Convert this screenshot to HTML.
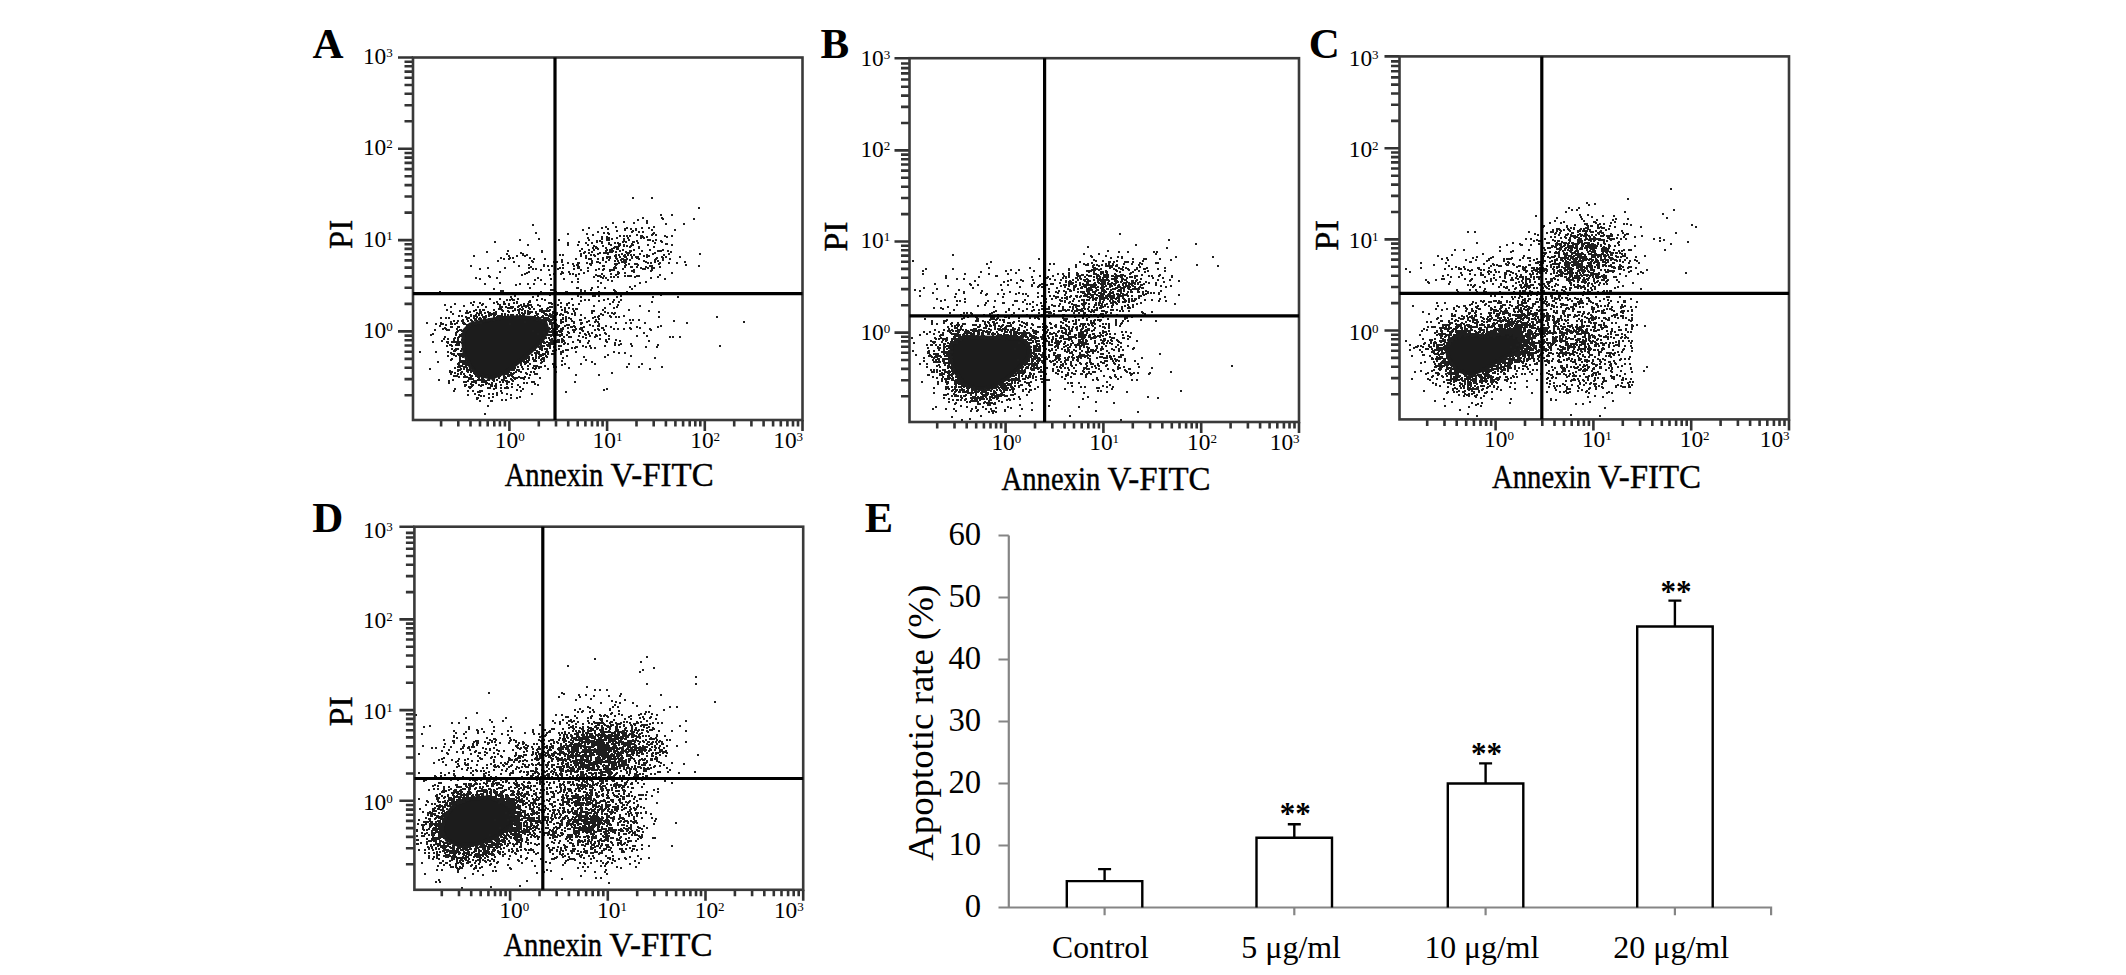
<!DOCTYPE html>
<html><head><meta charset="utf-8"><style>
html,body{margin:0;padding:0;background:#fff;}
svg{display:block;}
text{font-family:'Liberation Serif',serif;fill:#000;}
.h{stroke:#000;stroke-width:0.4px;}
</style></head><body>
<svg width="2126" height="975" viewBox="0 0 2126 975" style="font-family:'Liberation Serif',serif">
<rect width="2126" height="975" fill="#fff"/>
<polygon points="470.3,324.5 484.6,320.9 500.4,318.1 517.7,317.3 533.5,318.1 545.0,321.7 547.8,330.3 542.1,340.3 532.0,350.4 520.5,360.4 506.2,371.9 491.8,377.7 478.9,374.8 470.3,366.2 464.5,353.2 463.1,340.3 464.5,330.3" fill="#1c1c1c" stroke="#1c1c1c" stroke-width="4" stroke-linejoin="round"/><path d="M632 197.5h2M651 197.5h2M632 198.5h2M651 198.5h2M698 207.5h2M698 208.5h2M660 214.5h2M671 214.5h2M660 215.5h2M671 215.5h2M642 217.5h2M661 217.5h2M642 218.5h2M661 218.5h3M693 218.5h2M637 219.5h2M662 219.5h2M693 219.5h2M637 220.5h2M646 220.5h2M623 221.5h2M646 221.5h2M612 222.5h2M623 222.5h2M633 222.5h2M646 222.5h2M612 223.5h2M633 223.5h2M646 223.5h2M665 223.5h2M683 223.5h2M532 224.5h2M665 224.5h2M683 224.5h2M532 225.5h2M605 226.5h2M615 226.5h2M653 226.5h2M588 227.5h2M601 227.5h2M605 227.5h2M615 227.5h2M626 227.5h2M641 227.5h2M648 227.5h2M653 227.5h2M588 228.5h2M601 228.5h2M607 228.5h2M624 228.5h4M630 228.5h2M635 228.5h2M641 228.5h2M648 228.5h2M582 229.5h2M607 229.5h2M624 229.5h2M630 229.5h2M635 229.5h2M651 229.5h2M674 229.5h2M582 230.5h2M616 230.5h2M624 230.5h2M632 230.5h2M635 230.5h2M651 230.5h2M674 230.5h2M597 231.5h2M616 231.5h2M631 231.5h3M638 231.5h2M642 231.5h2M535 232.5h2M597 232.5h2M603 232.5h2M607 232.5h2M631 232.5h2M638 232.5h2M642 232.5h2M653 232.5h2M535 233.5h2M567 233.5h2M586 233.5h2M603 233.5h2M607 233.5h3M652 233.5h3M567 234.5h2M586 234.5h2M592 234.5h2M608 234.5h2M636 234.5h2M651 234.5h3M655 234.5h2M592 235.5h2M619 235.5h2M623 235.5h2M626 235.5h2M629 235.5h2M636 235.5h2M640 235.5h3M651 235.5h2M655 235.5h2M664 235.5h2M671 235.5h2M601 236.5h2M606 236.5h2M619 236.5h2M623 236.5h2M626 236.5h2M629 236.5h2M640 236.5h4M646 236.5h2M664 236.5h4M671 236.5h2M587 237.5h2M601 237.5h2M606 237.5h4M616 237.5h2M627 237.5h2M640 237.5h5M646 237.5h2M666 237.5h2M538 238.5h2M587 238.5h2M601 238.5h2M606 238.5h4M611 238.5h2M616 238.5h2M623 238.5h2M627 238.5h2M640 238.5h2M643 238.5h2M519 239.5h2M538 239.5h2M558 239.5h2M588 239.5h2M601 239.5h2M606 239.5h4M611 239.5h2M623 239.5h2M628 239.5h2M647 239.5h4M655 239.5h2M519 240.5h2M558 240.5h2M588 240.5h2M596 240.5h2M599 240.5h2M606 240.5h4M623 240.5h2M628 240.5h2M636 240.5h2M647 240.5h4M652 240.5h2M655 240.5h2M660 240.5h2M494 241.5h2M578 241.5h2M596 241.5h2M599 241.5h4M622 241.5h5M632 241.5h3M636 241.5h2M652 241.5h2M660 241.5h3M494 242.5h2M567 242.5h2M578 242.5h2M585 242.5h2M591 242.5h2M596 242.5h2M601 242.5h2M608 242.5h2M614 242.5h2M617 242.5h2M622 242.5h2M625 242.5h2M632 242.5h3M637 242.5h2M654 242.5h2M661 242.5h2M567 243.5h2M585 243.5h2M591 243.5h2M601 243.5h2M608 243.5h2M614 243.5h2M617 243.5h4M631 243.5h2M637 243.5h2M654 243.5h2M665 243.5h3M527 244.5h2M567 244.5h2M577 244.5h2M587 244.5h2M608 244.5h4M618 244.5h3M623 244.5h2M631 244.5h3M647 244.5h2M665 244.5h3M671 244.5h2M527 245.5h2M567 245.5h2M577 245.5h2M587 245.5h2M593 245.5h2M602 245.5h2M610 245.5h2M618 245.5h3M623 245.5h2M626 245.5h2M630 245.5h4M647 245.5h2M671 245.5h2M593 246.5h4M602 246.5h2M614 246.5h6M623 246.5h2M626 246.5h2M629 246.5h3M638 246.5h2M653 246.5h2M592 247.5h2M595 247.5h3M605 247.5h2M613 247.5h6M629 247.5h2M638 247.5h2M653 247.5h2M581 248.5h2M592 248.5h2M595 248.5h4M605 248.5h2M611 248.5h4M616 248.5h3M638 248.5h2M581 249.5h2M588 249.5h2M593 249.5h2M597 249.5h2M606 249.5h2M609 249.5h4M616 249.5h3M622 249.5h2M633 249.5h2M649 249.5h2M662 249.5h2M507 250.5h2M541 250.5h2M579 250.5h2M588 250.5h2M593 250.5h2M605 250.5h3M609 250.5h5M619 250.5h2M622 250.5h2M629 250.5h3M633 250.5h2M641 250.5h2M649 250.5h2M657 250.5h7M667 250.5h2M486 251.5h2M507 251.5h2M541 251.5h2M579 251.5h2M584 251.5h2M591 251.5h2M605 251.5h2M609 251.5h5M615 251.5h2M619 251.5h2M625 251.5h2M629 251.5h3M641 251.5h2M657 251.5h5M667 251.5h2M670 251.5h2M486 252.5h2M520 252.5h2M541 252.5h2M583 252.5h3M588 252.5h2M591 252.5h2M599 252.5h2M603 252.5h10M615 252.5h2M625 252.5h6M654 252.5h2M670 252.5h2M506 253.5h2M520 253.5h4M580 253.5h2M583 253.5h2M588 253.5h2M597 253.5h4M603 253.5h6M621 253.5h2M626 253.5h4M639 253.5h2M652 253.5h4M668 253.5h2M699 253.5h2M506 254.5h2M522 254.5h2M526 254.5h2M559 254.5h2M562 254.5h2M580 254.5h2M590 254.5h2M593 254.5h2M597 254.5h2M607 254.5h2M615 254.5h2M618 254.5h2M621 254.5h2M624 254.5h2M627 254.5h2M630 254.5h2M633 254.5h2M639 254.5h2M646 254.5h2M652 254.5h2M663 254.5h2M668 254.5h2M699 254.5h2M473 255.5h2M508 255.5h2M516 255.5h2M522 255.5h6M559 255.5h2M562 255.5h2M580 255.5h2M585 255.5h2M590 255.5h2M593 255.5h3M614 255.5h3M618 255.5h2M623 255.5h3M627 255.5h2M630 255.5h2M633 255.5h2M643 255.5h2M646 255.5h4M663 255.5h2M473 256.5h2M508 256.5h2M516 256.5h2M524 256.5h2M580 256.5h2M585 256.5h2M594 256.5h2M606 256.5h5M614 256.5h3M619 256.5h2M623 256.5h4M631 256.5h2M635 256.5h4M643 256.5h2M646 256.5h4M661 256.5h2M665 256.5h2M679 256.5h2M500 257.5h2M509 257.5h2M512 257.5h2M529 257.5h2M585 257.5h2M602 257.5h2M606 257.5h5M615 257.5h2M619 257.5h2M624 257.5h3M631 257.5h2M635 257.5h4M646 257.5h2M656 257.5h2M661 257.5h3M665 257.5h2M679 257.5h2M500 258.5h2M503 258.5h2M508 258.5h3M512 258.5h2M529 258.5h2M533 258.5h2M544 258.5h2M575 258.5h2M585 258.5h2M588 258.5h4M597 258.5h2M602 258.5h2M606 258.5h2M609 258.5h2M615 258.5h3M621 258.5h3M626 258.5h2M631 258.5h2M636 258.5h4M655 258.5h3M662 258.5h2M669 258.5h2M503 259.5h2M508 259.5h2M533 259.5h2M544 259.5h2M561 259.5h2M575 259.5h2M588 259.5h4M597 259.5h2M602 259.5h2M608 259.5h2M616 259.5h2M620 259.5h8M629 259.5h2M638 259.5h2M654 259.5h3M662 259.5h2M669 259.5h2M497 260.5h2M531 260.5h2M554 260.5h2M561 260.5h2M591 260.5h2M602 260.5h2M608 260.5h2M614 260.5h2M617 260.5h2M620 260.5h2M623 260.5h4M629 260.5h2M643 260.5h2M654 260.5h2M657 260.5h2M662 260.5h2M497 261.5h2M513 261.5h2M531 261.5h3M553 261.5h5M561 261.5h2M591 261.5h2M596 261.5h3M605 261.5h2M614 261.5h2M617 261.5h2M621 261.5h6M643 261.5h4M654 261.5h2M657 261.5h2M684 261.5h2M513 262.5h2M532 262.5h2M553 262.5h2M556 262.5h2M561 262.5h2M567 262.5h2M577 262.5h3M586 262.5h2M591 262.5h2M596 262.5h5M605 262.5h2M618 262.5h2M621 262.5h6M645 262.5h4M650 262.5h2M654 262.5h2M659 262.5h2M668 262.5h2M676 262.5h2M684 262.5h2M567 263.5h2M572 263.5h2M577 263.5h3M586 263.5h2M589 263.5h4M599 263.5h2M614 263.5h6M624 263.5h2M628 263.5h2M634 263.5h4M647 263.5h2M650 263.5h2M658 263.5h3M668 263.5h2M676 263.5h2M528 264.5h2M543 264.5h2M562 264.5h2M572 264.5h2M576 264.5h3M589 264.5h3M614 264.5h4M625 264.5h2M628 264.5h2M634 264.5h5M658 264.5h2M685 264.5h2M470 265.5h2M518 265.5h2M528 265.5h2M543 265.5h2M547 265.5h2M551 265.5h2M562 265.5h2M573 265.5h2M576 265.5h3M590 265.5h2M602 265.5h3M615 265.5h2M624 265.5h3M637 265.5h2M649 265.5h4M685 265.5h2M698 265.5h2M470 266.5h2M518 266.5h2M530 266.5h2M543 266.5h2M547 266.5h2M551 266.5h2M573 266.5h2M577 266.5h3M602 266.5h3M614 266.5h2M624 266.5h2M630 266.5h3M636 266.5h2M645 266.5h2M649 266.5h4M659 266.5h2M698 266.5h2M487 267.5h2M504 267.5h2M528 267.5h4M559 267.5h2M562 267.5h2M577 267.5h3M587 267.5h2M613 267.5h4M624 267.5h2M630 267.5h3M636 267.5h2M640 267.5h2M645 267.5h4M651 267.5h4M659 267.5h2M479 268.5h2M487 268.5h2M504 268.5h2M528 268.5h2M532 268.5h2M535 268.5h2M557 268.5h4M562 268.5h2M573 268.5h2M577 268.5h3M587 268.5h2M598 268.5h2M603 268.5h2M613 268.5h4M622 268.5h2M640 268.5h6M647 268.5h2M651 268.5h4M479 269.5h2M532 269.5h2M535 269.5h2M540 269.5h2M548 269.5h2M557 269.5h2M573 269.5h2M580 269.5h2M595 269.5h2M598 269.5h2M602 269.5h3M609 269.5h6M622 269.5h2M633 269.5h2M642 269.5h4M651 269.5h2M540 270.5h2M548 270.5h2M580 270.5h2M587 270.5h2M595 270.5h2M602 270.5h2M609 270.5h6M631 270.5h4M650 270.5h3M499 271.5h2M528 271.5h2M561 271.5h2M568 271.5h2M587 271.5h2M609 271.5h2M617 271.5h2M631 271.5h4M650 271.5h2M499 272.5h2M526 272.5h4M561 272.5h3M568 272.5h2M583 272.5h2M617 272.5h3M624 272.5h2M633 272.5h2M671 272.5h2M524 273.5h4M553 273.5h2M560 273.5h4M569 273.5h2M572 273.5h2M578 273.5h2M583 273.5h2M601 273.5h2M610 273.5h2M617 273.5h3M624 273.5h2M671 273.5h2M521 274.5h2M524 274.5h2M549 274.5h2M553 274.5h2M560 274.5h2M569 274.5h2M572 274.5h2M575 274.5h2M578 274.5h2M595 274.5h2M601 274.5h2M610 274.5h2M615 274.5h4M659 274.5h2M488 275.5h2M521 275.5h2M549 275.5h2M575 275.5h2M595 275.5h6M603 275.5h2M615 275.5h2M624 275.5h2M627 275.5h5M636 275.5h4M659 275.5h2M488 276.5h3M575 276.5h2M593 276.5h2M597 276.5h5M603 276.5h2M610 276.5h2M613 276.5h2M617 276.5h2M624 276.5h2M627 276.5h5M634 276.5h6M657 276.5h2M475 277.5h2M489 277.5h2M496 277.5h2M537 277.5h2M554 277.5h2M593 277.5h2M600 277.5h4M605 277.5h2M610 277.5h2M613 277.5h2M617 277.5h2M634 277.5h2M650 277.5h2M657 277.5h2M475 278.5h2M479 278.5h2M496 278.5h2M537 278.5h2M550 278.5h2M554 278.5h2M563 278.5h2M577 278.5h2M602 278.5h2M605 278.5h2M650 278.5h2M664 278.5h2M479 279.5h2M534 279.5h2M540 279.5h2M550 279.5h2M563 279.5h2M577 279.5h2M607 279.5h2M664 279.5h2M534 280.5h2M540 280.5h2M597 280.5h2M607 280.5h2M611 280.5h2M571 281.5h2M577 281.5h2M597 281.5h2M611 281.5h2M645 281.5h2M499 282.5h2M571 282.5h2M577 282.5h2M600 282.5h2M639 282.5h2M645 282.5h2M484 283.5h2M499 283.5h2M519 283.5h2M527 283.5h2M533 283.5h2M544 283.5h2M600 283.5h2M639 283.5h2M484 284.5h2M515 284.5h2M519 284.5h2M527 284.5h2M533 284.5h2M544 284.5h2M550 284.5h2M515 285.5h2M550 285.5h2M634 285.5h2M597 286.5h2M629 286.5h2M634 286.5h2M529 287.5h2M576 287.5h3M591 287.5h2M597 287.5h2M604 287.5h2M629 287.5h2M493 288.5h2M529 288.5h2M576 288.5h3M591 288.5h2M604 288.5h2M631 288.5h2M493 289.5h2M550 289.5h4M580 289.5h2M590 289.5h2M613 289.5h2M631 289.5h2M500 290.5h4M550 290.5h4M580 290.5h2M584 290.5h2M590 290.5h2M613 290.5h3M439 291.5h2M500 291.5h4M540 291.5h2M555 291.5h2M565 291.5h3M580 291.5h2M584 291.5h2M598 291.5h2M614 291.5h3M626 291.5h2M439 292.5h2M508 292.5h2M512 292.5h3M521 292.5h2M540 292.5h2M555 292.5h2M563 292.5h5M570 292.5h2M575 292.5h2M580 292.5h2M592 292.5h2M598 292.5h2M615 292.5h2M626 292.5h2M508 293.5h2M512 293.5h3M521 293.5h2M546 293.5h2M563 293.5h2M570 293.5h2M575 293.5h2M592 293.5h2M595 293.5h2M598 293.5h2M602 293.5h2M632 293.5h2M546 294.5h2M549 294.5h2M592 294.5h2M595 294.5h2M602 294.5h2M632 294.5h2M660 294.5h2M514 295.5h2M537 295.5h2M549 295.5h2M577 295.5h2M592 295.5h4M598 295.5h2M620 295.5h2M660 295.5h2M510 296.5h2M514 296.5h2M532 296.5h2M537 296.5h2M577 296.5h2M580 296.5h2M592 296.5h4M598 296.5h2M616 296.5h2M620 296.5h2M652 296.5h2M677 296.5h2M510 297.5h2M532 297.5h2M580 297.5h2M616 297.5h2M652 297.5h2M677 297.5h2M489 298.5h2M499 298.5h2M511 298.5h2M517 298.5h2M541 298.5h2M571 298.5h2M607 298.5h2M489 299.5h2M499 299.5h2M506 299.5h2M509 299.5h6M517 299.5h2M536 299.5h2M541 299.5h2M544 299.5h2M558 299.5h2M571 299.5h2M584 299.5h2M588 299.5h2M603 299.5h2M607 299.5h2M613 299.5h2M620 299.5h2M506 300.5h2M509 300.5h2M512 300.5h3M529 300.5h2M536 300.5h2M544 300.5h2M558 300.5h2M580 300.5h2M584 300.5h2M588 300.5h2M598 300.5h2M603 300.5h2M613 300.5h2M620 300.5h2M473 301.5h2M496 301.5h2M503 301.5h2M516 301.5h2M528 301.5h3M580 301.5h2M598 301.5h2M612 301.5h2M618 301.5h2M651 301.5h2M470 302.5h2M473 302.5h2M479 302.5h2M493 302.5h2M496 302.5h2M503 302.5h2M513 302.5h2M516 302.5h2M528 302.5h3M548 302.5h4M560 302.5h2M568 302.5h2M612 302.5h2M618 302.5h2M651 302.5h2M454 303.5h2M470 303.5h2M479 303.5h2M482 303.5h2M493 303.5h2M497 303.5h2M503 303.5h3M508 303.5h2M513 303.5h2M516 303.5h2M523 303.5h2M527 303.5h2M548 303.5h5M560 303.5h2M566 303.5h4M578 303.5h2M609 303.5h2M444 304.5h2M454 304.5h2M472 304.5h2M481 304.5h3M497 304.5h4M503 304.5h3M508 304.5h2M520 304.5h2M523 304.5h2M527 304.5h5M537 304.5h2M551 304.5h2M557 304.5h2M566 304.5h2M572 304.5h2M578 304.5h2M609 304.5h2M617 304.5h2M444 305.5h2M463 305.5h2M472 305.5h2M481 305.5h2M499 305.5h2M508 305.5h2M518 305.5h4M523 305.5h9M537 305.5h4M557 305.5h2M566 305.5h2M572 305.5h2M593 305.5h2M617 305.5h2M639 305.5h2M450 306.5h2M463 306.5h2M477 306.5h2M485 306.5h2M499 306.5h4M505 306.5h2M510 306.5h4M517 306.5h3M521 306.5h8M531 306.5h2M539 306.5h2M549 306.5h4M560 306.5h2M593 306.5h2M616 306.5h2M639 306.5h2M450 307.5h2M477 307.5h2M485 307.5h2M499 307.5h4M505 307.5h9M517 307.5h2M521 307.5h2M525 307.5h2M528 307.5h2M531 307.5h2M547 307.5h6M560 307.5h2M564 307.5h2M568 307.5h2M604 307.5h2M613 307.5h2M616 307.5h2M498 308.5h4M507 308.5h6M514 308.5h2M519 308.5h2M522 308.5h2M528 308.5h3M533 308.5h2M541 308.5h2M546 308.5h3M564 308.5h2M568 308.5h2M572 308.5h2M575 308.5h3M604 308.5h2M613 308.5h2M446 309.5h2M475 309.5h2M479 309.5h2M482 309.5h3M493 309.5h2M498 309.5h5M514 309.5h2M517 309.5h7M529 309.5h2M533 309.5h2M539 309.5h4M546 309.5h2M549 309.5h2M561 309.5h2M564 309.5h2M572 309.5h2M575 309.5h3M602 309.5h2M628 309.5h2M446 310.5h2M459 310.5h2M466 310.5h2M473 310.5h4M479 310.5h2M482 310.5h3M493 310.5h2M501 310.5h3M507 310.5h2M512 310.5h4M517 310.5h3M521 310.5h2M524 310.5h2M527 310.5h2M539 310.5h12M561 310.5h2M564 310.5h2M573 310.5h2M591 310.5h4M602 310.5h2M628 310.5h2M648 310.5h2M450 311.5h2M459 311.5h2M466 311.5h2M469 311.5h2M473 311.5h2M479 311.5h3M487 311.5h2M495 311.5h2M502 311.5h2M507 311.5h3M512 311.5h2M518 311.5h2M524 311.5h2M527 311.5h6M535 311.5h2M539 311.5h11M552 311.5h3M564 311.5h4M573 311.5h2M591 311.5h4M604 311.5h2M648 311.5h2M658 311.5h2M450 312.5h2M465 312.5h6M476 312.5h2M479 312.5h3M484 312.5h2M487 312.5h4M493 312.5h4M508 312.5h2M518 312.5h2M521 312.5h2M524 312.5h2M527 312.5h6M535 312.5h2M541 312.5h4M552 312.5h3M556 312.5h2M564 312.5h5M574 312.5h2M591 312.5h2M604 312.5h2M607 312.5h2M611 312.5h2M614 312.5h2M658 312.5h2M452 313.5h2M465 313.5h4M476 313.5h6M484 313.5h2M488 313.5h9M501 313.5h2M504 313.5h2M518 313.5h2M521 313.5h5M527 313.5h4M535 313.5h4M543 313.5h4M549 313.5h2M552 313.5h2M556 313.5h2M560 313.5h2M567 313.5h2M571 313.5h2M574 313.5h2M591 313.5h2M600 313.5h2M607 313.5h2M611 313.5h5M452 314.5h2M470 314.5h2M475 314.5h2M478 314.5h2M481 314.5h2M488 314.5h9M501 314.5h2M504 314.5h2M507 314.5h2M510 314.5h4M516 314.5h2M519 314.5h2M522 314.5h3M527 314.5h3M536 314.5h3M544 314.5h4M549 314.5h4M555 314.5h3M559 314.5h5M571 314.5h2M574 314.5h2M580 314.5h2M600 314.5h4M613 314.5h2M458 315.5h2M461 315.5h2M470 315.5h2M473 315.5h4M478 315.5h2M481 315.5h2M485 315.5h2M488 315.5h4M493 315.5h3M497 315.5h6M504 315.5h2M507 315.5h2M510 315.5h4M516 315.5h2M519 315.5h6M534 315.5h4M542 315.5h2M545 315.5h12M559 315.5h2M562 315.5h2M574 315.5h2M580 315.5h2M598 315.5h2M602 315.5h2M609 315.5h2M623 315.5h2M458 316.5h2M461 316.5h2M465 316.5h2M470 316.5h2M473 316.5h5M482 316.5h5M488 316.5h2M493 316.5h2M496 316.5h6M504 316.5h2M507 316.5h4M512 316.5h11M526 316.5h2M530 316.5h6M537 316.5h2M541 316.5h3M548 316.5h7M565 316.5h2M594 316.5h2M597 316.5h3M609 316.5h3M615 316.5h2M618 316.5h2M623 316.5h2M658 316.5h2M716 316.5h2M440 317.5h2M445 317.5h2M448 317.5h2M465 317.5h5M473 317.5h2M476 317.5h2M479 317.5h2M482 317.5h5M493 317.5h9M503 317.5h2M506 317.5h5M514 317.5h8M523 317.5h2M526 317.5h23M550 317.5h5M562 317.5h2M565 317.5h2M568 317.5h2M584 317.5h2M592 317.5h4M597 317.5h2M610 317.5h2M615 317.5h2M618 317.5h2M658 317.5h2M716 317.5h2M440 318.5h2M445 318.5h2M448 318.5h2M466 318.5h4M473 318.5h4M478 318.5h4M483 318.5h3M488 318.5h4M493 318.5h4M498 318.5h4M503 318.5h2M506 318.5h5M516 318.5h6M523 318.5h2M527 318.5h3M531 318.5h10M543 318.5h7M552 318.5h3M562 318.5h2M565 318.5h2M568 318.5h4M584 318.5h2M592 318.5h2M598 318.5h2M462 319.5h2M466 319.5h2M470 319.5h2M474 319.5h3M478 319.5h4M483 319.5h2M486 319.5h6M493 319.5h2M531 319.5h4M536 319.5h5M543 319.5h14M560 319.5h4M565 319.5h2M570 319.5h2M579 319.5h3M595 319.5h2M598 319.5h2M629 319.5h2M632 319.5h2M638 319.5h2M453 320.5h2M457 320.5h2M461 320.5h3M467 320.5h2M470 320.5h3M474 320.5h4M483 320.5h2M486 320.5h4M493 320.5h2M536 320.5h2M539 320.5h2M542 320.5h11M554 320.5h3M560 320.5h2M565 320.5h2M571 320.5h2M579 320.5h3M588 320.5h2M595 320.5h2M629 320.5h2M632 320.5h2M638 320.5h2M673 320.5h2M450 321.5h2M453 321.5h2M457 321.5h2M461 321.5h3M467 321.5h2M471 321.5h3M476 321.5h2M483 321.5h2M524 321.5h2M542 321.5h2M548 321.5h4M554 321.5h2M560 321.5h4M565 321.5h2M571 321.5h4M586 321.5h4M594 321.5h5M673 321.5h2M743 321.5h2M426 322.5h2M440 322.5h2M450 322.5h2M456 322.5h2M462 322.5h3M472 322.5h10M524 322.5h2M542 322.5h2M545 322.5h2M549 322.5h7M560 322.5h4M573 322.5h2M580 322.5h3M586 322.5h2M594 322.5h2M597 322.5h2M615 322.5h2M625 322.5h2M630 322.5h2M644 322.5h2M686 322.5h2M743 322.5h2M426 323.5h2M435 323.5h2M440 323.5h4M450 323.5h3M454 323.5h4M462 323.5h4M469 323.5h2M474 323.5h8M509 323.5h2M545 323.5h2M549 323.5h5M555 323.5h2M560 323.5h2M573 323.5h2M580 323.5h3M598 323.5h2M615 323.5h2M625 323.5h2M630 323.5h2M644 323.5h2M686 323.5h2M435 324.5h2M440 324.5h4M445 324.5h2M450 324.5h3M454 324.5h2M463 324.5h5M469 324.5h2M474 324.5h3M509 324.5h2M549 324.5h4M555 324.5h3M566 324.5h4M580 324.5h2M589 324.5h2M598 324.5h2M439 325.5h2M445 325.5h2M466 325.5h2M469 325.5h2M551 325.5h2M556 325.5h4M564 325.5h6M573 325.5h2M589 325.5h2M592 325.5h2M597 325.5h3M605 325.5h2M660 325.5h2M439 326.5h2M450 326.5h3M457 326.5h3M468 326.5h3M546 326.5h2M551 326.5h2M556 326.5h4M564 326.5h2M570 326.5h6M583 326.5h2M592 326.5h2M597 326.5h3M605 326.5h2M610 326.5h2M636 326.5h2M657 326.5h2M660 326.5h2M444 327.5h2M450 327.5h3M457 327.5h3M465 327.5h5M546 327.5h4M551 327.5h2M556 327.5h3M562 327.5h2M567 327.5h2M570 327.5h3M574 327.5h2M580 327.5h5M601 327.5h3M610 327.5h2M629 327.5h2M636 327.5h2M639 327.5h2M657 327.5h2M442 328.5h5M456 328.5h2M465 328.5h4M548 328.5h6M556 328.5h2M560 328.5h4M567 328.5h2M575 328.5h2M579 328.5h4M597 328.5h2M601 328.5h3M613 328.5h2M617 328.5h2M623 328.5h2M629 328.5h3M639 328.5h2M649 328.5h2M434 329.5h2M442 329.5h2M445 329.5h5M456 329.5h2M459 329.5h3M464 329.5h4M549 329.5h2M552 329.5h6M560 329.5h4M572 329.5h5M579 329.5h4M594 329.5h2M597 329.5h3M603 329.5h2M613 329.5h2M617 329.5h2M623 329.5h2M630 329.5h2M649 329.5h3M434 330.5h2M446 330.5h4M457 330.5h6M464 330.5h3M532 330.5h2M551 330.5h5M558 330.5h5M572 330.5h4M581 330.5h3M594 330.5h2M598 330.5h2M603 330.5h2M650 330.5h2M456 331.5h3M461 331.5h2M464 331.5h2M532 331.5h2M543 331.5h2M549 331.5h5M555 331.5h8M567 331.5h2M573 331.5h2M582 331.5h2M587 331.5h2M455 332.5h3M463 332.5h2M543 332.5h2M549 332.5h9M559 332.5h3M567 332.5h3M573 332.5h2M579 332.5h2M587 332.5h2M591 332.5h2M604 332.5h2M643 332.5h2M432 333.5h2M455 333.5h2M461 333.5h4M537 333.5h2M543 333.5h2M552 333.5h6M561 333.5h2M568 333.5h2M579 333.5h2M584 333.5h2M588 333.5h2M591 333.5h2M604 333.5h3M643 333.5h2M430 334.5h4M455 334.5h2M459 334.5h6M537 334.5h2M547 334.5h7M555 334.5h8M566 334.5h2M584 334.5h3M588 334.5h2M595 334.5h2M599 334.5h2M605 334.5h2M430 335.5h2M455 335.5h2M459 335.5h6M544 335.5h2M547 335.5h16M566 335.5h2M578 335.5h2M585 335.5h2M589 335.5h2M595 335.5h3M599 335.5h2M608 335.5h2M636 335.5h2M646 335.5h2M444 336.5h2M458 336.5h7M544 336.5h2M550 336.5h2M553 336.5h2M559 336.5h2M563 336.5h2M568 336.5h4M578 336.5h2M582 336.5h2M589 336.5h2M594 336.5h4M608 336.5h2M636 336.5h2M646 336.5h2M669 336.5h2M672 336.5h2M679 336.5h2M444 337.5h2M454 337.5h2M457 337.5h3M462 337.5h3M545 337.5h2M548 337.5h2M554 337.5h2M563 337.5h2M568 337.5h4M582 337.5h2M585 337.5h2M594 337.5h2M669 337.5h2M672 337.5h2M679 337.5h2M443 338.5h2M447 338.5h2M453 338.5h3M457 338.5h2M463 338.5h2M545 338.5h2M548 338.5h2M551 338.5h2M554 338.5h2M561 338.5h2M585 338.5h2M599 338.5h2M608 338.5h2M443 339.5h2M447 339.5h2M453 339.5h2M457 339.5h2M461 339.5h2M549 339.5h4M557 339.5h3M561 339.5h3M577 339.5h2M599 339.5h2M605 339.5h2M608 339.5h2M615 339.5h2M441 340.5h2M453 340.5h2M457 340.5h2M461 340.5h3M549 340.5h11M561 340.5h4M577 340.5h4M588 340.5h2M605 340.5h2M615 340.5h2M619 340.5h2M648 340.5h2M432 341.5h2M441 341.5h2M446 341.5h3M451 341.5h10M462 341.5h2M542 341.5h3M546 341.5h2M550 341.5h10M561 341.5h4M572 341.5h2M579 341.5h2M588 341.5h2M605 341.5h3M619 341.5h2M648 341.5h2M432 342.5h2M446 342.5h3M451 342.5h12M542 342.5h18M561 342.5h2M564 342.5h2M572 342.5h2M579 342.5h2M587 342.5h2M606 342.5h2M614 342.5h2M447 343.5h2M456 343.5h4M461 343.5h2M540 343.5h2M543 343.5h3M548 343.5h8M563 343.5h3M567 343.5h2M587 343.5h2M614 343.5h2M620 343.5h2M630 343.5h2M449 344.5h3M455 344.5h5M540 344.5h2M546 344.5h10M563 344.5h2M567 344.5h2M614 344.5h2M618 344.5h4M630 344.5h2M657 344.5h2M446 345.5h2M449 345.5h4M455 345.5h5M540 345.5h5M546 345.5h5M558 345.5h4M582 345.5h2M589 345.5h2M604 345.5h2M614 345.5h2M618 345.5h2M631 345.5h2M657 345.5h2M719 345.5h2M446 346.5h2M451 346.5h2M463 346.5h2M538 346.5h7M547 346.5h4M553 346.5h3M558 346.5h4M575 346.5h3M582 346.5h2M585 346.5h2M589 346.5h2M604 346.5h2M631 346.5h2M645 346.5h2M656 346.5h2M719 346.5h2M463 347.5h2M538 347.5h5M549 347.5h2M553 347.5h3M571 347.5h2M574 347.5h4M585 347.5h2M590 347.5h2M594 347.5h2M645 347.5h2M656 347.5h2M451 348.5h2M455 348.5h4M461 348.5h2M539 348.5h4M544 348.5h4M549 348.5h2M558 348.5h2M571 348.5h2M574 348.5h2M590 348.5h2M594 348.5h2M451 349.5h2M454 349.5h5M461 349.5h2M534 349.5h2M539 349.5h4M544 349.5h4M555 349.5h2M558 349.5h2M565 349.5h4M453 350.5h4M460 350.5h2M534 350.5h4M541 350.5h2M546 350.5h2M552 350.5h2M555 350.5h2M562 350.5h2M565 350.5h4M419 351.5h2M435 351.5h2M447 351.5h2M453 351.5h3M460 351.5h2M536 351.5h4M545 351.5h4M552 351.5h2M560 351.5h4M575 351.5h2M613 351.5h2M419 352.5h2M435 352.5h2M447 352.5h2M450 352.5h2M463 352.5h2M534 352.5h6M545 352.5h4M560 352.5h4M575 352.5h2M613 352.5h2M618 352.5h2M624 352.5h2M450 353.5h5M457 353.5h8M534 353.5h6M542 353.5h4M547 353.5h2M551 353.5h3M560 353.5h2M618 353.5h2M624 353.5h2M451 354.5h4M457 354.5h9M531 354.5h2M535 354.5h2M538 354.5h8M547 354.5h2M551 354.5h3M560 354.5h2M607 354.5h2M447 355.5h2M453 355.5h4M458 355.5h8M531 355.5h2M535 355.5h2M539 355.5h5M545 355.5h2M566 355.5h2M607 355.5h2M630 355.5h2M447 356.5h2M455 356.5h2M459 356.5h5M465 356.5h2M527 356.5h3M535 356.5h2M538 356.5h4M545 356.5h3M566 356.5h2M583 356.5h2M604 356.5h2M630 356.5h2M459 357.5h2M462 357.5h2M465 357.5h3M526 357.5h4M532 357.5h2M535 357.5h2M538 357.5h2M542 357.5h3M546 357.5h2M562 357.5h2M583 357.5h2M604 357.5h2M654 357.5h2M451 358.5h2M459 358.5h2M465 358.5h3M524 358.5h6M532 358.5h2M535 358.5h2M538 358.5h2M541 358.5h4M562 358.5h2M654 358.5h2M450 359.5h3M459 359.5h2M465 359.5h3M524 359.5h3M528 359.5h2M532 359.5h4M540 359.5h5M585 359.5h2M450 360.5h2M459 360.5h9M522 360.5h3M526 360.5h4M533 360.5h4M540 360.5h2M543 360.5h2M561 360.5h2M585 360.5h2M437 361.5h2M459 361.5h7M468 361.5h2M522 361.5h7M533 361.5h4M541 361.5h4M561 361.5h2M591 361.5h2M437 362.5h2M458 362.5h12M520 362.5h2M523 362.5h6M540 362.5h3M591 362.5h2M457 363.5h3M462 363.5h8M520 363.5h2M524 363.5h3M529 363.5h2M540 363.5h2M552 363.5h2M564 363.5h2M580 363.5h2M594 363.5h2M628 363.5h2M641 363.5h2M457 364.5h3M462 364.5h6M469 364.5h2M520 364.5h2M524 364.5h2M529 364.5h2M552 364.5h2M561 364.5h2M564 364.5h2M580 364.5h2M594 364.5h2M628 364.5h2M641 364.5h2M458 365.5h5M465 365.5h3M469 365.5h2M520 365.5h2M527 365.5h2M533 365.5h5M544 365.5h2M553 365.5h2M561 365.5h2M457 366.5h10M469 366.5h2M517 366.5h2M521 366.5h2M527 366.5h2M533 366.5h9M544 366.5h2M553 366.5h4M626 366.5h2M638 366.5h2M661 366.5h2M454 367.5h2M457 367.5h4M463 367.5h5M469 367.5h3M513 367.5h3M517 367.5h2M521 367.5h2M532 367.5h2M535 367.5h2M538 367.5h4M553 367.5h4M568 367.5h2M626 367.5h2M638 367.5h2M661 367.5h2M429 368.5h2M454 368.5h2M460 368.5h2M463 368.5h2M466 368.5h2M469 368.5h3M513 368.5h3M522 368.5h2M527 368.5h2M532 368.5h5M538 368.5h2M547 368.5h2M568 368.5h2M649 368.5h2M429 369.5h2M457 369.5h5M463 369.5h2M466 369.5h5M472 369.5h2M511 369.5h4M516 369.5h4M522 369.5h2M527 369.5h2M534 369.5h2M547 369.5h2M649 369.5h2M449 370.5h2M457 370.5h4M466 370.5h8M511 370.5h4M516 370.5h4M449 371.5h4M457 371.5h2M461 371.5h2M466 371.5h3M470 371.5h5M508 371.5h2M515 371.5h2M518 371.5h4M530 371.5h2M533 371.5h2M555 371.5h2M449 372.5h4M454 372.5h2M460 372.5h3M467 372.5h2M470 372.5h2M473 372.5h2M506 372.5h6M513 372.5h4M520 372.5h2M525 372.5h2M530 372.5h2M533 372.5h2M555 372.5h2M611 372.5h2M450 373.5h2M454 373.5h2M457 373.5h2M460 373.5h2M463 373.5h2M473 373.5h3M505 373.5h4M510 373.5h5M525 373.5h3M534 373.5h4M611 373.5h2M450 374.5h2M457 374.5h2M460 374.5h2M463 374.5h2M469 374.5h2M474 374.5h2M503 374.5h11M526 374.5h2M529 374.5h2M534 374.5h4M575 374.5h2M598 374.5h2M453 375.5h5M464 375.5h2M469 375.5h4M475 375.5h4M499 375.5h2M503 375.5h2M507 375.5h6M529 375.5h2M575 375.5h2M598 375.5h2M453 376.5h7M463 376.5h5M470 376.5h3M475 376.5h4M482 376.5h2M486 376.5h2M499 376.5h2M503 376.5h3M507 376.5h3M511 376.5h3M518 376.5h2M524 376.5h2M458 377.5h2M463 377.5h9M477 377.5h3M481 377.5h3M486 377.5h2M498 377.5h2M503 377.5h4M512 377.5h14M528 377.5h2M539 377.5h2M468 378.5h6M478 378.5h2M481 378.5h3M493 378.5h2M498 378.5h2M503 378.5h4M510 378.5h2M513 378.5h5M520 378.5h5M528 378.5h2M539 378.5h2M438 379.5h2M452 379.5h2M468 379.5h6M477 379.5h8M487 379.5h3M492 379.5h3M496 379.5h2M501 379.5h4M510 379.5h3M514 379.5h2M523 379.5h2M438 380.5h2M448 380.5h2M452 380.5h2M467 380.5h2M473 380.5h17M492 380.5h3M496 380.5h2M501 380.5h7M511 380.5h3M448 381.5h2M463 381.5h6M471 381.5h6M481 381.5h6M493 381.5h2M499 381.5h2M502 381.5h2M505 381.5h5M512 381.5h2M531 381.5h4M574 381.5h2M448 382.5h2M463 382.5h4M471 382.5h6M481 382.5h7M491 382.5h2M499 382.5h2M502 382.5h2M506 382.5h4M523 382.5h2M526 382.5h2M531 382.5h4M574 382.5h2M448 383.5h2M470 383.5h2M475 383.5h2M485 383.5h5M491 383.5h2M495 383.5h2M506 383.5h2M511 383.5h2M523 383.5h2M526 383.5h2M534 383.5h2M464 384.5h3M470 384.5h4M478 384.5h2M481 384.5h3M485 384.5h2M488 384.5h5M495 384.5h2M500 384.5h2M506 384.5h2M511 384.5h2M517 384.5h2M534 384.5h2M537 384.5h2M464 385.5h3M471 385.5h3M478 385.5h6M490 385.5h3M494 385.5h3M500 385.5h2M517 385.5h2M537 385.5h2M464 386.5h2M468 386.5h5M480 386.5h2M490 386.5h3M494 386.5h3M506 386.5h2M511 386.5h2M519 386.5h2M468 387.5h4M487 387.5h4M495 387.5h2M500 387.5h2M504 387.5h5M511 387.5h2M519 387.5h2M454 388.5h2M469 388.5h2M487 388.5h4M493 388.5h4M500 388.5h2M504 388.5h5M522 388.5h2M606 388.5h2M454 389.5h2M493 389.5h2M516 389.5h2M522 389.5h2M603 389.5h2M606 389.5h2M453 390.5h2M467 390.5h2M472 390.5h2M479 390.5h4M500 390.5h2M516 390.5h2M520 390.5h2M603 390.5h2M453 391.5h2M467 391.5h2M472 391.5h2M477 391.5h6M500 391.5h2M520 391.5h2M565 391.5h2M477 392.5h4M496 392.5h2M501 392.5h2M565 392.5h2M474 393.5h2M488 393.5h2M492 393.5h2M496 393.5h2M501 393.5h2M506 393.5h2M531 393.5h2M467 394.5h2M474 394.5h2M478 394.5h2M488 394.5h2M492 394.5h2M496 394.5h2M506 394.5h2M510 394.5h2M531 394.5h2M467 395.5h2M478 395.5h4M483 395.5h2M496 395.5h2M510 395.5h2M480 396.5h2M483 396.5h2M492 396.5h2M519 396.5h2M476 397.5h3M488 397.5h2M492 397.5h2M510 397.5h2M516 397.5h2M519 397.5h2M476 398.5h3M488 398.5h2M510 398.5h2M516 398.5h2M476 399.5h2M501 399.5h2M505 399.5h2M479 400.5h2M490 400.5h3M501 400.5h2M505 400.5h2M479 401.5h2M490 401.5h3M487 405.5h2M487 406.5h2M484 413.5h2M484 414.5h2" stroke="#1e1e1e" stroke-width="1" fill="none"/>
<path d="M404.5 395.2H413.0M404.5 379.1H413.0M404.5 367.7H413.0M404.5 358.9H413.0M404.5 351.7H413.0M404.5 345.5H413.0M404.5 340.2H413.0M404.5 335.6H413.0M398.0 331.4H413.0M404.5 303.9H413.0M404.5 287.8H413.0M404.5 276.4H413.0M404.5 267.6H413.0M404.5 260.4H413.0M404.5 254.2H413.0M404.5 248.9H413.0M404.5 244.3H413.0M398.0 240.1H413.0M404.5 212.6H413.0M404.5 196.5H413.0M404.5 185.1H413.0M404.5 176.3H413.0M404.5 169.1H413.0M404.5 162.9H413.0M404.5 157.6H413.0M404.5 153.0H413.0M398.0 148.8H413.0M404.5 121.3H413.0M404.5 105.2H413.0M404.5 93.8H413.0M404.5 85.0H413.0M404.5 77.8H413.0M404.5 71.6H413.0M404.5 66.3H413.0M404.5 61.7H413.0M398.0 57.5H413.0M441.1 420.0V426.5M458.3 420.0V426.5M470.5 420.0V426.5M480.0 420.0V426.5M487.7 420.0V426.5M494.3 420.0V426.5M499.9 420.0V426.5M504.9 420.0V426.5M509.4 420.0V431.0M538.8 420.0V426.5M556.0 420.0V426.5M568.2 420.0V426.5M577.7 420.0V426.5M585.4 420.0V426.5M592.0 420.0V426.5M597.6 420.0V426.5M602.6 420.0V426.5M607.1 420.0V431.0M636.5 420.0V426.5M653.7 420.0V426.5M665.9 420.0V426.5M675.4 420.0V426.5M683.1 420.0V426.5M689.7 420.0V426.5M695.3 420.0V426.5M700.3 420.0V426.5M704.8 420.0V431.0M734.2 420.0V426.5M751.4 420.0V426.5M763.6 420.0V426.5M773.1 420.0V426.5M780.8 420.0V426.5M787.4 420.0V426.5M793.0 420.0V426.5M798.0 420.0V426.5M802.5 420.0V431.0" stroke="#333" stroke-width="2.6" fill="none"/>
<rect x="413.0" y="57.5" width="389.5" height="362.5" fill="none" stroke="#3a3a3a" stroke-width="2.6"/>
<path d="M555.0 57.5V420.0M413.0 293.6H802.5" stroke="#000" stroke-width="3.2"/>
<text x="312.6" y="57.9" font-size="43" font-weight="bold">A</text>
<text x="362.9" y="337.9" font-size="23.4">10<tspan font-size="13" dy="-7">0</tspan></text>
<text x="362.9" y="246.6" font-size="23.4">10<tspan font-size="13" dy="-7">1</tspan></text>
<text x="362.9" y="155.3" font-size="23.4">10<tspan font-size="13" dy="-7">2</tspan></text>
<text x="362.9" y="64.0" font-size="23.4">10<tspan font-size="13" dy="-7">3</tspan></text>
<text x="494.8" y="447.8" font-size="23.4">10<tspan font-size="13" dy="-7">0</tspan></text>
<text x="592.5" y="447.8" font-size="23.4">10<tspan font-size="13" dy="-7">1</tspan></text>
<text x="690.2" y="447.8" font-size="23.4">10<tspan font-size="13" dy="-7">2</tspan></text>
<text x="773.2" y="447.8" font-size="23.4">10<tspan font-size="13" dy="-7">3</tspan></text>
<text x="504.7" y="485.8" font-size="33.6" textLength="98.6" lengthAdjust="spacingAndGlyphs" class="h">Annexin</text>
<text x="610.5" y="485.8" font-size="33.6" textLength="103.2" lengthAdjust="spacingAndGlyphs" class="h">V-FITC</text>
<text transform="translate(351.9,248.9) rotate(-90)" class="h" font-size="34" textLength="29.0" lengthAdjust="spacingAndGlyphs">PI</text>
<polygon points="952.0,344.1 964.1,336.7 984.4,337.4 1004.8,338.1 1021.0,338.7 1029.1,346.9 1027.8,357.7 1018.3,368.5 1007.5,378.0 991.2,387.5 977.7,388.8 964.1,383.4 954.7,371.2 950.6,357.7" fill="#1c1c1c" stroke="#1c1c1c" stroke-width="4" stroke-linejoin="round"/><path d="M1119 233.5h2M1119 234.5h2M1168 239.5h2M1168 240.5h2M1195 243.5h2M1135 244.5h2M1195 244.5h2M1135 245.5h2M1087 246.5h2M1087 247.5h2M1166 247.5h2M1166 248.5h2M1107 250.5h2M1107 251.5h2M1118 251.5h2M1127 251.5h2M1153 251.5h2M1156 251.5h2M1118 252.5h2M1127 252.5h2M1153 252.5h2M1156 252.5h2M1083 253.5h2M1098 253.5h2M1155 253.5h2M952 254.5h2M1083 254.5h2M1098 254.5h2M1155 254.5h2M952 255.5h2M1090 255.5h2M1105 255.5h2M1090 256.5h3M1105 256.5h2M1117 256.5h2M1121 256.5h2M1175 256.5h2M1212 256.5h2M1091 257.5h2M1110 257.5h2M1117 257.5h2M1121 257.5h2M1175 257.5h2M1212 257.5h2M1038 258.5h2M1110 258.5h2M1121 258.5h2M1132 258.5h2M1143 258.5h4M1159 258.5h2M1038 259.5h2M1093 259.5h2M1132 259.5h2M1143 259.5h4M1159 259.5h2M1170 259.5h2M912 260.5h2M1093 260.5h4M1102 260.5h2M1116 260.5h2M1142 260.5h2M1170 260.5h2M912 261.5h2M990 261.5h2M1079 261.5h2M1095 261.5h2M1102 261.5h2M1108 261.5h3M1113 261.5h2M1116 261.5h2M1124 261.5h5M1132 261.5h2M1142 261.5h2M990 262.5h2M1079 262.5h2M1091 262.5h2M1108 262.5h3M1113 262.5h2M1124 262.5h5M1132 262.5h2M1139 262.5h2M1155 262.5h4M986 263.5h2M1049 263.5h2M1053 263.5h2M1083 263.5h2M1087 263.5h2M1091 263.5h2M1105 263.5h2M1108 263.5h2M1112 263.5h2M1123 263.5h2M1131 263.5h2M1139 263.5h4M1155 263.5h4M986 264.5h2M1049 264.5h2M1053 264.5h2M1075 264.5h2M1083 264.5h6M1093 264.5h2M1096 264.5h2M1101 264.5h2M1105 264.5h2M1108 264.5h2M1112 264.5h2M1116 264.5h2M1123 264.5h2M1131 264.5h2M1138 264.5h2M1141 264.5h2M1196 264.5h2M1075 265.5h2M1085 265.5h4M1092 265.5h3M1096 265.5h4M1101 265.5h2M1105 265.5h9M1115 265.5h3M1138 265.5h2M1196 265.5h2M1217 265.5h2M1075 266.5h2M1092 266.5h2M1098 266.5h2M1105 266.5h8M1115 266.5h3M1122 266.5h2M1139 266.5h2M1217 266.5h2M988 267.5h2M1029 267.5h2M1075 267.5h2M1092 267.5h4M1109 267.5h4M1118 267.5h2M1122 267.5h2M1125 267.5h2M1136 267.5h2M1139 267.5h2M1146 267.5h2M1164 267.5h2M925 268.5h2M952 268.5h2M988 268.5h2M1029 268.5h2M1068 268.5h2M1093 268.5h5M1100 268.5h2M1109 268.5h2M1113 268.5h2M1118 268.5h5M1125 268.5h4M1136 268.5h2M1143 268.5h5M1157 268.5h2M1164 268.5h2M925 269.5h2M952 269.5h2M1010 269.5h2M1018 269.5h2M1048 269.5h2M1068 269.5h2M1091 269.5h11M1113 269.5h4M1120 269.5h4M1127 269.5h3M1134 269.5h4M1143 269.5h3M1157 269.5h2M922 270.5h2M1005 270.5h2M1010 270.5h2M1018 270.5h2M1033 270.5h2M1048 270.5h2M1068 270.5h2M1086 270.5h10M1098 270.5h2M1105 270.5h2M1115 270.5h3M1122 270.5h2M1128 270.5h2M1134 270.5h2M1138 270.5h2M1147 270.5h2M1164 270.5h2M922 271.5h2M980 271.5h2M1005 271.5h2M1033 271.5h2M1086 271.5h6M1093 271.5h2M1100 271.5h4M1105 271.5h3M1116 271.5h2M1119 271.5h2M1132 271.5h2M1138 271.5h2M1144 271.5h2M1147 271.5h2M1164 271.5h2M980 272.5h2M1015 272.5h2M1068 272.5h2M1076 272.5h2M1088 272.5h2M1093 272.5h2M1100 272.5h4M1105 272.5h3M1119 272.5h2M1130 272.5h4M1144 272.5h2M922 273.5h2M964 273.5h2M988 273.5h2M1007 273.5h2M1015 273.5h2M1057 273.5h2M1062 273.5h2M1068 273.5h2M1076 273.5h3M1093 273.5h4M1100 273.5h4M1106 273.5h2M1114 273.5h2M1129 273.5h3M922 274.5h2M964 274.5h2M988 274.5h2M1007 274.5h2M1057 274.5h2M1062 274.5h2M1068 274.5h2M1076 274.5h3M1081 274.5h3M1086 274.5h2M1093 274.5h6M1100 274.5h2M1103 274.5h6M1114 274.5h3M1120 274.5h4M1129 274.5h2M1141 274.5h2M1159 274.5h2M945 275.5h2M995 275.5h3M1039 275.5h2M1052 275.5h2M1063 275.5h2M1068 275.5h2M1076 275.5h8M1086 275.5h6M1096 275.5h4M1103 275.5h6M1111 275.5h3M1115 275.5h11M1134 275.5h4M1141 275.5h2M1148 275.5h2M1151 275.5h2M1158 275.5h3M1171 275.5h2M945 276.5h2M978 276.5h2M995 276.5h3M1031 276.5h2M1039 276.5h2M1047 276.5h2M1052 276.5h2M1063 276.5h4M1068 276.5h2M1077 276.5h4M1084 276.5h2M1088 276.5h4M1093 276.5h2M1096 276.5h5M1103 276.5h6M1111 276.5h12M1124 276.5h2M1129 276.5h4M1134 276.5h4M1148 276.5h2M1151 276.5h2M1158 276.5h2M1171 276.5h2M945 277.5h2M978 277.5h2M1031 277.5h2M1046 277.5h3M1062 277.5h2M1065 277.5h2M1068 277.5h2M1075 277.5h3M1079 277.5h2M1084 277.5h2M1093 277.5h2M1096 277.5h2M1099 277.5h2M1102 277.5h7M1114 277.5h4M1120 277.5h3M1126 277.5h2M1129 277.5h4M1134 277.5h2M1152 277.5h2M1162 277.5h2M1171 277.5h2M945 278.5h2M956 278.5h2M963 278.5h2M1046 278.5h2M1049 278.5h2M1062 278.5h2M1065 278.5h2M1075 278.5h3M1079 278.5h3M1086 278.5h2M1096 278.5h5M1102 278.5h2M1106 278.5h2M1111 278.5h7M1121 278.5h3M1126 278.5h2M1134 278.5h2M1140 278.5h2M1152 278.5h2M1162 278.5h2M956 279.5h2M963 279.5h2M1010 279.5h2M1020 279.5h2M1032 279.5h2M1049 279.5h2M1054 279.5h2M1060 279.5h2M1072 279.5h2M1077 279.5h2M1080 279.5h2M1083 279.5h6M1093 279.5h2M1097 279.5h12M1111 279.5h6M1121 279.5h6M1136 279.5h2M1140 279.5h2M1157 279.5h2M1169 279.5h2M974 280.5h2M1007 280.5h2M1010 280.5h2M1020 280.5h4M1032 280.5h2M1054 280.5h2M1060 280.5h2M1065 280.5h2M1069 280.5h2M1072 280.5h2M1077 280.5h2M1083 280.5h3M1087 280.5h4M1093 280.5h2M1097 280.5h13M1114 280.5h4M1121 280.5h2M1124 280.5h3M1131 280.5h3M1135 280.5h3M1157 280.5h2M1169 280.5h2M1178 280.5h2M974 281.5h2M1003 281.5h2M1007 281.5h2M1022 281.5h2M1065 281.5h2M1068 281.5h4M1075 281.5h2M1084 281.5h7M1097 281.5h2M1100 281.5h6M1108 281.5h2M1114 281.5h5M1120 281.5h3M1126 281.5h2M1131 281.5h3M1135 281.5h2M1139 281.5h2M1145 281.5h2M1163 281.5h2M1178 281.5h2M1003 282.5h2M1016 282.5h2M1033 282.5h2M1059 282.5h2M1065 282.5h2M1068 282.5h6M1075 282.5h2M1079 282.5h2M1086 282.5h3M1094 282.5h2M1097 282.5h3M1101 282.5h5M1107 282.5h2M1111 282.5h2M1115 282.5h4M1120 282.5h2M1123 282.5h7M1131 282.5h5M1137 282.5h4M1145 282.5h2M1148 282.5h2M1155 282.5h2M1163 282.5h2M934 283.5h2M969 283.5h2M1016 283.5h2M1033 283.5h2M1041 283.5h2M1044 283.5h2M1050 283.5h4M1059 283.5h2M1068 283.5h6M1079 283.5h2M1082 283.5h2M1086 283.5h3M1093 283.5h3M1098 283.5h8M1107 283.5h10M1122 283.5h5M1128 283.5h8M1137 283.5h2M1143 283.5h2M1148 283.5h2M1155 283.5h2M934 284.5h2M969 284.5h3M977 284.5h2M1000 284.5h2M1007 284.5h2M1031 284.5h2M1039 284.5h4M1044 284.5h4M1050 284.5h4M1063 284.5h4M1068 284.5h5M1075 284.5h2M1079 284.5h2M1082 284.5h15M1100 284.5h6M1107 284.5h5M1113 284.5h3M1118 284.5h2M1122 284.5h2M1125 284.5h2M1128 284.5h5M1134 284.5h2M1137 284.5h2M1140 284.5h5M1155 284.5h2M947 285.5h2M970 285.5h2M977 285.5h2M1000 285.5h2M1007 285.5h2M1031 285.5h2M1038 285.5h3M1046 285.5h2M1060 285.5h2M1063 285.5h4M1068 285.5h2M1073 285.5h4M1079 285.5h2M1083 285.5h14M1101 285.5h3M1105 285.5h2M1109 285.5h4M1114 285.5h2M1117 285.5h3M1122 285.5h2M1125 285.5h5M1131 285.5h3M1140 285.5h3M1155 285.5h2M1160 285.5h2M1170 285.5h2M947 286.5h2M1019 286.5h2M1031 286.5h2M1037 286.5h3M1041 286.5h2M1060 286.5h2M1064 286.5h2M1068 286.5h2M1073 286.5h4M1081 286.5h6M1090 286.5h6M1097 286.5h2M1101 286.5h6M1109 286.5h4M1117 286.5h4M1123 286.5h8M1132 286.5h4M1139 286.5h2M1160 286.5h2M1165 286.5h2M1170 286.5h2M923 287.5h2M972 287.5h2M1019 287.5h2M1037 287.5h2M1041 287.5h2M1056 287.5h2M1064 287.5h2M1073 287.5h3M1080 287.5h3M1084 287.5h3M1088 287.5h11M1100 287.5h5M1109 287.5h2M1115 287.5h11M1127 287.5h4M1134 287.5h2M1138 287.5h6M1165 287.5h2M923 288.5h2M936 288.5h2M972 288.5h2M1048 288.5h2M1056 288.5h2M1067 288.5h2M1073 288.5h2M1077 288.5h2M1080 288.5h3M1086 288.5h6M1095 288.5h2M1100 288.5h4M1106 288.5h3M1112 288.5h6M1120 288.5h5M1127 288.5h3M1132 288.5h8M1141 288.5h3M914 289.5h2M936 289.5h2M958 289.5h2M1001 289.5h2M1048 289.5h2M1067 289.5h4M1073 289.5h2M1077 289.5h2M1086 289.5h7M1096 289.5h3M1101 289.5h4M1106 289.5h3M1110 289.5h6M1118 289.5h4M1123 289.5h2M1128 289.5h12M914 290.5h2M919 290.5h2M958 290.5h2M981 290.5h2M1001 290.5h2M1058 290.5h2M1063 290.5h2M1069 290.5h3M1073 290.5h2M1086 290.5h7M1095 290.5h4M1101 290.5h5M1110 290.5h2M1117 290.5h5M1123 290.5h2M1130 290.5h2M1137 290.5h2M1145 290.5h2M1160 290.5h2M919 291.5h2M963 291.5h2M981 291.5h2M1009 291.5h2M1048 291.5h2M1055 291.5h2M1058 291.5h2M1063 291.5h4M1069 291.5h3M1077 291.5h2M1080 291.5h5M1086 291.5h4M1092 291.5h5M1101 291.5h6M1109 291.5h2M1112 291.5h2M1117 291.5h5M1123 291.5h2M1127 291.5h2M1130 291.5h3M1137 291.5h3M1142 291.5h2M1145 291.5h4M1160 291.5h2M932 292.5h2M963 292.5h2M980 292.5h2M1009 292.5h2M1018 292.5h2M1037 292.5h2M1048 292.5h2M1055 292.5h4M1065 292.5h2M1077 292.5h2M1080 292.5h5M1087 292.5h3M1092 292.5h4M1098 292.5h4M1103 292.5h4M1109 292.5h5M1120 292.5h2M1127 292.5h2M1130 292.5h3M1137 292.5h3M1142 292.5h2M1147 292.5h2M1150 292.5h2M1153 292.5h2M1158 292.5h2M932 293.5h2M955 293.5h2M963 293.5h2M980 293.5h2M986 293.5h2M997 293.5h2M1003 293.5h2M1015 293.5h2M1018 293.5h2M1022 293.5h2M1025 293.5h2M1037 293.5h2M1043 293.5h2M1057 293.5h2M1065 293.5h2M1082 293.5h4M1087 293.5h4M1094 293.5h2M1098 293.5h7M1108 293.5h6M1116 293.5h3M1120 293.5h4M1126 293.5h2M1142 293.5h2M1145 293.5h4M1150 293.5h2M1153 293.5h2M1158 293.5h2M955 294.5h2M985 294.5h3M997 294.5h2M1003 294.5h2M1015 294.5h2M1022 294.5h2M1025 294.5h2M1043 294.5h2M1064 294.5h2M1084 294.5h14M1100 294.5h5M1107 294.5h4M1113 294.5h2M1116 294.5h5M1122 294.5h6M1142 294.5h5M1158 294.5h2M1178 294.5h2M919 295.5h2M985 295.5h2M1027 295.5h2M1041 295.5h2M1049 295.5h2M1053 295.5h2M1064 295.5h2M1070 295.5h2M1075 295.5h3M1080 295.5h2M1083 295.5h5M1090 295.5h4M1096 295.5h8M1105 295.5h10M1117 295.5h12M1131 295.5h2M1138 295.5h4M1143 295.5h2M1178 295.5h2M919 296.5h2M954 296.5h2M1002 296.5h2M1027 296.5h2M1037 296.5h2M1041 296.5h2M1049 296.5h2M1053 296.5h6M1066 296.5h2M1069 296.5h3M1075 296.5h3M1079 296.5h3M1083 296.5h7M1091 296.5h3M1098 296.5h6M1105 296.5h10M1117 296.5h7M1127 296.5h2M1131 296.5h2M1138 296.5h4M1164 296.5h2M954 297.5h2M1002 297.5h2M1037 297.5h2M1055 297.5h4M1061 297.5h2M1064 297.5h4M1069 297.5h2M1076 297.5h2M1079 297.5h2M1087 297.5h7M1095 297.5h3M1099 297.5h9M1109 297.5h6M1116 297.5h4M1122 297.5h2M1138 297.5h2M1164 297.5h2M936 298.5h2M964 298.5h2M1045 298.5h2M1051 298.5h2M1055 298.5h2M1061 298.5h2M1064 298.5h4M1073 298.5h2M1089 298.5h2M1092 298.5h6M1099 298.5h10M1110 298.5h10M1122 298.5h3M1128 298.5h2M1131 298.5h2M1134 298.5h3M1138 298.5h2M1159 298.5h2M936 299.5h2M944 299.5h2M964 299.5h2M1024 299.5h2M1045 299.5h2M1051 299.5h2M1059 299.5h2M1066 299.5h2M1073 299.5h2M1081 299.5h4M1086 299.5h4M1092 299.5h5M1099 299.5h6M1107 299.5h2M1110 299.5h3M1115 299.5h2M1118 299.5h2M1123 299.5h3M1128 299.5h2M1131 299.5h2M1134 299.5h3M1144 299.5h2M1151 299.5h2M1159 299.5h2M940 300.5h2M944 300.5h2M956 300.5h2M959 300.5h2M987 300.5h2M994 300.5h2M1014 300.5h4M1024 300.5h2M1059 300.5h4M1064 300.5h2M1072 300.5h2M1078 300.5h2M1081 300.5h4M1086 300.5h4M1092 300.5h2M1095 300.5h2M1099 300.5h2M1103 300.5h2M1109 300.5h2M1112 300.5h2M1117 300.5h3M1124 300.5h3M1128 300.5h2M1131 300.5h5M1144 300.5h2M1151 300.5h2M1158 300.5h2M1165 300.5h2M940 301.5h2M956 301.5h2M959 301.5h2M964 301.5h2M987 301.5h2M994 301.5h2M1014 301.5h4M1022 301.5h2M1032 301.5h2M1045 301.5h2M1060 301.5h3M1064 301.5h2M1069 301.5h2M1072 301.5h2M1078 301.5h2M1083 301.5h2M1099 301.5h2M1102 301.5h2M1109 301.5h2M1112 301.5h4M1117 301.5h3M1122 301.5h5M1128 301.5h2M1131 301.5h4M1158 301.5h2M1165 301.5h2M964 302.5h2M985 302.5h2M1002 302.5h3M1022 302.5h2M1032 302.5h2M1040 302.5h2M1045 302.5h2M1064 302.5h2M1068 302.5h3M1083 302.5h4M1095 302.5h2M1098 302.5h3M1102 302.5h2M1110 302.5h7M1118 302.5h2M1122 302.5h4M1128 302.5h2M1140 302.5h2M985 303.5h2M1002 303.5h3M1026 303.5h2M1029 303.5h2M1040 303.5h2M1044 303.5h2M1059 303.5h2M1068 303.5h2M1071 303.5h2M1081 303.5h6M1088 303.5h2M1095 303.5h2M1098 303.5h5M1106 303.5h2M1110 303.5h4M1115 303.5h3M1136 303.5h2M1140 303.5h2M1174 303.5h2M956 304.5h2M984 304.5h2M1012 304.5h2M1026 304.5h2M1029 304.5h2M1036 304.5h2M1044 304.5h2M1051 304.5h2M1059 304.5h2M1071 304.5h6M1081 304.5h5M1088 304.5h2M1094 304.5h3M1098 304.5h2M1101 304.5h2M1104 304.5h4M1112 304.5h2M1116 304.5h2M1127 304.5h2M1132 304.5h2M1136 304.5h2M1174 304.5h2M956 305.5h2M977 305.5h2M984 305.5h2M1012 305.5h2M1036 305.5h2M1041 305.5h2M1051 305.5h5M1058 305.5h2M1073 305.5h7M1082 305.5h3M1094 305.5h3M1098 305.5h5M1104 305.5h2M1111 305.5h3M1124 305.5h2M1127 305.5h2M1132 305.5h2M947 306.5h2M977 306.5h2M993 306.5h2M1032 306.5h2M1041 306.5h2M1048 306.5h2M1053 306.5h3M1058 306.5h2M1062 306.5h2M1069 306.5h2M1072 306.5h2M1075 306.5h5M1083 306.5h2M1088 306.5h2M1093 306.5h2M1100 306.5h6M1107 306.5h2M1111 306.5h2M1121 306.5h2M1124 306.5h2M1128 306.5h2M1132 306.5h2M933 307.5h2M940 307.5h2M947 307.5h2M993 307.5h2M1032 307.5h2M1048 307.5h2M1062 307.5h2M1069 307.5h2M1072 307.5h2M1075 307.5h2M1083 307.5h2M1088 307.5h2M1093 307.5h2M1096 307.5h2M1099 307.5h5M1107 307.5h2M1111 307.5h2M1121 307.5h2M1127 307.5h4M1132 307.5h2M933 308.5h2M940 308.5h4M1008 308.5h2M1018 308.5h2M1026 308.5h2M1041 308.5h2M1046 308.5h4M1062 308.5h2M1072 308.5h2M1076 308.5h2M1081 308.5h5M1087 308.5h2M1096 308.5h2M1099 308.5h3M1121 308.5h2M1127 308.5h4M942 309.5h2M953 309.5h2M1008 309.5h2M1018 309.5h2M1026 309.5h2M1033 309.5h2M1038 309.5h2M1041 309.5h2M1046 309.5h4M1062 309.5h4M1067 309.5h3M1072 309.5h2M1076 309.5h7M1084 309.5h2M1087 309.5h2M1091 309.5h2M1094 309.5h4M1110 309.5h4M1116 309.5h2M1121 309.5h2M953 310.5h2M995 310.5h2M1008 310.5h2M1022 310.5h2M1031 310.5h4M1038 310.5h2M1044 310.5h2M1053 310.5h2M1058 310.5h12M1071 310.5h2M1074 310.5h10M1088 310.5h2M1091 310.5h7M1101 310.5h4M1110 310.5h4M1116 310.5h2M1119 310.5h2M1122 310.5h2M1128 310.5h2M993 311.5h4M1005 311.5h2M1022 311.5h2M1031 311.5h2M1044 311.5h7M1053 311.5h2M1058 311.5h4M1065 311.5h2M1071 311.5h2M1074 311.5h4M1080 311.5h4M1088 311.5h7M1101 311.5h7M1119 311.5h2M1122 311.5h2M1128 311.5h2M1141 311.5h2M1151 311.5h2M949 312.5h2M963 312.5h2M966 312.5h2M970 312.5h2M991 312.5h4M1005 312.5h2M1013 312.5h2M1038 312.5h2M1045 312.5h7M1073 312.5h2M1078 312.5h2M1083 312.5h3M1090 312.5h2M1093 312.5h2M1105 312.5h3M1110 312.5h2M1141 312.5h3M1151 312.5h2M949 313.5h2M963 313.5h2M966 313.5h2M970 313.5h3M989 313.5h4M1013 313.5h2M1038 313.5h2M1048 313.5h4M1053 313.5h2M1073 313.5h2M1078 313.5h2M1083 313.5h3M1100 313.5h4M1105 313.5h2M1110 313.5h2M1142 313.5h4M960 314.5h2M971 314.5h2M983 314.5h2M989 314.5h2M997 314.5h2M1011 314.5h2M1026 314.5h2M1041 314.5h2M1053 314.5h2M1062 314.5h3M1083 314.5h2M1086 314.5h2M1090 314.5h2M1093 314.5h4M1099 314.5h5M1116 314.5h2M1144 314.5h2M942 315.5h2M960 315.5h2M983 315.5h2M997 315.5h2M1000 315.5h3M1005 315.5h2M1011 315.5h2M1020 315.5h2M1026 315.5h2M1036 315.5h2M1041 315.5h2M1053 315.5h2M1056 315.5h2M1062 315.5h3M1066 315.5h2M1070 315.5h2M1086 315.5h2M1090 315.5h2M1093 315.5h4M1099 315.5h3M1107 315.5h2M1116 315.5h2M1127 315.5h2M1131 315.5h4M942 316.5h2M967 316.5h2M975 316.5h2M991 316.5h2M997 316.5h2M1000 316.5h3M1004 316.5h3M1020 316.5h2M1035 316.5h3M1048 316.5h2M1056 316.5h2M1066 316.5h2M1070 316.5h2M1074 316.5h2M1088 316.5h2M1093 316.5h2M1097 316.5h2M1100 316.5h4M1107 316.5h2M1124 316.5h2M1127 316.5h2M1131 316.5h4M963 317.5h2M967 317.5h2M975 317.5h3M990 317.5h5M997 317.5h2M1004 317.5h3M1008 317.5h2M1018 317.5h2M1029 317.5h2M1034 317.5h5M1048 317.5h2M1062 317.5h2M1074 317.5h2M1082 317.5h2M1088 317.5h2M1097 317.5h2M1102 317.5h2M1124 317.5h4M1131 317.5h2M924 318.5h2M961 318.5h4M976 318.5h3M990 318.5h5M996 318.5h3M1008 318.5h2M1018 318.5h2M1029 318.5h2M1034 318.5h2M1037 318.5h3M1062 318.5h6M1082 318.5h2M1086 318.5h2M1107 318.5h2M1124 318.5h4M924 319.5h2M946 319.5h2M961 319.5h2M976 319.5h3M989 319.5h9M999 319.5h2M1002 319.5h3M1038 319.5h2M1063 319.5h5M1075 319.5h2M1078 319.5h2M1086 319.5h2M1094 319.5h2M1097 319.5h5M1107 319.5h2M1115 319.5h2M1124 319.5h2M1140 319.5h2M931 320.5h2M943 320.5h5M975 320.5h4M982 320.5h2M989 320.5h2M995 320.5h2M999 320.5h2M1002 320.5h3M1018 320.5h2M1063 320.5h4M1072 320.5h2M1075 320.5h2M1078 320.5h2M1086 320.5h2M1090 320.5h2M1093 320.5h3M1097 320.5h5M1115 320.5h2M1122 320.5h2M1127 320.5h2M1140 320.5h2M1155 320.5h2M931 321.5h2M943 321.5h4M975 321.5h4M982 321.5h4M987 321.5h2M992 321.5h3M1003 321.5h2M1013 321.5h2M1018 321.5h2M1021 321.5h2M1060 321.5h2M1065 321.5h2M1068 321.5h2M1072 321.5h2M1075 321.5h2M1090 321.5h2M1093 321.5h2M1099 321.5h2M1115 321.5h2M1122 321.5h2M1127 321.5h2M1155 321.5h2M931 322.5h2M943 322.5h2M951 322.5h2M957 322.5h2M984 322.5h2M987 322.5h3M992 322.5h3M996 322.5h2M1003 322.5h2M1007 322.5h4M1012 322.5h3M1021 322.5h4M1026 322.5h2M1049 322.5h2M1060 322.5h4M1068 322.5h2M1075 322.5h2M1090 322.5h5M1115 322.5h2M1121 322.5h2M931 323.5h2M936 323.5h2M943 323.5h2M950 323.5h3M957 323.5h2M962 323.5h4M984 323.5h2M988 323.5h2M993 323.5h5M1007 323.5h4M1012 323.5h2M1023 323.5h5M1031 323.5h2M1042 323.5h2M1049 323.5h3M1062 323.5h2M1073 323.5h4M1080 323.5h6M1087 323.5h2M1090 323.5h6M1102 323.5h2M1105 323.5h2M1108 323.5h2M1115 323.5h2M1120 323.5h3M931 324.5h2M936 324.5h2M950 324.5h2M956 324.5h4M962 324.5h4M972 324.5h5M979 324.5h2M984 324.5h3M989 324.5h2M993 324.5h3M1002 324.5h2M1010 324.5h2M1019 324.5h2M1025 324.5h3M1031 324.5h3M1042 324.5h2M1050 324.5h2M1055 324.5h2M1065 324.5h2M1073 324.5h4M1080 324.5h6M1087 324.5h3M1091 324.5h2M1094 324.5h2M1102 324.5h2M1105 324.5h2M1108 324.5h2M1115 324.5h2M1120 324.5h2M951 325.5h2M954 325.5h6M961 325.5h2M972 325.5h5M979 325.5h2M985 325.5h3M989 325.5h3M993 325.5h3M998 325.5h2M1001 325.5h3M1006 325.5h6M1019 325.5h4M1026 325.5h2M1032 325.5h2M1045 325.5h2M1054 325.5h3M1060 325.5h2M1065 325.5h3M1079 325.5h2M1082 325.5h3M1088 325.5h2M1091 325.5h3M1099 325.5h2M1108 325.5h2M1115 325.5h2M1119 325.5h2M947 326.5h2M951 326.5h2M954 326.5h2M957 326.5h2M960 326.5h3M977 326.5h4M985 326.5h3M989 326.5h3M994 326.5h2M998 326.5h5M1005 326.5h7M1021 326.5h2M1024 326.5h2M1037 326.5h4M1042 326.5h6M1054 326.5h3M1060 326.5h2M1066 326.5h4M1072 326.5h2M1076 326.5h2M1079 326.5h2M1082 326.5h2M1085 326.5h2M1092 326.5h2M1099 326.5h2M1102 326.5h3M1108 326.5h2M1119 326.5h2M947 327.5h2M954 327.5h4M960 327.5h2M977 327.5h3M983 327.5h4M994 327.5h2M1000 327.5h2M1004 327.5h3M1012 327.5h2M1018 327.5h2M1024 327.5h2M1030 327.5h2M1037 327.5h4M1042 327.5h6M1050 327.5h3M1055 327.5h2M1060 327.5h5M1068 327.5h2M1072 327.5h2M1075 327.5h3M1082 327.5h2M1085 327.5h2M1094 327.5h2M1102 327.5h4M1108 327.5h2M948 328.5h2M954 328.5h4M960 328.5h2M973 328.5h4M983 328.5h4M988 328.5h2M994 328.5h2M997 328.5h4M1002 328.5h5M1012 328.5h4M1018 328.5h2M1030 328.5h2M1044 328.5h3M1050 328.5h3M1060 328.5h6M1068 328.5h2M1071 328.5h2M1075 328.5h3M1081 328.5h3M1087 328.5h3M1094 328.5h2M1104 328.5h2M1108 328.5h2M934 329.5h2M943 329.5h2M948 329.5h2M951 329.5h2M957 329.5h7M965 329.5h2M970 329.5h7M978 329.5h4M988 329.5h4M994 329.5h2M997 329.5h12M1010 329.5h6M1017 329.5h3M1026 329.5h2M1032 329.5h2M1042 329.5h3M1047 329.5h2M1064 329.5h3M1068 329.5h2M1071 329.5h2M1076 329.5h2M1080 329.5h3M1085 329.5h5M1093 329.5h2M934 330.5h2M943 330.5h2M947 330.5h7M955 330.5h6M962 330.5h2M965 330.5h4M970 330.5h15M986 330.5h2M990 330.5h2M998 330.5h5M1004 330.5h2M1007 330.5h2M1010 330.5h5M1017 330.5h3M1023 330.5h2M1026 330.5h2M1032 330.5h5M1042 330.5h3M1047 330.5h2M1058 330.5h2M1061 330.5h2M1065 330.5h2M1069 330.5h4M1076 330.5h2M1080 330.5h2M1084 330.5h6M1091 330.5h4M1102 330.5h2M1108 330.5h2M923 331.5h2M929 331.5h2M938 331.5h2M947 331.5h4M952 331.5h2M955 331.5h5M964 331.5h6M972 331.5h8M982 331.5h9M996 331.5h2M1001 331.5h2M1004 331.5h4M1009 331.5h3M1013 331.5h5M1023 331.5h3M1032 331.5h7M1045 331.5h3M1057 331.5h3M1061 331.5h2M1065 331.5h2M1069 331.5h4M1080 331.5h8M1091 331.5h2M1102 331.5h5M1108 331.5h2M1121 331.5h2M1125 331.5h2M923 332.5h2M929 332.5h2M938 332.5h2M942 332.5h2M949 332.5h3M957 332.5h3M964 332.5h8M973 332.5h2M977 332.5h3M981 332.5h3M985 332.5h6M992 332.5h2M996 332.5h2M1004 332.5h4M1009 332.5h3M1013 332.5h17M1033 332.5h6M1045 332.5h3M1049 332.5h2M1053 332.5h2M1057 332.5h2M1061 332.5h6M1068 332.5h3M1078 332.5h6M1086 332.5h2M1099 332.5h2M1102 332.5h5M1121 332.5h2M1125 332.5h2M1130 332.5h2M926 333.5h2M933 333.5h2M942 333.5h2M950 333.5h9M963 333.5h12M977 333.5h3M981 333.5h3M987 333.5h3M991 333.5h5M997 333.5h2M1003 333.5h2M1010 333.5h2M1013 333.5h18M1033 333.5h4M1045 333.5h2M1049 333.5h8M1062 333.5h5M1068 333.5h3M1078 333.5h6M1086 333.5h2M1092 333.5h3M1099 333.5h2M1102 333.5h2M1106 333.5h2M1109 333.5h2M1114 333.5h2M1130 333.5h2M919 334.5h2M926 334.5h2M933 334.5h2M940 334.5h4M951 334.5h10M962 334.5h3M966 334.5h2M970 334.5h5M977 334.5h3M981 334.5h3M987 334.5h3M991 334.5h5M997 334.5h5M1003 334.5h6M1010 334.5h2M1013 334.5h4M1018 334.5h2M1021 334.5h6M1029 334.5h3M1035 334.5h2M1042 334.5h2M1049 334.5h4M1055 334.5h2M1065 334.5h6M1074 334.5h3M1078 334.5h9M1089 334.5h2M1092 334.5h3M1100 334.5h2M1105 334.5h3M1109 334.5h2M1114 334.5h2M1122 334.5h2M919 335.5h2M939 335.5h5M954 335.5h7M962 335.5h2M966 335.5h2M970 335.5h5M976 335.5h3M981 335.5h4M992 335.5h2M996 335.5h22M1020 335.5h7M1029 335.5h6M1042 335.5h2M1047 335.5h2M1055 335.5h3M1060 335.5h4M1067 335.5h2M1074 335.5h3M1078 335.5h9M1088 335.5h3M1094 335.5h2M1097 335.5h7M1105 335.5h2M1122 335.5h2M1127 335.5h2M939 336.5h2M953 336.5h11M965 336.5h15M981 336.5h4M987 336.5h2M992 336.5h36M1029 336.5h8M1040 336.5h4M1047 336.5h2M1052 336.5h2M1055 336.5h3M1060 336.5h4M1068 336.5h8M1078 336.5h8M1088 336.5h3M1093 336.5h8M1102 336.5h2M1109 336.5h2M1127 336.5h4M911 337.5h2M934 337.5h2M940 337.5h2M946 337.5h2M953 337.5h3M958 337.5h6M965 337.5h15M981 337.5h2M984 337.5h2M987 337.5h2M990 337.5h15M1006 337.5h4M1011 337.5h13M1025 337.5h4M1031 337.5h8M1040 337.5h4M1048 337.5h2M1052 337.5h2M1059 337.5h5M1068 337.5h9M1078 337.5h8M1088 337.5h9M1099 337.5h2M1109 337.5h6M1122 337.5h3M1129 337.5h2M911 338.5h2M934 338.5h3M938 338.5h10M951 338.5h13M968 338.5h2M971 338.5h8M981 338.5h2M984 338.5h2M987 338.5h2M990 338.5h2M994 338.5h4M999 338.5h6M1008 338.5h2M1011 338.5h2M1014 338.5h8M1027 338.5h2M1030 338.5h9M1041 338.5h2M1044 338.5h3M1048 338.5h2M1052 338.5h2M1055 338.5h2M1059 338.5h3M1063 338.5h9M1075 338.5h2M1081 338.5h4M1090 338.5h6M1103 338.5h3M1111 338.5h4M1122 338.5h3M1127 338.5h2M935 339.5h2M938 339.5h2M942 339.5h6M951 339.5h7M959 339.5h3M994 339.5h4M1001 339.5h4M1011 339.5h2M1019 339.5h2M1024 339.5h8M1034 339.5h2M1041 339.5h2M1044 339.5h3M1051 339.5h3M1055 339.5h2M1063 339.5h9M1078 339.5h6M1085 339.5h2M1090 339.5h2M1100 339.5h2M1103 339.5h3M1110 339.5h2M1116 339.5h2M1127 339.5h2M930 340.5h2M942 340.5h2M945 340.5h3M951 340.5h2M954 340.5h2M960 340.5h2M1024 340.5h3M1028 340.5h6M1035 340.5h5M1046 340.5h2M1051 340.5h2M1055 340.5h4M1060 340.5h2M1068 340.5h2M1071 340.5h2M1078 340.5h3M1082 340.5h2M1085 340.5h3M1094 340.5h2M1100 340.5h6M1107 340.5h2M1110 340.5h3M1116 340.5h3M1136 340.5h2M930 341.5h6M941 341.5h2M945 341.5h2M950 341.5h3M954 341.5h4M1024 341.5h4M1032 341.5h2M1035 341.5h5M1044 341.5h6M1051 341.5h2M1055 341.5h7M1064 341.5h2M1071 341.5h2M1078 341.5h6M1085 341.5h3M1094 341.5h2M1102 341.5h3M1107 341.5h2M1111 341.5h2M1117 341.5h3M1136 341.5h2M913 342.5h2M932 342.5h4M941 342.5h2M947 342.5h2M950 342.5h8M1018 342.5h2M1025 342.5h9M1035 342.5h2M1042 342.5h4M1048 342.5h2M1051 342.5h2M1054 342.5h7M1064 342.5h2M1072 342.5h2M1078 342.5h9M1094 342.5h2M1101 342.5h3M1106 342.5h2M1109 342.5h2M1118 342.5h4M913 343.5h2M933 343.5h2M943 343.5h3M947 343.5h11M1018 343.5h2M1025 343.5h7M1036 343.5h4M1042 343.5h2M1048 343.5h2M1054 343.5h6M1063 343.5h3M1070 343.5h4M1077 343.5h12M1094 343.5h2M1098 343.5h2M1101 343.5h4M1106 343.5h2M1109 343.5h4M1120 343.5h2M926 344.5h2M930 344.5h3M935 344.5h2M939 344.5h2M943 344.5h3M949 344.5h4M1026 344.5h4M1036 344.5h4M1048 344.5h5M1056 344.5h4M1063 344.5h2M1067 344.5h2M1070 344.5h2M1074 344.5h6M1081 344.5h8M1098 344.5h2M1103 344.5h2M1111 344.5h2M1117 344.5h2M926 345.5h2M930 345.5h3M935 345.5h2M939 345.5h2M943 345.5h2M946 345.5h6M1026 345.5h4M1033 345.5h5M1039 345.5h2M1042 345.5h2M1048 345.5h5M1055 345.5h4M1065 345.5h4M1070 345.5h2M1074 345.5h11M1095 345.5h3M1105 345.5h2M1117 345.5h2M1127 345.5h2M937 346.5h2M943 346.5h9M1030 346.5h2M1033 346.5h8M1042 346.5h2M1054 346.5h5M1063 346.5h4M1069 346.5h2M1075 346.5h2M1079 346.5h3M1083 346.5h2M1086 346.5h2M1095 346.5h3M1101 346.5h2M1105 346.5h2M1115 346.5h2M1120 346.5h2M1127 346.5h2M927 347.5h2M937 347.5h4M943 347.5h3M948 347.5h5M1030 347.5h2M1033 347.5h4M1038 347.5h3M1054 347.5h2M1057 347.5h2M1063 347.5h2M1067 347.5h4M1075 347.5h2M1079 347.5h2M1083 347.5h2M1086 347.5h4M1096 347.5h2M1101 347.5h2M1115 347.5h2M1120 347.5h2M1133 347.5h2M927 348.5h2M937 348.5h4M943 348.5h2M946 348.5h7M1014 348.5h2M1033 348.5h8M1045 348.5h2M1051 348.5h2M1057 348.5h2M1061 348.5h2M1067 348.5h2M1079 348.5h2M1087 348.5h3M1096 348.5h2M1100 348.5h4M1111 348.5h2M1118 348.5h2M1132 348.5h3M938 349.5h2M943 349.5h2M946 349.5h2M1014 349.5h2M1030 349.5h2M1033 349.5h8M1045 349.5h2M1048 349.5h2M1051 349.5h2M1055 349.5h2M1061 349.5h2M1064 349.5h2M1067 349.5h3M1073 349.5h2M1079 349.5h2M1087 349.5h2M1090 349.5h4M1095 349.5h2M1100 349.5h4M1111 349.5h4M1118 349.5h2M1122 349.5h2M1132 349.5h2M912 350.5h2M928 350.5h2M933 350.5h2M938 350.5h2M943 350.5h2M948 350.5h3M1030 350.5h2M1033 350.5h8M1044 350.5h2M1048 350.5h5M1055 350.5h2M1064 350.5h2M1067 350.5h3M1073 350.5h4M1081 350.5h2M1087 350.5h2M1090 350.5h7M1100 350.5h2M1106 350.5h2M1113 350.5h2M1118 350.5h2M1122 350.5h2M912 351.5h2M927 351.5h3M933 351.5h2M941 351.5h12M1030 351.5h2M1033 351.5h8M1044 351.5h2M1049 351.5h2M1064 351.5h6M1071 351.5h2M1075 351.5h2M1081 351.5h2M1085 351.5h11M1097 351.5h2M1106 351.5h2M1118 351.5h2M927 352.5h3M941 352.5h12M1030 352.5h5M1042 352.5h2M1053 352.5h3M1066 352.5h2M1069 352.5h4M1079 352.5h2M1085 352.5h5M1092 352.5h2M1097 352.5h2M1108 352.5h2M927 353.5h3M933 353.5h6M943 353.5h7M1030 353.5h7M1038 353.5h2M1042 353.5h3M1053 353.5h3M1069 353.5h4M1079 353.5h2M1086 353.5h2M1092 353.5h2M1100 353.5h4M1108 353.5h2M1159 353.5h2M915 354.5h2M929 354.5h2M933 354.5h6M943 354.5h2M946 354.5h5M1029 354.5h3M1033 354.5h4M1038 354.5h7M1048 354.5h2M1053 354.5h2M1057 354.5h4M1072 354.5h2M1079 354.5h6M1087 354.5h2M1100 354.5h4M1120 354.5h4M1159 354.5h2M915 355.5h2M928 355.5h4M935 355.5h6M944 355.5h7M1029 355.5h4M1034 355.5h4M1040 355.5h4M1048 355.5h2M1053 355.5h8M1072 355.5h2M1078 355.5h13M1106 355.5h2M1109 355.5h2M1113 355.5h2M1120 355.5h4M928 356.5h5M934 356.5h8M944 356.5h9M1029 356.5h9M1041 356.5h6M1048 356.5h2M1055 356.5h6M1068 356.5h2M1071 356.5h2M1076 356.5h12M1089 356.5h2M1099 356.5h4M1106 356.5h2M1109 356.5h3M1113 356.5h2M1118 356.5h4M923 357.5h2M931 357.5h7M940 357.5h2M948 357.5h5M1028 357.5h4M1033 357.5h7M1041 357.5h6M1048 357.5h2M1055 357.5h5M1064 357.5h2M1067 357.5h3M1071 357.5h4M1076 357.5h6M1084 357.5h2M1087 357.5h2M1096 357.5h2M1099 357.5h9M1109 357.5h3M1118 357.5h4M1141 357.5h2M923 358.5h2M933 358.5h2M937 358.5h3M942 358.5h10M1028 358.5h2M1031 358.5h10M1043 358.5h5M1055 358.5h6M1064 358.5h2M1067 358.5h2M1072 358.5h3M1077 358.5h2M1080 358.5h2M1087 358.5h4M1096 358.5h2M1103 358.5h5M1110 358.5h3M1114 358.5h2M1124 358.5h2M1141 358.5h2M932 359.5h2M935 359.5h5M942 359.5h7M950 359.5h3M1017 359.5h2M1028 359.5h2M1031 359.5h5M1037 359.5h4M1046 359.5h2M1054 359.5h3M1058 359.5h3M1065 359.5h4M1072 359.5h2M1076 359.5h3M1089 359.5h2M1110 359.5h3M1114 359.5h4M1124 359.5h2M923 360.5h2M932 360.5h2M935 360.5h2M938 360.5h2M942 360.5h3M948 360.5h5M1017 360.5h2M1026 360.5h4M1031 360.5h3M1036 360.5h7M1049 360.5h2M1052 360.5h4M1058 360.5h2M1064 360.5h5M1072 360.5h2M1076 360.5h3M1089 360.5h2M1104 360.5h4M1112 360.5h2M1115 360.5h5M1124 360.5h2M1134 360.5h2M923 361.5h2M933 361.5h8M942 361.5h3M948 361.5h5M1026 361.5h4M1031 361.5h3M1036 361.5h4M1041 361.5h2M1044 361.5h2M1049 361.5h5M1056 361.5h2M1060 361.5h2M1064 361.5h2M1070 361.5h2M1077 361.5h2M1089 361.5h2M1100 361.5h2M1104 361.5h4M1112 361.5h2M1115 361.5h2M1118 361.5h2M1124 361.5h2M1134 361.5h2M933 362.5h8M943 362.5h10M1024 362.5h4M1031 362.5h2M1034 362.5h2M1037 362.5h2M1041 362.5h5M1050 362.5h2M1056 362.5h2M1060 362.5h2M1064 362.5h2M1070 362.5h2M1079 362.5h2M1086 362.5h2M1089 362.5h3M1100 362.5h5M1113 362.5h2M919 363.5h2M926 363.5h2M943 363.5h10M1024 363.5h15M1042 363.5h4M1053 363.5h3M1062 363.5h2M1065 363.5h2M1070 363.5h2M1079 363.5h3M1085 363.5h3M1090 363.5h4M1097 363.5h2M1102 363.5h3M1113 363.5h3M1137 363.5h2M919 364.5h2M926 364.5h2M938 364.5h2M944 364.5h2M948 364.5h2M951 364.5h2M1024 364.5h14M1043 364.5h3M1053 364.5h3M1060 364.5h4M1065 364.5h2M1070 364.5h2M1075 364.5h2M1080 364.5h2M1085 364.5h2M1090 364.5h4M1097 364.5h2M1106 364.5h2M1114 364.5h2M1118 364.5h2M1137 364.5h2M936 365.5h4M944 365.5h2M947 365.5h3M951 365.5h2M1024 365.5h2M1028 365.5h2M1031 365.5h7M1043 365.5h2M1053 365.5h2M1060 365.5h4M1070 365.5h3M1075 365.5h2M1086 365.5h2M1094 365.5h2M1097 365.5h3M1105 365.5h3M1118 365.5h2M1231 365.5h2M926 366.5h2M936 366.5h2M939 366.5h2M947 366.5h6M1021 366.5h3M1026 366.5h3M1031 366.5h4M1036 366.5h2M1040 366.5h2M1043 366.5h2M1056 366.5h2M1059 366.5h2M1062 366.5h2M1071 366.5h2M1086 366.5h2M1091 366.5h2M1094 366.5h2M1098 366.5h2M1105 366.5h2M1117 366.5h2M1123 366.5h2M1138 366.5h2M1231 366.5h2M926 367.5h2M939 367.5h2M947 367.5h6M1020 367.5h4M1025 367.5h4M1030 367.5h2M1033 367.5h9M1046 367.5h2M1056 367.5h2M1059 367.5h3M1064 367.5h2M1067 367.5h2M1073 367.5h2M1083 367.5h4M1091 367.5h2M1095 367.5h2M1117 367.5h4M1123 367.5h2M1138 367.5h2M1151 367.5h2M947 368.5h2M950 368.5h2M953 368.5h2M1020 368.5h3M1025 368.5h4M1030 368.5h10M1046 368.5h2M1052 368.5h2M1060 368.5h2M1064 368.5h2M1067 368.5h2M1073 368.5h2M1083 368.5h7M1095 368.5h2M1098 368.5h2M1107 368.5h2M1117 368.5h4M1128 368.5h3M1151 368.5h2M930 369.5h2M933 369.5h2M936 369.5h2M942 369.5h4M951 369.5h4M1021 369.5h2M1024 369.5h2M1030 369.5h5M1037 369.5h2M1040 369.5h2M1052 369.5h2M1057 369.5h2M1068 369.5h2M1083 369.5h2M1086 369.5h4M1098 369.5h2M1107 369.5h2M1112 369.5h2M1117 369.5h2M1124 369.5h2M1128 369.5h3M930 370.5h2M933 370.5h2M936 370.5h2M939 370.5h2M942 370.5h4M948 370.5h2M951 370.5h2M1017 370.5h9M1031 370.5h4M1040 370.5h2M1052 370.5h2M1057 370.5h3M1068 370.5h2M1075 370.5h2M1082 370.5h2M1100 370.5h2M1112 370.5h3M1124 370.5h3M931 371.5h4M936 371.5h2M939 371.5h2M944 371.5h11M1017 371.5h9M1038 371.5h6M1052 371.5h2M1057 371.5h3M1061 371.5h2M1075 371.5h2M1082 371.5h3M1088 371.5h2M1092 371.5h4M1100 371.5h2M1113 371.5h2M1125 371.5h3M1170 371.5h2M931 372.5h4M936 372.5h2M941 372.5h2M944 372.5h7M952 372.5h3M1017 372.5h9M1029 372.5h2M1038 372.5h6M1055 372.5h2M1061 372.5h2M1067 372.5h2M1071 372.5h2M1083 372.5h2M1088 372.5h2M1092 372.5h4M1126 372.5h2M1129 372.5h2M1133 372.5h2M1137 372.5h2M1149 372.5h2M1170 372.5h2M939 373.5h6M947 373.5h3M951 373.5h3M1015 373.5h10M1029 373.5h3M1033 373.5h2M1044 373.5h3M1055 373.5h4M1067 373.5h2M1071 373.5h5M1080 373.5h3M1086 373.5h6M1129 373.5h6M1137 373.5h2M1148 373.5h3M927 374.5h3M939 374.5h6M948 374.5h6M956 374.5h3M1012 374.5h2M1015 374.5h2M1018 374.5h2M1022 374.5h2M1029 374.5h3M1033 374.5h2M1044 374.5h3M1057 374.5h2M1065 374.5h4M1073 374.5h3M1080 374.5h3M1085 374.5h3M1090 374.5h2M1114 374.5h2M1130 374.5h3M1148 374.5h2M927 375.5h3M939 375.5h4M947 375.5h6M956 375.5h3M1012 375.5h5M1018 375.5h2M1021 375.5h2M1025 375.5h2M1028 375.5h3M1032 375.5h2M1040 375.5h2M1044 375.5h2M1065 375.5h4M1085 375.5h2M1103 375.5h2M1114 375.5h2M1130 375.5h2M932 376.5h2M942 376.5h2M947 376.5h3M951 376.5h2M955 376.5h5M1012 376.5h3M1018 376.5h2M1021 376.5h2M1025 376.5h2M1028 376.5h3M1032 376.5h2M1035 376.5h2M1040 376.5h2M1061 376.5h2M1065 376.5h2M1070 376.5h2M1085 376.5h2M1103 376.5h2M1109 376.5h2M1114 376.5h3M1120 376.5h2M932 377.5h2M936 377.5h2M942 377.5h2M947 377.5h4M952 377.5h2M955 377.5h5M1015 377.5h2M1018 377.5h2M1025 377.5h6M1032 377.5h2M1035 377.5h2M1061 377.5h2M1070 377.5h2M1085 377.5h2M1096 377.5h2M1109 377.5h3M1115 377.5h2M1120 377.5h2M936 378.5h2M941 378.5h2M944 378.5h10M957 378.5h2M1007 378.5h2M1011 378.5h9M1022 378.5h4M1027 378.5h2M1032 378.5h2M1040 378.5h4M1064 378.5h2M1096 378.5h2M1110 378.5h2M1117 378.5h2M941 379.5h2M944 379.5h6M951 379.5h3M955 379.5h5M1007 379.5h13M1022 379.5h4M1035 379.5h2M1040 379.5h4M1046 379.5h4M1064 379.5h2M1092 379.5h2M1096 379.5h3M1117 379.5h2M1131 379.5h2M1136 379.5h2M941 380.5h2M945 380.5h2M951 380.5h12M1003 380.5h2M1007 380.5h14M1035 380.5h2M1046 380.5h4M1092 380.5h2M1097 380.5h2M1131 380.5h2M1136 380.5h2M921 381.5h2M937 381.5h2M941 381.5h2M945 381.5h4M954 381.5h9M1003 381.5h2M1008 381.5h2M1011 381.5h2M1014 381.5h2M1018 381.5h3M1024 381.5h2M1030 381.5h2M1041 381.5h2M1106 381.5h2M921 382.5h2M937 382.5h2M945 382.5h4M954 382.5h9M1002 382.5h2M1006 382.5h2M1011 382.5h2M1014 382.5h2M1017 382.5h2M1024 382.5h8M1041 382.5h2M1067 382.5h2M1070 382.5h3M1078 382.5h2M1106 382.5h2M937 383.5h2M946 383.5h3M954 383.5h11M1001 383.5h12M1014 383.5h2M1017 383.5h2M1026 383.5h4M1067 383.5h2M1070 383.5h3M1078 383.5h2M937 384.5h2M946 384.5h2M954 384.5h3M958 384.5h9M999 384.5h7M1007 384.5h5M1020 384.5h3M1028 384.5h2M1109 384.5h2M955 385.5h2M961 385.5h7M996 385.5h2M999 385.5h13M1014 385.5h2M1018 385.5h5M1028 385.5h3M1071 385.5h2M1102 385.5h2M1109 385.5h2M945 386.5h4M951 386.5h2M954 386.5h3M958 386.5h10M969 386.5h3M996 386.5h3M1000 386.5h7M1010 386.5h3M1014 386.5h2M1018 386.5h2M1029 386.5h2M1037 386.5h2M1071 386.5h2M1080 386.5h2M1084 386.5h2M1102 386.5h2M1106 386.5h2M1112 386.5h2M933 387.5h2M945 387.5h4M951 387.5h2M954 387.5h3M958 387.5h4M963 387.5h2M966 387.5h6M973 387.5h2M993 387.5h16M1010 387.5h4M1018 387.5h2M1037 387.5h2M1080 387.5h2M1084 387.5h2M1096 387.5h4M1106 387.5h2M1112 387.5h2M933 388.5h2M945 388.5h5M954 388.5h2M961 388.5h2M966 388.5h4M971 388.5h4M984 388.5h2M991 388.5h6M998 388.5h2M1001 388.5h8M1011 388.5h4M1025 388.5h2M1034 388.5h2M1064 388.5h2M1096 388.5h4M1111 388.5h2M945 389.5h2M948 389.5h2M952 389.5h6M959 389.5h6M967 389.5h2M971 389.5h4M980 389.5h3M984 389.5h2M987 389.5h3M991 389.5h2M996 389.5h2M999 389.5h2M1002 389.5h6M1009 389.5h6M1022 389.5h2M1025 389.5h2M1029 389.5h3M1034 389.5h2M1049 389.5h2M1064 389.5h2M1111 389.5h2M951 390.5h3M955 390.5h3M959 390.5h6M966 390.5h3M971 390.5h6M978 390.5h14M993 390.5h2M996 390.5h2M999 390.5h3M1003 390.5h5M1009 390.5h2M1012 390.5h2M1022 390.5h2M1029 390.5h3M1049 390.5h2M1097 390.5h2M1100 390.5h2M1180 390.5h2M951 391.5h2M954 391.5h3M958 391.5h3M962 391.5h7M971 391.5h2M974 391.5h6M981 391.5h6M990 391.5h2M993 391.5h3M1000 391.5h2M1003 391.5h2M1012 391.5h2M1022 391.5h2M1028 391.5h2M1072 391.5h2M1097 391.5h2M1100 391.5h2M1106 391.5h2M1126 391.5h2M1180 391.5h2M933 392.5h2M954 392.5h2M958 392.5h3M962 392.5h17M980 392.5h9M993 392.5h4M1001 392.5h4M1012 392.5h2M1028 392.5h2M1072 392.5h2M1083 392.5h2M1106 392.5h2M1126 392.5h2M933 393.5h2M947 393.5h2M953 393.5h2M967 393.5h7M975 393.5h2M980 393.5h3M985 393.5h4M990 393.5h7M1000 393.5h3M1014 393.5h2M1083 393.5h2M943 394.5h6M953 394.5h4M965 394.5h2M970 394.5h2M975 394.5h2M981 394.5h8M990 394.5h5M996 394.5h9M1010 394.5h6M1026 394.5h2M943 395.5h4M951 395.5h2M954 395.5h5M960 395.5h2M963 395.5h4M970 395.5h2M975 395.5h2M982 395.5h6M991 395.5h17M1010 395.5h4M1026 395.5h2M951 396.5h2M954 396.5h5M960 396.5h2M963 396.5h3M972 396.5h4M977 396.5h2M980 396.5h7M989 396.5h4M994 396.5h8M1004 396.5h4M1018 396.5h2M1087 396.5h2M1147 396.5h2M943 397.5h2M960 397.5h3M970 397.5h14M985 397.5h2M989 397.5h10M1018 397.5h2M1087 397.5h2M1147 397.5h2M1157 397.5h2M943 398.5h2M948 398.5h2M961 398.5h2M965 398.5h2M970 398.5h15M986 398.5h2M989 398.5h2M992 398.5h3M996 398.5h3M1008 398.5h2M1013 398.5h2M1019 398.5h2M1082 398.5h2M1157 398.5h2M948 399.5h2M952 399.5h2M956 399.5h3M960 399.5h2M964 399.5h3M971 399.5h2M974 399.5h4M979 399.5h6M986 399.5h2M989 399.5h3M996 399.5h2M1006 399.5h5M1013 399.5h2M1019 399.5h2M1049 399.5h2M1082 399.5h2M952 400.5h2M956 400.5h3M960 400.5h2M964 400.5h2M970 400.5h8M979 400.5h2M988 400.5h4M998 400.5h2M1006 400.5h2M1009 400.5h2M1049 400.5h2M948 401.5h2M966 401.5h2M969 401.5h10M984 401.5h2M988 401.5h2M998 401.5h2M1001 401.5h2M1043 401.5h2M1095 401.5h2M948 402.5h2M955 402.5h2M966 402.5h2M969 402.5h2M977 402.5h2M983 402.5h10M994 402.5h2M1001 402.5h2M1031 402.5h2M1043 402.5h2M1095 402.5h2M1113 402.5h2M954 403.5h3M977 403.5h4M983 403.5h2M986 403.5h10M1031 403.5h2M1113 403.5h2M954 404.5h2M977 404.5h4M987 404.5h4M993 404.5h3M1019 404.5h2M960 405.5h2M987 405.5h4M1019 405.5h2M1048 405.5h2M935 406.5h2M960 406.5h2M966 406.5h2M975 406.5h2M982 406.5h2M1007 406.5h2M1048 406.5h2M1078 406.5h2M935 407.5h2M966 407.5h2M975 407.5h2M982 407.5h2M995 407.5h2M1007 407.5h2M1010 407.5h2M1078 407.5h2M932 408.5h2M945 408.5h2M953 408.5h2M971 408.5h2M975 408.5h2M985 408.5h2M990 408.5h2M995 408.5h2M1010 408.5h2M1021 408.5h2M932 409.5h2M945 409.5h2M953 409.5h2M971 409.5h2M977 409.5h2M985 409.5h2M990 409.5h2M1004 409.5h2M1021 409.5h2M1031 409.5h2M955 410.5h2M970 410.5h2M976 410.5h3M991 410.5h4M1004 410.5h2M1031 410.5h2M1095 410.5h2M955 411.5h2M970 411.5h2M976 411.5h2M988 411.5h2M991 411.5h6M1004 411.5h2M1095 411.5h2M1137 411.5h2M988 412.5h2M992 412.5h2M995 412.5h2M1137 412.5h2M992 413.5h2M980 415.5h2M1019 415.5h2M1069 415.5h2M951 416.5h2M980 416.5h2M1019 416.5h2M1069 416.5h2M951 417.5h2M969 418.5h2M961 419.5h2M969 419.5h2M1120 419.5h2M961 420.5h2M1120 420.5h2" stroke="#1e1e1e" stroke-width="1" fill="none"/>
<path d="M901.0 396.3H909.5M901.0 380.2H909.5M901.0 368.9H909.5M901.0 360.0H909.5M901.0 352.8H909.5M901.0 346.7H909.5M901.0 341.4H909.5M901.0 336.8H909.5M894.5 332.6H909.5M901.0 305.2H909.5M901.0 289.1H909.5M901.0 277.8H909.5M901.0 268.9H909.5M901.0 261.7H909.5M901.0 255.6H909.5M901.0 250.3H909.5M901.0 245.7H909.5M894.5 241.5H909.5M901.0 214.1H909.5M901.0 198.0H909.5M901.0 186.7H909.5M901.0 177.8H909.5M901.0 170.6H909.5M901.0 164.5H909.5M901.0 159.2H909.5M901.0 154.6H909.5M894.5 150.4H909.5M901.0 123.0H909.5M901.0 106.9H909.5M901.0 95.6H909.5M901.0 86.7H909.5M901.0 79.5H909.5M901.0 73.4H909.5M901.0 68.1H909.5M901.0 63.5H909.5M894.5 58.2H909.5M937.2 422.0V428.5M954.5 422.0V428.5M966.7 422.0V428.5M976.2 422.0V428.5M983.9 422.0V428.5M990.5 422.0V428.5M996.1 422.0V428.5M1001.1 422.0V428.5M1005.6 422.0V433.0M1035.0 422.0V428.5M1052.3 422.0V428.5M1064.5 422.0V428.5M1074.0 422.0V428.5M1081.7 422.0V428.5M1088.3 422.0V428.5M1093.9 422.0V428.5M1098.9 422.0V428.5M1103.4 422.0V433.0M1132.8 422.0V428.5M1150.1 422.0V428.5M1162.3 422.0V428.5M1171.8 422.0V428.5M1179.5 422.0V428.5M1186.1 422.0V428.5M1191.7 422.0V428.5M1196.7 422.0V428.5M1201.2 422.0V433.0M1230.6 422.0V428.5M1247.9 422.0V428.5M1260.1 422.0V428.5M1269.6 422.0V428.5M1277.3 422.0V428.5M1283.9 422.0V428.5M1289.5 422.0V428.5M1294.5 422.0V428.5M1299.0 422.0V433.0" stroke="#333" stroke-width="2.6" fill="none"/>
<rect x="909.5" y="58.2" width="389.5" height="363.8" fill="none" stroke="#3a3a3a" stroke-width="2.6"/>
<path d="M1044.6 58.2V422.0M909.5 315.9H1299.0" stroke="#000" stroke-width="3.2"/>
<text x="820.5" y="57.9" font-size="43" font-weight="bold">B</text>
<text x="860.4" y="339.5" font-size="23.4">10<tspan font-size="13" dy="-7">0</tspan></text>
<text x="860.4" y="248.4" font-size="23.4">10<tspan font-size="13" dy="-7">1</tspan></text>
<text x="860.4" y="157.3" font-size="23.4">10<tspan font-size="13" dy="-7">2</tspan></text>
<text x="860.4" y="66.2" font-size="23.4">10<tspan font-size="13" dy="-7">3</tspan></text>
<text x="991.4" y="449.6" font-size="23.4">10<tspan font-size="13" dy="-7">0</tspan></text>
<text x="1089.2" y="449.6" font-size="23.4">10<tspan font-size="13" dy="-7">1</tspan></text>
<text x="1187.0" y="449.6" font-size="23.4">10<tspan font-size="13" dy="-7">2</tspan></text>
<text x="1269.7" y="449.6" font-size="23.4">10<tspan font-size="13" dy="-7">3</tspan></text>
<text x="1001.6" y="489.6" font-size="33.6" textLength="98.6" lengthAdjust="spacingAndGlyphs" class="h">Annexin</text>
<text x="1107.4" y="489.6" font-size="33.6" textLength="103.2" lengthAdjust="spacingAndGlyphs" class="h">V-FITC</text>
<text transform="translate(846.6,251.5) rotate(-90)" class="h" font-size="34" textLength="30.1" lengthAdjust="spacingAndGlyphs">PI</text>
<polygon points="1450.8,339.2 1464.6,334.6 1486.2,336.2 1507.7,333.1 1521.5,337.7 1518.5,350.0 1500.0,359.2 1486.2,368.5 1470.8,374.6 1456.9,370.0 1449.2,359.2 1446.2,348.5" fill="#1c1c1c" stroke="#1c1c1c" stroke-width="4" stroke-linejoin="round"/><path d="M1670 188.5h2M1670 189.5h2M1627 198.5h2M1627 199.5h2M1586 202.5h2M1586 203.5h2M1594 203.5h2M1588 204.5h2M1594 204.5h2M1588 205.5h2M1568 207.5h2M1578 207.5h2M1568 208.5h2M1578 208.5h2M1571 209.5h2M1576 209.5h2M1673 209.5h2M1571 210.5h2M1576 210.5h2M1673 210.5h2M1565 211.5h2M1624 211.5h2M1565 212.5h2M1624 212.5h2M1662 213.5h2M1579 214.5h2M1587 214.5h2M1662 214.5h2M1535 215.5h2M1579 215.5h2M1587 215.5h2M1602 215.5h2M1613 215.5h2M1535 216.5h2M1580 216.5h2M1591 216.5h2M1602 216.5h2M1613 216.5h2M1556 217.5h2M1580 217.5h2M1591 217.5h2M1666 217.5h2M1556 218.5h2M1581 218.5h2M1615 218.5h2M1627 218.5h2M1666 218.5h2M1581 219.5h2M1596 219.5h2M1612 219.5h2M1615 219.5h2M1627 219.5h2M1554 220.5h2M1583 220.5h2M1596 220.5h2M1612 220.5h2M1554 221.5h2M1563 221.5h2M1583 221.5h2M1593 221.5h3M1614 221.5h2M1549 222.5h2M1560 222.5h2M1563 222.5h2M1593 222.5h4M1610 222.5h2M1614 222.5h2M1549 223.5h2M1560 223.5h2M1584 223.5h4M1595 223.5h2M1599 223.5h2M1603 223.5h2M1610 223.5h2M1623 223.5h2M1626 223.5h2M1574 224.5h2M1584 224.5h4M1597 224.5h4M1603 224.5h2M1623 224.5h2M1626 224.5h2M1630 224.5h2M1691 224.5h2M1543 225.5h2M1566 225.5h2M1574 225.5h2M1586 225.5h3M1590 225.5h3M1597 225.5h2M1609 225.5h2M1630 225.5h2M1691 225.5h2M1542 226.5h3M1566 226.5h2M1587 226.5h2M1590 226.5h3M1597 226.5h2M1600 226.5h2M1609 226.5h2M1614 226.5h2M1640 226.5h2M1695 226.5h2M1542 227.5h2M1566 227.5h2M1570 227.5h2M1573 227.5h2M1585 227.5h4M1597 227.5h8M1614 227.5h2M1640 227.5h2M1695 227.5h2M1556 228.5h4M1567 228.5h2M1570 228.5h2M1573 228.5h2M1580 228.5h2M1583 228.5h6M1597 228.5h3M1601 228.5h4M1608 228.5h2M1552 229.5h2M1556 229.5h5M1563 229.5h2M1567 229.5h3M1573 229.5h2M1579 229.5h3M1583 229.5h2M1587 229.5h4M1605 229.5h2M1608 229.5h2M1552 230.5h2M1556 230.5h2M1559 230.5h3M1563 230.5h2M1568 230.5h3M1577 230.5h4M1582 230.5h6M1589 230.5h2M1595 230.5h2M1600 230.5h2M1605 230.5h2M1621 230.5h2M1467 231.5h2M1474 231.5h2M1528 231.5h2M1550 231.5h4M1556 231.5h2M1560 231.5h2M1569 231.5h2M1577 231.5h4M1582 231.5h6M1589 231.5h5M1595 231.5h2M1599 231.5h3M1621 231.5h2M1467 232.5h2M1474 232.5h2M1528 232.5h2M1546 232.5h2M1550 232.5h4M1555 232.5h2M1559 232.5h2M1571 232.5h3M1577 232.5h2M1585 232.5h2M1590 232.5h4M1597 232.5h7M1622 232.5h2M1675 232.5h2M1534 233.5h2M1546 233.5h2M1554 233.5h3M1559 233.5h2M1567 233.5h2M1571 233.5h3M1579 233.5h2M1584 233.5h3M1597 233.5h3M1601 233.5h3M1610 233.5h2M1622 233.5h2M1626 233.5h3M1675 233.5h2M1534 234.5h2M1537 234.5h2M1554 234.5h2M1558 234.5h2M1565 234.5h4M1570 234.5h2M1577 234.5h6M1584 234.5h4M1591 234.5h2M1595 234.5h2M1598 234.5h2M1603 234.5h2M1610 234.5h3M1617 234.5h2M1624 234.5h5M1537 235.5h2M1558 235.5h2M1565 235.5h3M1570 235.5h6M1577 235.5h2M1580 235.5h10M1591 235.5h2M1595 235.5h2M1600 235.5h5M1606 235.5h7M1617 235.5h2M1624 235.5h2M1641 235.5h2M1550 236.5h2M1554 236.5h2M1564 236.5h2M1570 236.5h8M1580 236.5h2M1583 236.5h4M1588 236.5h3M1593 236.5h2M1600 236.5h4M1606 236.5h7M1623 236.5h2M1634 236.5h2M1641 236.5h2M1550 237.5h2M1554 237.5h2M1560 237.5h2M1564 237.5h3M1569 237.5h2M1573 237.5h7M1585 237.5h2M1589 237.5h2M1593 237.5h3M1607 237.5h3M1616 237.5h2M1623 237.5h2M1634 237.5h2M1659 237.5h2M1525 238.5h2M1530 238.5h2M1544 238.5h2M1560 238.5h2M1565 238.5h2M1569 238.5h2M1574 238.5h2M1578 238.5h4M1585 238.5h3M1589 238.5h12M1607 238.5h8M1616 238.5h2M1620 238.5h2M1625 238.5h2M1653 238.5h2M1659 238.5h2M1525 239.5h2M1530 239.5h2M1536 239.5h2M1544 239.5h2M1552 239.5h2M1568 239.5h3M1577 239.5h5M1584 239.5h21M1609 239.5h6M1620 239.5h2M1625 239.5h2M1653 239.5h2M1663 239.5h2M1533 240.5h2M1536 240.5h5M1552 240.5h4M1557 240.5h3M1568 240.5h3M1577 240.5h6M1584 240.5h2M1588 240.5h4M1593 240.5h3M1598 240.5h7M1606 240.5h2M1610 240.5h2M1659 240.5h2M1663 240.5h2M1533 241.5h2M1538 241.5h3M1554 241.5h2M1557 241.5h3M1561 241.5h2M1569 241.5h2M1577 241.5h6M1590 241.5h2M1593 241.5h2M1603 241.5h2M1606 241.5h2M1618 241.5h2M1659 241.5h2M1687 241.5h2M1476 242.5h2M1512 242.5h2M1546 242.5h4M1556 242.5h2M1561 242.5h6M1568 242.5h2M1571 242.5h3M1577 242.5h6M1584 242.5h6M1597 242.5h2M1603 242.5h2M1617 242.5h3M1687 242.5h2M1476 243.5h2M1512 243.5h2M1519 243.5h2M1538 243.5h2M1546 243.5h4M1555 243.5h7M1563 243.5h7M1571 243.5h9M1581 243.5h9M1591 243.5h3M1597 243.5h2M1603 243.5h3M1617 243.5h2M1670 243.5h2M1506 244.5h2M1519 244.5h4M1530 244.5h2M1538 244.5h2M1555 244.5h7M1564 244.5h2M1567 244.5h2M1572 244.5h7M1581 244.5h4M1587 244.5h9M1597 244.5h2M1600 244.5h2M1604 244.5h2M1608 244.5h2M1618 244.5h2M1670 244.5h2M1506 245.5h2M1520 245.5h3M1530 245.5h2M1551 245.5h3M1555 245.5h3M1559 245.5h3M1563 245.5h3M1567 245.5h7M1575 245.5h3M1581 245.5h3M1585 245.5h13M1600 245.5h2M1608 245.5h3M1614 245.5h2M1618 245.5h2M1634 245.5h2M1499 246.5h2M1551 246.5h6M1560 246.5h5M1567 246.5h7M1575 246.5h3M1581 246.5h3M1585 246.5h13M1600 246.5h2M1603 246.5h2M1608 246.5h3M1614 246.5h2M1634 246.5h2M1499 247.5h2M1543 247.5h2M1547 247.5h6M1554 247.5h3M1559 247.5h4M1565 247.5h13M1580 247.5h3M1584 247.5h13M1602 247.5h5M1608 247.5h2M1543 248.5h2M1547 248.5h4M1556 248.5h6M1564 248.5h3M1568 248.5h5M1574 248.5h4M1579 248.5h4M1584 248.5h4M1589 248.5h8M1601 248.5h9M1454 249.5h2M1463 249.5h2M1528 249.5h2M1544 249.5h2M1556 249.5h6M1564 249.5h2M1567 249.5h2M1570 249.5h3M1576 249.5h2M1579 249.5h4M1586 249.5h2M1590 249.5h5M1601 249.5h8M1613 249.5h2M1623 249.5h2M1628 249.5h4M1664 249.5h2M1454 250.5h2M1463 250.5h2M1499 250.5h2M1512 250.5h2M1528 250.5h2M1544 250.5h2M1559 250.5h2M1562 250.5h4M1567 250.5h6M1575 250.5h4M1586 250.5h2M1589 250.5h2M1592 250.5h4M1601 250.5h8M1613 250.5h2M1618 250.5h2M1621 250.5h4M1628 250.5h4M1664 250.5h2M1499 251.5h2M1510 251.5h4M1549 251.5h2M1555 251.5h2M1558 251.5h2M1562 251.5h2M1569 251.5h3M1574 251.5h5M1587 251.5h9M1601 251.5h10M1618 251.5h2M1621 251.5h2M1510 252.5h2M1542 252.5h5M1549 252.5h2M1554 252.5h6M1563 252.5h2M1566 252.5h2M1570 252.5h6M1577 252.5h2M1581 252.5h2M1587 252.5h2M1591 252.5h5M1602 252.5h2M1605 252.5h3M1609 252.5h5M1615 252.5h3M1619 252.5h2M1482 253.5h2M1542 253.5h5M1554 253.5h6M1563 253.5h5M1571 253.5h13M1588 253.5h4M1594 253.5h3M1601 253.5h3M1606 253.5h2M1610 253.5h4M1615 253.5h3M1619 253.5h4M1624 253.5h2M1451 254.5h2M1482 254.5h2M1544 254.5h2M1558 254.5h2M1563 254.5h5M1571 254.5h2M1575 254.5h11M1588 254.5h18M1607 254.5h2M1610 254.5h3M1621 254.5h2M1624 254.5h2M1437 255.5h2M1451 255.5h2M1523 255.5h2M1541 255.5h4M1554 255.5h2M1558 255.5h2M1564 255.5h8M1573 255.5h9M1584 255.5h2M1591 255.5h11M1603 255.5h6M1610 255.5h3M1615 255.5h2M1622 255.5h4M1644 255.5h2M1437 256.5h2M1476 256.5h2M1492 256.5h2M1523 256.5h2M1541 256.5h4M1547 256.5h2M1551 256.5h5M1558 256.5h2M1564 256.5h3M1568 256.5h7M1577 256.5h10M1591 256.5h5M1597 256.5h5M1603 256.5h4M1608 256.5h2M1615 256.5h4M1620 256.5h6M1635 256.5h2M1644 256.5h2M1446 257.5h2M1472 257.5h2M1476 257.5h2M1490 257.5h4M1511 257.5h2M1522 257.5h2M1527 257.5h4M1542 257.5h2M1547 257.5h8M1558 257.5h11M1570 257.5h4M1575 257.5h12M1591 257.5h5M1597 257.5h2M1600 257.5h2M1604 257.5h2M1608 257.5h5M1616 257.5h3M1620 257.5h2M1626 257.5h2M1635 257.5h2M1441 258.5h2M1446 258.5h2M1472 258.5h2M1488 258.5h4M1503 258.5h2M1506 258.5h7M1522 258.5h2M1527 258.5h4M1536 258.5h2M1542 258.5h2M1549 258.5h2M1556 258.5h2M1560 258.5h9M1570 258.5h8M1579 258.5h9M1589 258.5h3M1595 258.5h2M1600 258.5h2M1604 258.5h2M1609 258.5h5M1626 258.5h2M1441 259.5h2M1447 259.5h2M1465 259.5h2M1475 259.5h2M1488 259.5h2M1503 259.5h2M1506 259.5h6M1519 259.5h2M1533 259.5h2M1536 259.5h2M1542 259.5h2M1554 259.5h4M1560 259.5h3M1564 259.5h2M1567 259.5h4M1572 259.5h6M1579 259.5h2M1582 259.5h12M1595 259.5h3M1600 259.5h9M1610 259.5h7M1619 259.5h2M1624 259.5h2M1634 259.5h2M1447 260.5h2M1465 260.5h2M1475 260.5h2M1486 260.5h4M1503 260.5h2M1519 260.5h2M1529 260.5h2M1533 260.5h2M1541 260.5h5M1551 260.5h2M1554 260.5h4M1560 260.5h4M1565 260.5h2M1569 260.5h2M1573 260.5h4M1578 260.5h9M1588 260.5h2M1591 260.5h3M1595 260.5h4M1600 260.5h4M1605 260.5h4M1610 260.5h2M1614 260.5h4M1619 260.5h2M1624 260.5h2M1629 260.5h2M1634 260.5h4M1469 261.5h3M1486 261.5h2M1503 261.5h2M1507 261.5h2M1529 261.5h2M1537 261.5h9M1549 261.5h4M1554 261.5h2M1562 261.5h2M1565 261.5h4M1571 261.5h13M1590 261.5h3M1594 261.5h5M1602 261.5h4M1607 261.5h2M1616 261.5h2M1619 261.5h2M1622 261.5h2M1629 261.5h2M1636 261.5h2M1420 262.5h2M1445 262.5h2M1469 262.5h3M1507 262.5h3M1535 262.5h6M1542 262.5h2M1549 262.5h2M1554 262.5h2M1559 262.5h2M1564 262.5h15M1581 262.5h2M1587 262.5h5M1593 262.5h7M1602 262.5h7M1612 262.5h3M1622 262.5h2M1628 262.5h2M1638 262.5h2M1420 263.5h2M1445 263.5h2M1483 263.5h2M1492 263.5h2M1505 263.5h2M1508 263.5h2M1512 263.5h2M1535 263.5h4M1540 263.5h4M1552 263.5h9M1564 263.5h7M1573 263.5h10M1587 263.5h5M1593 263.5h2M1597 263.5h3M1605 263.5h2M1612 263.5h3M1628 263.5h2M1638 263.5h2M1433 264.5h2M1483 264.5h2M1492 264.5h3M1496 264.5h2M1505 264.5h4M1512 264.5h3M1528 264.5h3M1539 264.5h3M1550 264.5h10M1564 264.5h6M1571 264.5h12M1588 264.5h4M1596 264.5h4M1602 264.5h4M1610 264.5h2M1619 264.5h2M1433 265.5h2M1448 265.5h2M1490 265.5h2M1493 265.5h2M1496 265.5h6M1506 265.5h3M1513 265.5h2M1518 265.5h3M1528 265.5h3M1539 265.5h2M1546 265.5h2M1550 265.5h2M1558 265.5h2M1564 265.5h6M1571 265.5h12M1586 265.5h7M1596 265.5h4M1602 265.5h5M1608 265.5h4M1619 265.5h3M1448 266.5h2M1455 266.5h2M1463 266.5h2M1490 266.5h2M1498 266.5h4M1516 266.5h5M1522 266.5h2M1525 266.5h2M1546 266.5h2M1550 266.5h2M1553 266.5h2M1556 266.5h4M1561 266.5h2M1565 266.5h5M1572 266.5h2M1576 266.5h9M1586 266.5h7M1594 266.5h2M1597 266.5h3M1602 266.5h2M1605 266.5h2M1608 266.5h7M1618 266.5h6M1628 266.5h4M1420 267.5h2M1455 267.5h2M1458 267.5h2M1463 267.5h2M1477 267.5h3M1488 267.5h2M1516 267.5h2M1522 267.5h5M1531 267.5h4M1536 267.5h2M1539 267.5h5M1550 267.5h2M1553 267.5h2M1556 267.5h4M1561 267.5h11M1576 267.5h12M1589 267.5h4M1594 267.5h2M1597 267.5h3M1611 267.5h5M1618 267.5h3M1622 267.5h2M1627 267.5h5M1635 267.5h2M1405 268.5h2M1420 268.5h2M1444 268.5h2M1451 268.5h2M1458 268.5h4M1464 268.5h2M1477 268.5h3M1488 268.5h2M1522 268.5h4M1531 268.5h4M1536 268.5h11M1552 268.5h2M1556 268.5h2M1563 268.5h3M1567 268.5h7M1576 268.5h3M1580 268.5h3M1584 268.5h4M1590 268.5h3M1597 268.5h3M1613 268.5h3M1618 268.5h4M1627 268.5h2M1635 268.5h2M1405 269.5h2M1444 269.5h2M1451 269.5h2M1458 269.5h4M1464 269.5h2M1467 269.5h2M1471 269.5h2M1478 269.5h4M1483 269.5h2M1494 269.5h2M1522 269.5h4M1533 269.5h8M1543 269.5h5M1552 269.5h3M1559 269.5h3M1564 269.5h10M1578 269.5h7M1586 269.5h2M1590 269.5h5M1600 269.5h2M1604 269.5h2M1607 269.5h2M1618 269.5h4M1623 269.5h2M1646 269.5h2M1467 270.5h6M1480 270.5h2M1483 270.5h2M1488 270.5h2M1494 270.5h2M1506 270.5h4M1518 270.5h2M1523 270.5h5M1531 270.5h7M1539 270.5h2M1543 270.5h5M1553 270.5h2M1557 270.5h5M1564 270.5h4M1569 270.5h4M1577 270.5h9M1587 270.5h2M1590 270.5h5M1600 270.5h2M1604 270.5h2M1607 270.5h8M1623 270.5h2M1630 270.5h2M1646 270.5h2M1409 271.5h2M1469 271.5h2M1487 271.5h5M1495 271.5h2M1498 271.5h2M1506 271.5h6M1518 271.5h2M1525 271.5h3M1531 271.5h2M1535 271.5h6M1543 271.5h2M1546 271.5h2M1553 271.5h2M1557 271.5h6M1564 271.5h2M1567 271.5h6M1577 271.5h3M1581 271.5h5M1587 271.5h3M1593 271.5h2M1605 271.5h10M1628 271.5h4M1640 271.5h2M1409 272.5h2M1460 272.5h2M1480 272.5h2M1487 272.5h2M1490 272.5h2M1495 272.5h2M1498 272.5h2M1504 272.5h3M1510 272.5h4M1525 272.5h2M1532 272.5h2M1537 272.5h4M1545 272.5h2M1553 272.5h2M1556 272.5h2M1559 272.5h5M1567 272.5h7M1575 272.5h3M1579 272.5h2M1582 272.5h3M1588 272.5h6M1598 272.5h2M1605 272.5h4M1612 272.5h2M1628 272.5h2M1640 272.5h4M1685 272.5h2M1460 273.5h2M1469 273.5h2M1480 273.5h2M1488 273.5h2M1504 273.5h3M1512 273.5h2M1515 273.5h2M1529 273.5h2M1532 273.5h2M1536 273.5h2M1539 273.5h2M1545 273.5h2M1550 273.5h2M1553 273.5h2M1556 273.5h2M1560 273.5h14M1575 273.5h3M1579 273.5h2M1582 273.5h2M1590 273.5h10M1619 273.5h2M1637 273.5h2M1642 273.5h2M1685 273.5h2M1447 274.5h2M1461 274.5h2M1469 274.5h2M1474 274.5h2M1480 274.5h4M1488 274.5h2M1493 274.5h2M1504 274.5h3M1509 274.5h2M1515 274.5h2M1520 274.5h2M1529 274.5h5M1536 274.5h2M1550 274.5h2M1558 274.5h5M1564 274.5h4M1569 274.5h4M1576 274.5h2M1580 274.5h2M1583 274.5h6M1590 274.5h10M1603 274.5h2M1619 274.5h2M1637 274.5h2M1442 275.5h2M1447 275.5h2M1461 275.5h2M1474 275.5h2M1480 275.5h4M1493 275.5h2M1504 275.5h2M1509 275.5h2M1516 275.5h2M1520 275.5h2M1530 275.5h2M1555 275.5h8M1569 275.5h4M1574 275.5h20M1595 275.5h4M1601 275.5h6M1625 275.5h2M1442 276.5h2M1450 276.5h2M1458 276.5h2M1484 276.5h2M1499 276.5h2M1504 276.5h2M1516 276.5h2M1519 276.5h5M1525 276.5h2M1530 276.5h2M1533 276.5h2M1536 276.5h5M1555 276.5h4M1560 276.5h3M1564 276.5h3M1569 276.5h4M1574 276.5h6M1581 276.5h2M1586 276.5h2M1589 276.5h2M1592 276.5h2M1595 276.5h12M1613 276.5h4M1625 276.5h2M1450 277.5h2M1458 277.5h2M1484 277.5h2M1493 277.5h2M1499 277.5h2M1504 277.5h2M1511 277.5h2M1515 277.5h2M1519 277.5h5M1525 277.5h2M1530 277.5h2M1533 277.5h2M1536 277.5h5M1553 277.5h2M1564 277.5h3M1568 277.5h3M1572 277.5h9M1583 277.5h2M1588 277.5h2M1592 277.5h2M1595 277.5h6M1602 277.5h5M1613 277.5h4M1441 278.5h4M1464 278.5h2M1471 278.5h2M1490 278.5h2M1493 278.5h2M1504 278.5h2M1511 278.5h2M1515 278.5h4M1522 278.5h2M1525 278.5h5M1533 278.5h2M1538 278.5h2M1545 278.5h2M1550 278.5h6M1566 278.5h4M1572 278.5h9M1583 278.5h2M1586 278.5h4M1593 278.5h2M1596 278.5h3M1603 278.5h4M1425 279.5h2M1435 279.5h2M1441 279.5h4M1464 279.5h2M1470 279.5h3M1490 279.5h2M1495 279.5h2M1510 279.5h4M1517 279.5h2M1522 279.5h2M1525 279.5h6M1533 279.5h2M1538 279.5h2M1545 279.5h2M1550 279.5h3M1554 279.5h2M1557 279.5h2M1566 279.5h8M1577 279.5h3M1582 279.5h7M1593 279.5h2M1601 279.5h4M1607 279.5h2M1616 279.5h2M1425 280.5h2M1435 280.5h2M1469 280.5h3M1486 280.5h2M1490 280.5h2M1495 280.5h2M1502 280.5h3M1510 280.5h4M1521 280.5h2M1525 280.5h2M1529 280.5h2M1550 280.5h3M1557 280.5h2M1566 280.5h9M1577 280.5h3M1582 280.5h4M1587 280.5h2M1593 280.5h2M1597 280.5h2M1601 280.5h4M1606 280.5h3M1616 280.5h2M1427 281.5h2M1449 281.5h2M1469 281.5h2M1482 281.5h2M1486 281.5h2M1490 281.5h2M1502 281.5h5M1518 281.5h2M1521 281.5h2M1525 281.5h2M1529 281.5h2M1534 281.5h2M1546 281.5h7M1568 281.5h3M1573 281.5h2M1577 281.5h2M1581 281.5h6M1593 281.5h2M1596 281.5h3M1605 281.5h3M1618 281.5h2M1427 282.5h3M1449 282.5h2M1482 282.5h3M1505 282.5h2M1515 282.5h2M1518 282.5h2M1522 282.5h2M1525 282.5h2M1529 282.5h2M1534 282.5h2M1546 282.5h5M1569 282.5h3M1577 282.5h2M1581 282.5h6M1588 282.5h2M1594 282.5h4M1599 282.5h2M1605 282.5h2M1618 282.5h2M1632 282.5h2M1428 283.5h2M1448 283.5h2M1483 283.5h2M1492 283.5h2M1500 283.5h2M1515 283.5h2M1522 283.5h2M1525 283.5h3M1538 283.5h2M1543 283.5h2M1547 283.5h3M1555 283.5h2M1569 283.5h3M1584 283.5h2M1587 283.5h3M1591 283.5h2M1594 283.5h2M1599 283.5h2M1603 283.5h2M1606 283.5h2M1632 283.5h2M1448 284.5h2M1467 284.5h2M1470 284.5h2M1474 284.5h2M1492 284.5h2M1500 284.5h2M1519 284.5h3M1524 284.5h4M1530 284.5h4M1538 284.5h3M1543 284.5h2M1547 284.5h2M1555 284.5h4M1570 284.5h2M1573 284.5h2M1577 284.5h2M1587 284.5h2M1591 284.5h2M1598 284.5h2M1603 284.5h2M1606 284.5h2M1467 285.5h2M1470 285.5h2M1473 285.5h3M1500 285.5h2M1512 285.5h2M1519 285.5h3M1524 285.5h10M1539 285.5h2M1544 285.5h2M1548 285.5h2M1554 285.5h2M1557 285.5h2M1570 285.5h2M1573 285.5h2M1577 285.5h4M1583 285.5h2M1587 285.5h2M1592 285.5h2M1598 285.5h2M1622 285.5h2M1472 286.5h3M1479 286.5h2M1498 286.5h2M1503 286.5h2M1506 286.5h2M1512 286.5h2M1520 286.5h2M1523 286.5h8M1544 286.5h3M1548 286.5h2M1551 286.5h2M1554 286.5h2M1562 286.5h4M1574 286.5h11M1587 286.5h2M1592 286.5h4M1617 286.5h2M1622 286.5h2M1472 287.5h2M1479 287.5h2M1498 287.5h2M1503 287.5h5M1515 287.5h2M1520 287.5h5M1526 287.5h5M1533 287.5h2M1536 287.5h2M1542 287.5h2M1545 287.5h3M1551 287.5h2M1562 287.5h4M1569 287.5h3M1574 287.5h5M1580 287.5h6M1590 287.5h2M1594 287.5h2M1614 287.5h2M1617 287.5h2M1484 288.5h2M1505 288.5h3M1514 288.5h3M1521 288.5h2M1525 288.5h2M1528 288.5h2M1533 288.5h2M1536 288.5h2M1542 288.5h2M1546 288.5h4M1565 288.5h2M1569 288.5h3M1577 288.5h2M1580 288.5h2M1584 288.5h2M1590 288.5h2M1594 288.5h2M1614 288.5h2M1640 288.5h2M1456 289.5h2M1469 289.5h2M1475 289.5h2M1484 289.5h2M1508 289.5h2M1514 289.5h2M1525 289.5h2M1540 289.5h2M1548 289.5h2M1552 289.5h3M1561 289.5h2M1565 289.5h2M1569 289.5h2M1584 289.5h2M1587 289.5h2M1591 289.5h2M1594 289.5h2M1640 289.5h2M1456 290.5h2M1469 290.5h2M1475 290.5h2M1483 290.5h2M1508 290.5h2M1519 290.5h2M1522 290.5h4M1529 290.5h2M1540 290.5h2M1543 290.5h2M1552 290.5h3M1556 290.5h2M1561 290.5h4M1569 290.5h2M1587 290.5h2M1591 290.5h2M1603 290.5h2M1606 290.5h2M1609 290.5h3M1457 291.5h2M1476 291.5h2M1483 291.5h4M1499 291.5h2M1513 291.5h2M1519 291.5h2M1522 291.5h4M1529 291.5h4M1537 291.5h2M1543 291.5h2M1556 291.5h2M1563 291.5h3M1583 291.5h2M1587 291.5h4M1597 291.5h2M1602 291.5h3M1606 291.5h2M1609 291.5h3M1457 292.5h2M1460 292.5h2M1466 292.5h2M1476 292.5h2M1484 292.5h3M1499 292.5h2M1511 292.5h4M1526 292.5h7M1537 292.5h2M1549 292.5h2M1553 292.5h4M1564 292.5h2M1576 292.5h2M1581 292.5h4M1589 292.5h2M1593 292.5h2M1597 292.5h2M1602 292.5h2M1622 292.5h2M1460 293.5h2M1466 293.5h2M1490 293.5h2M1496 293.5h2M1511 293.5h5M1524 293.5h8M1538 293.5h2M1547 293.5h4M1553 293.5h4M1562 293.5h2M1566 293.5h4M1572 293.5h2M1576 293.5h2M1581 293.5h2M1593 293.5h2M1622 293.5h2M1490 294.5h2M1496 294.5h2M1513 294.5h3M1524 294.5h2M1527 294.5h2M1530 294.5h2M1536 294.5h4M1547 294.5h2M1562 294.5h2M1566 294.5h4M1572 294.5h2M1582 294.5h2M1490 295.5h2M1494 295.5h2M1519 295.5h2M1527 295.5h2M1530 295.5h2M1536 295.5h2M1550 295.5h3M1558 295.5h3M1567 295.5h2M1582 295.5h2M1490 296.5h2M1494 296.5h2M1501 296.5h2M1511 296.5h2M1514 296.5h2M1519 296.5h4M1527 296.5h2M1540 296.5h2M1545 296.5h2M1550 296.5h3M1558 296.5h3M1595 296.5h2M1606 296.5h4M1619 296.5h2M1501 297.5h2M1511 297.5h2M1514 297.5h2M1518 297.5h2M1521 297.5h2M1540 297.5h3M1545 297.5h2M1551 297.5h2M1554 297.5h2M1558 297.5h2M1561 297.5h2M1565 297.5h3M1574 297.5h2M1586 297.5h3M1595 297.5h2M1606 297.5h4M1619 297.5h2M1512 298.5h2M1518 298.5h2M1524 298.5h2M1528 298.5h3M1536 298.5h2M1539 298.5h5M1545 298.5h2M1551 298.5h2M1554 298.5h6M1561 298.5h2M1565 298.5h3M1569 298.5h2M1574 298.5h5M1580 298.5h2M1586 298.5h4M1603 298.5h2M1630 298.5h2M1512 299.5h2M1522 299.5h4M1528 299.5h3M1536 299.5h2M1539 299.5h2M1542 299.5h2M1545 299.5h2M1554 299.5h4M1559 299.5h2M1567 299.5h4M1576 299.5h3M1580 299.5h2M1588 299.5h2M1603 299.5h2M1607 299.5h2M1630 299.5h2M1480 300.5h2M1483 300.5h2M1493 300.5h4M1498 300.5h2M1506 300.5h2M1517 300.5h2M1522 300.5h4M1527 300.5h2M1539 300.5h2M1544 300.5h2M1552 300.5h3M1559 300.5h2M1567 300.5h2M1571 300.5h2M1579 300.5h4M1588 300.5h3M1599 300.5h2M1607 300.5h2M1610 300.5h2M1623 300.5h3M1472 301.5h2M1480 301.5h5M1488 301.5h4M1493 301.5h4M1498 301.5h4M1506 301.5h2M1509 301.5h2M1517 301.5h2M1521 301.5h2M1524 301.5h2M1527 301.5h2M1535 301.5h4M1542 301.5h6M1552 301.5h3M1571 301.5h2M1577 301.5h6M1588 301.5h4M1599 301.5h2M1610 301.5h2M1617 301.5h2M1623 301.5h3M1636 301.5h2M1436 302.5h2M1444 302.5h2M1472 302.5h2M1475 302.5h2M1482 302.5h2M1488 302.5h4M1497 302.5h5M1506 302.5h2M1509 302.5h2M1517 302.5h2M1521 302.5h6M1535 302.5h4M1541 302.5h4M1546 302.5h2M1555 302.5h2M1577 302.5h7M1590 302.5h4M1608 302.5h2M1617 302.5h2M1623 302.5h3M1636 302.5h2M1436 303.5h2M1444 303.5h2M1471 303.5h2M1475 303.5h2M1485 303.5h2M1497 303.5h5M1517 303.5h2M1521 303.5h6M1532 303.5h4M1541 303.5h6M1548 303.5h2M1555 303.5h2M1560 303.5h4M1573 303.5h4M1578 303.5h6M1586 303.5h2M1592 303.5h2M1595 303.5h3M1608 303.5h2M1469 304.5h4M1484 304.5h3M1502 304.5h4M1509 304.5h2M1518 304.5h5M1532 304.5h4M1541 304.5h2M1545 304.5h5M1551 304.5h2M1560 304.5h8M1573 304.5h4M1578 304.5h2M1586 304.5h2M1595 304.5h3M1607 304.5h2M1621 304.5h2M1412 305.5h2M1437 305.5h2M1456 305.5h2M1463 305.5h3M1469 305.5h2M1477 305.5h2M1484 305.5h2M1488 305.5h2M1500 305.5h6M1509 305.5h4M1517 305.5h7M1526 305.5h2M1532 305.5h2M1541 305.5h2M1546 305.5h4M1551 305.5h4M1561 305.5h7M1573 305.5h4M1596 305.5h3M1600 305.5h2M1604 305.5h2M1607 305.5h2M1621 305.5h2M1624 305.5h2M1412 306.5h2M1437 306.5h2M1456 306.5h4M1463 306.5h3M1475 306.5h4M1488 306.5h2M1494 306.5h2M1500 306.5h3M1511 306.5h2M1515 306.5h4M1522 306.5h8M1532 306.5h2M1538 306.5h2M1541 306.5h2M1546 306.5h2M1551 306.5h4M1556 306.5h2M1560 306.5h2M1570 306.5h4M1575 306.5h2M1579 306.5h2M1582 306.5h2M1591 306.5h2M1597 306.5h2M1600 306.5h2M1604 306.5h2M1607 306.5h2M1611 306.5h2M1620 306.5h6M1630 306.5h2M1635 306.5h2M1453 307.5h2M1458 307.5h2M1465 307.5h2M1475 307.5h3M1490 307.5h2M1494 307.5h2M1500 307.5h3M1508 307.5h2M1515 307.5h4M1520 307.5h2M1524 307.5h3M1528 307.5h5M1538 307.5h2M1553 307.5h2M1556 307.5h2M1560 307.5h2M1566 307.5h3M1570 307.5h4M1579 307.5h2M1582 307.5h2M1591 307.5h4M1597 307.5h2M1611 307.5h2M1620 307.5h4M1630 307.5h2M1635 307.5h2M1435 308.5h2M1446 308.5h2M1453 308.5h2M1465 308.5h3M1471 308.5h2M1476 308.5h5M1490 308.5h3M1499 308.5h3M1505 308.5h2M1508 308.5h2M1513 308.5h6M1520 308.5h2M1523 308.5h2M1527 308.5h6M1550 308.5h2M1565 308.5h5M1572 308.5h3M1591 308.5h4M1606 308.5h2M1609 308.5h3M1620 308.5h2M1435 309.5h2M1441 309.5h2M1446 309.5h2M1453 309.5h2M1466 309.5h2M1471 309.5h2M1478 309.5h3M1490 309.5h7M1499 309.5h2M1505 309.5h2M1513 309.5h2M1518 309.5h4M1523 309.5h7M1536 309.5h2M1539 309.5h2M1543 309.5h4M1550 309.5h2M1565 309.5h2M1568 309.5h2M1572 309.5h3M1591 309.5h4M1603 309.5h2M1606 309.5h2M1609 309.5h4M1631 309.5h2M1441 310.5h2M1455 310.5h2M1465 310.5h2M1471 310.5h3M1475 310.5h2M1490 310.5h2M1493 310.5h6M1500 310.5h2M1504 310.5h4M1513 310.5h2M1518 310.5h5M1525 310.5h4M1530 310.5h2M1536 310.5h5M1543 310.5h4M1553 310.5h2M1556 310.5h2M1562 310.5h4M1572 310.5h2M1592 310.5h2M1597 310.5h3M1601 310.5h4M1611 310.5h4M1621 310.5h4M1627 310.5h2M1631 310.5h2M1422 311.5h2M1455 311.5h2M1465 311.5h2M1471 311.5h3M1475 311.5h2M1493 311.5h6M1500 311.5h8M1513 311.5h3M1517 311.5h6M1527 311.5h2M1530 311.5h2M1538 311.5h2M1541 311.5h2M1553 311.5h2M1556 311.5h2M1562 311.5h4M1572 311.5h2M1577 311.5h4M1583 311.5h2M1592 311.5h2M1595 311.5h5M1601 311.5h3M1613 311.5h2M1620 311.5h5M1627 311.5h2M1631 311.5h2M1422 312.5h2M1468 312.5h3M1474 312.5h3M1488 312.5h4M1493 312.5h2M1499 312.5h2M1502 312.5h7M1514 312.5h2M1517 312.5h2M1520 312.5h3M1527 312.5h4M1534 312.5h4M1541 312.5h2M1546 312.5h2M1553 312.5h5M1562 312.5h3M1577 312.5h4M1583 312.5h2M1588 312.5h2M1592 312.5h2M1595 312.5h2M1601 312.5h5M1620 312.5h4M1428 313.5h2M1451 313.5h2M1468 313.5h3M1474 313.5h2M1480 313.5h2M1488 313.5h4M1493 313.5h2M1496 313.5h5M1502 313.5h9M1521 313.5h4M1527 313.5h11M1540 313.5h2M1543 313.5h2M1546 313.5h3M1555 313.5h3M1562 313.5h3M1582 313.5h3M1587 313.5h3M1601 313.5h5M1616 313.5h2M1622 313.5h2M1428 314.5h2M1451 314.5h2M1454 314.5h2M1468 314.5h2M1475 314.5h2M1480 314.5h2M1489 314.5h2M1496 314.5h4M1502 314.5h3M1508 314.5h3M1512 314.5h14M1527 314.5h11M1540 314.5h5M1546 314.5h3M1563 314.5h2M1567 314.5h4M1574 314.5h2M1578 314.5h2M1582 314.5h2M1587 314.5h2M1590 314.5h2M1613 314.5h5M1631 314.5h2M1440 315.5h2M1451 315.5h5M1461 315.5h2M1466 315.5h2M1471 315.5h2M1474 315.5h3M1489 315.5h3M1495 315.5h5M1508 315.5h3M1512 315.5h18M1532 315.5h5M1542 315.5h9M1552 315.5h2M1560 315.5h2M1564 315.5h2M1567 315.5h4M1574 315.5h6M1581 315.5h2M1590 315.5h3M1611 315.5h7M1620 315.5h4M1631 315.5h2M1440 316.5h2M1451 316.5h5M1461 316.5h4M1466 316.5h2M1469 316.5h4M1474 316.5h3M1480 316.5h2M1487 316.5h5M1495 316.5h4M1503 316.5h2M1509 316.5h2M1515 316.5h8M1524 316.5h4M1532 316.5h2M1535 316.5h4M1542 316.5h9M1552 316.5h3M1560 316.5h2M1564 316.5h2M1567 316.5h2M1573 316.5h5M1581 316.5h2M1584 316.5h2M1591 316.5h3M1595 316.5h2M1611 316.5h2M1614 316.5h2M1620 316.5h4M1437 317.5h2M1458 317.5h2M1463 317.5h2M1467 317.5h8M1480 317.5h4M1487 317.5h2M1491 317.5h2M1497 317.5h5M1503 317.5h3M1507 317.5h2M1517 317.5h5M1523 317.5h7M1534 317.5h2M1537 317.5h2M1542 317.5h3M1546 317.5h4M1552 317.5h3M1560 317.5h2M1567 317.5h2M1573 317.5h2M1584 317.5h4M1590 317.5h7M1598 317.5h2M1603 317.5h3M1608 317.5h2M1614 317.5h2M1617 317.5h2M1622 317.5h2M1625 317.5h2M1631 317.5h2M1436 318.5h3M1451 318.5h2M1458 318.5h7M1467 318.5h2M1471 318.5h4M1482 318.5h3M1486 318.5h2M1489 318.5h4M1497 318.5h5M1504 318.5h2M1507 318.5h2M1510 318.5h3M1515 318.5h10M1526 318.5h4M1531 318.5h5M1537 318.5h2M1541 318.5h3M1546 318.5h4M1553 318.5h2M1557 318.5h5M1578 318.5h2M1586 318.5h11M1598 318.5h2M1603 318.5h4M1608 318.5h2M1617 318.5h2M1622 318.5h2M1625 318.5h2M1631 318.5h2M1436 319.5h2M1451 319.5h2M1455 319.5h2M1460 319.5h4M1467 319.5h2M1472 319.5h6M1483 319.5h2M1486 319.5h6M1493 319.5h4M1499 319.5h2M1502 319.5h5M1508 319.5h5M1515 319.5h2M1520 319.5h4M1528 319.5h2M1531 319.5h6M1538 319.5h6M1546 319.5h4M1552 319.5h3M1557 319.5h3M1561 319.5h2M1564 319.5h2M1567 319.5h2M1578 319.5h2M1581 319.5h2M1588 319.5h2M1591 319.5h5M1605 319.5h5M1628 319.5h2M1631 319.5h2M1440 320.5h3M1448 320.5h2M1454 320.5h5M1467 320.5h4M1472 320.5h6M1481 320.5h2M1487 320.5h4M1493 320.5h17M1511 320.5h2M1514 320.5h2M1517 320.5h4M1522 320.5h2M1528 320.5h2M1535 320.5h2M1538 320.5h3M1542 320.5h2M1545 320.5h5M1552 320.5h3M1556 320.5h4M1561 320.5h2M1564 320.5h5M1576 320.5h2M1580 320.5h3M1588 320.5h2M1591 320.5h3M1601 320.5h2M1607 320.5h3M1628 320.5h5M1426 321.5h2M1430 321.5h2M1440 321.5h3M1448 321.5h2M1454 321.5h2M1457 321.5h2M1465 321.5h2M1469 321.5h2M1472 321.5h2M1476 321.5h3M1481 321.5h4M1486 321.5h5M1497 321.5h7M1505 321.5h17M1527 321.5h2M1531 321.5h3M1536 321.5h5M1545 321.5h3M1553 321.5h7M1565 321.5h2M1576 321.5h2M1580 321.5h3M1584 321.5h2M1588 321.5h3M1601 321.5h2M1630 321.5h2M1426 322.5h2M1430 322.5h2M1438 322.5h2M1448 322.5h5M1461 322.5h2M1465 322.5h2M1472 322.5h7M1483 322.5h2M1486 322.5h2M1493 322.5h2M1496 322.5h2M1500 322.5h2M1507 322.5h8M1516 322.5h3M1520 322.5h9M1531 322.5h3M1536 322.5h5M1547 322.5h2M1553 322.5h6M1567 322.5h2M1581 322.5h2M1584 322.5h2M1588 322.5h4M1593 322.5h4M1603 322.5h2M1611 322.5h2M1615 322.5h2M1438 323.5h2M1449 323.5h4M1455 323.5h2M1460 323.5h5M1474 323.5h4M1481 323.5h2M1492 323.5h6M1505 323.5h13M1521 323.5h7M1529 323.5h2M1532 323.5h2M1536 323.5h2M1547 323.5h2M1553 323.5h4M1558 323.5h2M1563 323.5h2M1567 323.5h2M1581 323.5h2M1590 323.5h2M1593 323.5h4M1603 323.5h2M1611 323.5h2M1615 323.5h2M1442 324.5h9M1455 324.5h7M1463 324.5h2M1466 324.5h4M1476 324.5h2M1479 324.5h6M1487 324.5h3M1492 324.5h4M1498 324.5h5M1504 324.5h10M1515 324.5h16M1532 324.5h4M1543 324.5h2M1547 324.5h2M1554 324.5h2M1558 324.5h2M1563 324.5h2M1571 324.5h2M1576 324.5h2M1581 324.5h2M1594 324.5h2M1598 324.5h4M1603 324.5h2M1625 324.5h3M1631 324.5h2M1636 324.5h2M1442 325.5h8M1456 325.5h6M1464 325.5h8M1476 325.5h2M1479 325.5h6M1487 325.5h3M1491 325.5h4M1498 325.5h5M1504 325.5h9M1514 325.5h22M1543 325.5h2M1547 325.5h2M1553 325.5h4M1560 325.5h2M1567 325.5h6M1576 325.5h2M1581 325.5h4M1586 325.5h4M1594 325.5h2M1598 325.5h4M1603 325.5h4M1625 325.5h3M1631 325.5h3M1636 325.5h2M1644 325.5h2M1427 326.5h2M1431 326.5h5M1442 326.5h2M1445 326.5h2M1448 326.5h2M1455 326.5h7M1464 326.5h2M1467 326.5h11M1484 326.5h2M1487 326.5h8M1498 326.5h5M1504 326.5h6M1511 326.5h2M1514 326.5h9M1524 326.5h4M1529 326.5h5M1537 326.5h2M1548 326.5h2M1553 326.5h6M1560 326.5h6M1567 326.5h6M1575 326.5h3M1579 326.5h6M1586 326.5h4M1592 326.5h4M1600 326.5h2M1604 326.5h4M1618 326.5h2M1631 326.5h3M1644 326.5h2M1427 327.5h2M1431 327.5h5M1439 327.5h8M1448 327.5h4M1455 327.5h4M1460 327.5h3M1464 327.5h2M1468 327.5h10M1479 327.5h3M1484 327.5h9M1494 327.5h2M1499 327.5h4M1504 327.5h4M1509 327.5h2M1513 327.5h15M1529 327.5h7M1537 327.5h2M1540 327.5h2M1543 327.5h7M1553 327.5h2M1557 327.5h2M1562 327.5h4M1569 327.5h2M1572 327.5h2M1575 327.5h9M1592 327.5h4M1600 327.5h8M1618 327.5h2M1631 327.5h2M1423 328.5h2M1439 328.5h13M1453 328.5h5M1460 328.5h3M1464 328.5h4M1470 328.5h2M1478 328.5h4M1486 328.5h2M1494 328.5h12M1507 328.5h15M1523 328.5h3M1531 328.5h11M1543 328.5h6M1553 328.5h2M1557 328.5h3M1561 328.5h3M1566 328.5h2M1572 328.5h2M1576 328.5h6M1586 328.5h2M1594 328.5h2M1601 328.5h3M1611 328.5h2M1625 328.5h2M1631 328.5h2M1423 329.5h2M1426 329.5h2M1440 329.5h2M1444 329.5h6M1452 329.5h5M1461 329.5h2M1464 329.5h4M1470 329.5h3M1478 329.5h7M1486 329.5h2M1493 329.5h29M1523 329.5h3M1528 329.5h3M1536 329.5h12M1553 329.5h2M1557 329.5h3M1561 329.5h3M1565 329.5h5M1573 329.5h2M1576 329.5h7M1585 329.5h3M1590 329.5h2M1593 329.5h2M1597 329.5h3M1601 329.5h2M1611 329.5h2M1618 329.5h4M1625 329.5h2M1631 329.5h2M1421 330.5h2M1426 330.5h2M1436 330.5h2M1440 330.5h3M1447 330.5h2M1451 330.5h3M1455 330.5h18M1474 330.5h2M1479 330.5h6M1486 330.5h2M1490 330.5h32M1523 330.5h3M1527 330.5h5M1535 330.5h2M1538 330.5h10M1549 330.5h2M1553 330.5h2M1559 330.5h2M1565 330.5h7M1573 330.5h4M1578 330.5h6M1585 330.5h3M1590 330.5h2M1593 330.5h7M1606 330.5h2M1611 330.5h2M1618 330.5h4M1625 330.5h2M1421 331.5h2M1436 331.5h2M1440 331.5h3M1447 331.5h7M1455 331.5h16M1474 331.5h3M1478 331.5h3M1483 331.5h2M1486 331.5h11M1498 331.5h28M1527 331.5h6M1535 331.5h2M1538 331.5h13M1553 331.5h3M1559 331.5h4M1566 331.5h14M1581 331.5h7M1593 331.5h4M1606 331.5h2M1610 331.5h3M1614 331.5h2M1627 331.5h2M1630 331.5h2M1434 332.5h4M1441 332.5h2M1449 332.5h4M1455 332.5h12M1468 332.5h3M1475 332.5h6M1482 332.5h3M1486 332.5h11M1499 332.5h25M1527 332.5h6M1534 332.5h2M1539 332.5h7M1547 332.5h10M1559 332.5h9M1569 332.5h5M1575 332.5h4M1581 332.5h8M1610 332.5h2M1614 332.5h2M1627 332.5h2M1630 332.5h2M1434 333.5h2M1438 333.5h8M1449 333.5h3M1456 333.5h14M1472 333.5h7M1481 333.5h3M1485 333.5h12M1498 333.5h25M1525 333.5h32M1559 333.5h9M1570 333.5h3M1576 333.5h14M1607 333.5h2M1610 333.5h2M1621 333.5h2M1419 334.5h2M1436 334.5h16M1453 334.5h17M1471 334.5h9M1481 334.5h2M1485 334.5h2M1489 334.5h16M1509 334.5h3M1513 334.5h10M1525 334.5h9M1535 334.5h10M1546 334.5h2M1552 334.5h2M1561 334.5h4M1566 334.5h2M1576 334.5h6M1584 334.5h2M1588 334.5h2M1591 334.5h2M1598 334.5h2M1607 334.5h2M1610 334.5h2M1615 334.5h4M1621 334.5h2M1624 334.5h2M1419 335.5h2M1436 335.5h2M1439 335.5h4M1445 335.5h7M1453 335.5h9M1464 335.5h5M1470 335.5h7M1478 335.5h5M1484 335.5h3M1490 335.5h9M1501 335.5h4M1509 335.5h2M1513 335.5h18M1532 335.5h7M1540 335.5h3M1544 335.5h2M1559 335.5h6M1574 335.5h2M1584 335.5h2M1588 335.5h7M1598 335.5h4M1605 335.5h2M1615 335.5h4M1624 335.5h2M1440 336.5h3M1444 336.5h3M1448 336.5h2M1452 336.5h9M1464 336.5h2M1470 336.5h4M1479 336.5h4M1484 336.5h2M1487 336.5h2M1490 336.5h2M1493 336.5h3M1507 336.5h2M1513 336.5h18M1532 336.5h5M1540 336.5h6M1552 336.5h2M1555 336.5h3M1559 336.5h2M1562 336.5h2M1565 336.5h2M1574 336.5h2M1582 336.5h4M1588 336.5h3M1592 336.5h4M1599 336.5h3M1603 336.5h6M1610 336.5h2M1621 336.5h2M1625 336.5h2M1440 337.5h2M1444 337.5h2M1448 337.5h2M1451 337.5h6M1458 337.5h3M1479 337.5h4M1487 337.5h2M1493 337.5h2M1507 337.5h2M1513 337.5h2M1518 337.5h7M1526 337.5h10M1540 337.5h4M1552 337.5h6M1559 337.5h2M1562 337.5h2M1565 337.5h2M1568 337.5h2M1574 337.5h2M1582 337.5h4M1588 337.5h3M1592 337.5h4M1603 337.5h6M1610 337.5h2M1613 337.5h2M1620 337.5h3M1624 337.5h5M1422 338.5h2M1434 338.5h2M1440 338.5h4M1448 338.5h2M1451 338.5h6M1458 338.5h2M1513 338.5h2M1517 338.5h8M1527 338.5h9M1546 338.5h2M1552 338.5h5M1559 338.5h4M1565 338.5h9M1577 338.5h4M1585 338.5h2M1588 338.5h3M1594 338.5h2M1597 338.5h2M1607 338.5h2M1613 338.5h2M1620 338.5h2M1624 338.5h2M1627 338.5h2M1422 339.5h2M1429 339.5h4M1434 339.5h2M1442 339.5h4M1447 339.5h7M1455 339.5h2M1517 339.5h3M1521 339.5h12M1543 339.5h2M1546 339.5h2M1552 339.5h5M1559 339.5h4M1565 339.5h3M1570 339.5h4M1575 339.5h6M1582 339.5h2M1585 339.5h2M1588 339.5h2M1596 339.5h3M1600 339.5h2M1607 339.5h2M1405 340.5h2M1429 340.5h4M1439 340.5h7M1447 340.5h6M1518 340.5h3M1522 340.5h8M1531 340.5h2M1538 340.5h2M1542 340.5h3M1546 340.5h2M1552 340.5h6M1559 340.5h7M1575 340.5h5M1582 340.5h5M1588 340.5h3M1592 340.5h2M1596 340.5h2M1600 340.5h2M1618 340.5h2M1622 340.5h2M1628 340.5h2M1631 340.5h2M1405 341.5h2M1430 341.5h2M1434 341.5h2M1439 341.5h7M1449 341.5h4M1518 341.5h12M1531 341.5h4M1538 341.5h8M1552 341.5h6M1559 341.5h9M1576 341.5h2M1579 341.5h8M1589 341.5h7M1615 341.5h2M1618 341.5h2M1622 341.5h2M1628 341.5h2M1631 341.5h2M1424 342.5h2M1430 342.5h2M1433 342.5h4M1440 342.5h2M1444 342.5h7M1520 342.5h22M1543 342.5h8M1552 342.5h4M1560 342.5h2M1565 342.5h3M1575 342.5h3M1579 342.5h7M1590 342.5h3M1594 342.5h3M1600 342.5h3M1605 342.5h2M1609 342.5h2M1612 342.5h2M1615 342.5h2M1618 342.5h2M1630 342.5h2M1423 343.5h3M1430 343.5h2M1433 343.5h4M1443 343.5h2M1446 343.5h5M1520 343.5h2M1523 343.5h17M1542 343.5h3M1546 343.5h9M1565 343.5h4M1570 343.5h7M1581 343.5h5M1587 343.5h2M1590 343.5h3M1595 343.5h4M1600 343.5h7M1609 343.5h2M1612 343.5h2M1618 343.5h2M1630 343.5h2M1409 344.5h2M1423 344.5h2M1428 344.5h2M1433 344.5h2M1436 344.5h9M1447 344.5h4M1516 344.5h3M1520 344.5h8M1529 344.5h6M1539 344.5h5M1547 344.5h2M1550 344.5h4M1555 344.5h2M1565 344.5h4M1570 344.5h8M1579 344.5h7M1587 344.5h2M1594 344.5h5M1602 344.5h3M1608 344.5h2M1615 344.5h5M1409 345.5h2M1417 345.5h2M1420 345.5h2M1428 345.5h2M1433 345.5h2M1436 345.5h7M1444 345.5h6M1516 345.5h3M1520 345.5h9M1530 345.5h7M1539 345.5h3M1547 345.5h2M1550 345.5h3M1555 345.5h2M1559 345.5h2M1565 345.5h7M1573 345.5h2M1576 345.5h2M1579 345.5h3M1584 345.5h2M1588 345.5h2M1594 345.5h3M1598 345.5h2M1602 345.5h3M1608 345.5h2M1613 345.5h7M1624 345.5h2M1630 345.5h2M1415 346.5h4M1420 346.5h4M1428 346.5h4M1433 346.5h2M1436 346.5h3M1443 346.5h7M1510 346.5h2M1520 346.5h11M1532 346.5h5M1539 346.5h2M1543 346.5h2M1548 346.5h4M1559 346.5h5M1567 346.5h9M1578 346.5h2M1584 346.5h3M1588 346.5h2M1594 346.5h3M1598 346.5h2M1608 346.5h2M1613 346.5h2M1618 346.5h2M1624 346.5h2M1630 346.5h2M1413 347.5h5M1422 347.5h2M1429 347.5h3M1436 347.5h10M1510 347.5h2M1521 347.5h3M1526 347.5h6M1533 347.5h4M1539 347.5h2M1543 347.5h2M1548 347.5h4M1560 347.5h6M1567 347.5h9M1578 347.5h2M1584 347.5h3M1588 347.5h3M1602 347.5h2M1608 347.5h2M1631 347.5h2M1413 348.5h2M1425 348.5h4M1431 348.5h2M1436 348.5h9M1519 348.5h18M1541 348.5h6M1549 348.5h3M1557 348.5h2M1562 348.5h4M1567 348.5h3M1573 348.5h2M1578 348.5h8M1587 348.5h5M1601 348.5h4M1623 348.5h2M1631 348.5h2M1409 349.5h2M1419 349.5h2M1425 349.5h4M1431 349.5h2M1434 349.5h12M1514 349.5h2M1519 349.5h4M1524 349.5h10M1535 349.5h2M1538 349.5h2M1541 349.5h8M1550 349.5h2M1557 349.5h9M1567 349.5h2M1573 349.5h2M1577 349.5h9M1587 349.5h5M1593 349.5h3M1597 349.5h2M1601 349.5h4M1612 349.5h2M1622 349.5h3M1409 350.5h2M1419 350.5h2M1432 350.5h11M1444 350.5h4M1512 350.5h4M1521 350.5h7M1529 350.5h5M1536 350.5h4M1543 350.5h6M1550 350.5h2M1559 350.5h4M1567 350.5h2M1572 350.5h2M1577 350.5h2M1580 350.5h2M1584 350.5h2M1588 350.5h3M1593 350.5h3M1597 350.5h2M1601 350.5h2M1612 350.5h2M1622 350.5h2M1631 350.5h2M1421 351.5h2M1431 351.5h4M1438 351.5h2M1441 351.5h2M1445 351.5h3M1512 351.5h2M1518 351.5h12M1535 351.5h5M1545 351.5h2M1560 351.5h3M1565 351.5h2M1572 351.5h4M1580 351.5h3M1584 351.5h2M1587 351.5h3M1598 351.5h4M1617 351.5h2M1621 351.5h2M1631 351.5h2M1421 352.5h2M1431 352.5h4M1437 352.5h2M1441 352.5h7M1515 352.5h24M1542 352.5h2M1548 352.5h4M1556 352.5h2M1559 352.5h11M1572 352.5h6M1581 352.5h2M1587 352.5h3M1598 352.5h4M1606 352.5h6M1614 352.5h2M1617 352.5h2M1621 352.5h2M1433 353.5h6M1440 353.5h5M1446 353.5h3M1512 353.5h25M1540 353.5h4M1548 353.5h6M1556 353.5h18M1576 353.5h2M1579 353.5h2M1588 353.5h2M1598 353.5h2M1606 353.5h10M1422 354.5h3M1434 354.5h10M1446 354.5h3M1511 354.5h15M1527 354.5h7M1539 354.5h3M1547 354.5h2M1552 354.5h2M1558 354.5h2M1562 354.5h5M1569 354.5h6M1579 354.5h2M1582 354.5h2M1589 354.5h4M1598 354.5h2M1609 354.5h2M1612 354.5h3M1618 354.5h2M1411 355.5h2M1422 355.5h3M1429 355.5h2M1438 355.5h2M1446 355.5h2M1509 355.5h12M1522 355.5h4M1527 355.5h7M1537 355.5h4M1546 355.5h4M1557 355.5h3M1562 355.5h2M1565 355.5h2M1569 355.5h2M1573 355.5h2M1577 355.5h2M1582 355.5h2M1589 355.5h4M1598 355.5h2M1605 355.5h2M1608 355.5h3M1613 355.5h2M1618 355.5h2M1411 356.5h2M1429 356.5h2M1436 356.5h2M1439 356.5h4M1446 356.5h2M1509 356.5h5M1515 356.5h5M1522 356.5h4M1528 356.5h2M1531 356.5h3M1537 356.5h3M1541 356.5h2M1546 356.5h4M1557 356.5h4M1562 356.5h2M1577 356.5h2M1582 356.5h4M1588 356.5h2M1594 356.5h2M1605 356.5h2M1608 356.5h4M1629 356.5h2M1431 357.5h2M1436 357.5h7M1446 357.5h2M1504 357.5h3M1509 357.5h2M1512 357.5h3M1517 357.5h5M1524 357.5h2M1528 357.5h2M1531 357.5h3M1538 357.5h2M1541 357.5h4M1559 357.5h2M1568 357.5h2M1578 357.5h2M1584 357.5h2M1588 357.5h2M1594 357.5h2M1610 357.5h2M1629 357.5h2M1431 358.5h3M1435 358.5h15M1503 358.5h12M1517 358.5h5M1523 358.5h2M1526 358.5h9M1537 358.5h2M1543 358.5h2M1552 358.5h2M1566 358.5h4M1571 358.5h2M1578 358.5h4M1597 358.5h2M1602 358.5h2M1620 358.5h2M1624 358.5h2M1628 358.5h2M1431 359.5h3M1435 359.5h6M1443 359.5h3M1448 359.5h2M1502 359.5h19M1523 359.5h2M1526 359.5h5M1533 359.5h2M1537 359.5h2M1541 359.5h2M1546 359.5h2M1552 359.5h2M1558 359.5h2M1563 359.5h2M1566 359.5h4M1571 359.5h2M1574 359.5h2M1578 359.5h4M1584 359.5h4M1592 359.5h2M1597 359.5h4M1602 359.5h4M1619 359.5h3M1624 359.5h2M1628 359.5h2M1436 360.5h2M1442 360.5h4M1449 360.5h2M1501 360.5h5M1508 360.5h14M1523 360.5h2M1526 360.5h3M1533 360.5h2M1538 360.5h2M1541 360.5h2M1544 360.5h6M1551 360.5h2M1557 360.5h3M1563 360.5h2M1566 360.5h2M1570 360.5h2M1574 360.5h2M1578 360.5h3M1584 360.5h6M1592 360.5h2M1599 360.5h2M1604 360.5h2M1613 360.5h2M1619 360.5h2M1424 361.5h2M1433 361.5h2M1436 361.5h2M1441 361.5h10M1499 361.5h7M1508 361.5h5M1514 361.5h11M1526 361.5h2M1533 361.5h2M1538 361.5h2M1544 361.5h6M1551 361.5h2M1557 361.5h5M1570 361.5h6M1581 361.5h2M1584 361.5h6M1592 361.5h2M1599 361.5h3M1608 361.5h3M1613 361.5h2M1420 362.5h2M1424 362.5h2M1433 362.5h2M1440 362.5h13M1496 362.5h17M1514 362.5h6M1521 362.5h3M1536 362.5h2M1547 362.5h3M1558 362.5h4M1572 362.5h4M1581 362.5h2M1586 362.5h2M1591 362.5h2M1600 362.5h2M1608 362.5h3M1614 362.5h2M1420 363.5h2M1434 363.5h2M1438 363.5h15M1496 363.5h5M1502 363.5h11M1522 363.5h2M1525 363.5h2M1534 363.5h4M1548 363.5h2M1575 363.5h2M1591 363.5h4M1599 363.5h2M1604 363.5h2M1610 363.5h2M1614 363.5h3M1624 363.5h2M1629 363.5h2M1434 364.5h2M1438 364.5h4M1444 364.5h11M1497 364.5h5M1504 364.5h2M1507 364.5h5M1525 364.5h2M1529 364.5h2M1534 364.5h4M1545 364.5h2M1566 364.5h2M1575 364.5h2M1579 364.5h2M1583 364.5h2M1586 364.5h2M1592 364.5h6M1599 364.5h2M1604 364.5h2M1609 364.5h3M1615 364.5h2M1624 364.5h2M1629 364.5h2M1435 365.5h14M1450 365.5h5M1493 365.5h6M1500 365.5h2M1504 365.5h7M1514 365.5h2M1522 365.5h4M1529 365.5h2M1545 365.5h2M1560 365.5h3M1566 365.5h2M1579 365.5h2M1583 365.5h5M1595 365.5h3M1609 365.5h3M1621 365.5h2M1434 366.5h11M1446 366.5h2M1451 366.5h5M1490 366.5h9M1500 366.5h11M1514 366.5h2M1522 366.5h6M1551 366.5h2M1560 366.5h3M1566 366.5h2M1570 366.5h2M1573 366.5h2M1577 366.5h2M1582 366.5h4M1587 366.5h3M1595 366.5h2M1599 366.5h3M1610 366.5h2M1617 366.5h2M1621 366.5h2M1646 366.5h2M1434 367.5h3M1439 367.5h4M1446 367.5h6M1454 367.5h2M1490 367.5h3M1496 367.5h9M1507 367.5h5M1514 367.5h2M1518 367.5h2M1526 367.5h2M1551 367.5h2M1554 367.5h2M1560 367.5h5M1566 367.5h2M1570 367.5h2M1573 367.5h6M1582 367.5h2M1587 367.5h3M1593 367.5h2M1599 367.5h3M1608 367.5h2M1611 367.5h2M1617 367.5h2M1630 367.5h2M1646 367.5h2M1438 368.5h4M1446 368.5h10M1491 368.5h11M1503 368.5h3M1507 368.5h5M1514 368.5h2M1518 368.5h2M1522 368.5h2M1527 368.5h2M1554 368.5h2M1561 368.5h5M1574 368.5h4M1580 368.5h2M1584 368.5h2M1587 368.5h2M1592 368.5h3M1599 368.5h3M1608 368.5h2M1611 368.5h2M1630 368.5h2M1433 369.5h2M1438 369.5h4M1445 369.5h4M1450 369.5h5M1487 369.5h12M1500 369.5h6M1507 369.5h2M1514 369.5h2M1522 369.5h2M1527 369.5h2M1532 369.5h2M1536 369.5h2M1552 369.5h2M1562 369.5h4M1578 369.5h4M1583 369.5h5M1592 369.5h3M1605 369.5h2M1611 369.5h2M1630 369.5h2M1420 370.5h2M1431 370.5h4M1439 370.5h2M1445 370.5h2M1449 370.5h3M1454 370.5h6M1483 370.5h11M1497 370.5h2M1501 370.5h5M1507 370.5h2M1516 370.5h2M1532 370.5h2M1536 370.5h2M1548 370.5h2M1552 370.5h2M1562 370.5h4M1568 370.5h2M1578 370.5h3M1582 370.5h6M1591 370.5h2M1605 370.5h2M1610 370.5h2M1620 370.5h2M1643 370.5h2M1414 371.5h2M1420 371.5h2M1431 371.5h2M1445 371.5h2M1449 371.5h3M1454 371.5h6M1483 371.5h9M1494 371.5h2M1497 371.5h2M1500 371.5h3M1507 371.5h2M1516 371.5h2M1529 371.5h2M1548 371.5h2M1556 371.5h2M1561 371.5h5M1568 371.5h2M1575 371.5h2M1582 371.5h4M1591 371.5h2M1597 371.5h2M1610 371.5h3M1620 371.5h2M1631 371.5h2M1643 371.5h2M1414 372.5h2M1427 372.5h2M1435 372.5h4M1447 372.5h13M1462 372.5h3M1482 372.5h2M1485 372.5h5M1492 372.5h4M1500 372.5h2M1503 372.5h2M1529 372.5h2M1546 372.5h2M1556 372.5h2M1561 372.5h2M1572 372.5h2M1575 372.5h2M1593 372.5h6M1611 372.5h2M1631 372.5h2M1425 373.5h4M1435 373.5h5M1445 373.5h14M1462 373.5h3M1482 373.5h7M1492 373.5h4M1497 373.5h2M1503 373.5h3M1515 373.5h2M1521 373.5h2M1524 373.5h2M1531 373.5h2M1540 373.5h2M1546 373.5h4M1556 373.5h5M1563 373.5h2M1569 373.5h2M1572 373.5h2M1583 373.5h2M1592 373.5h5M1598 373.5h3M1624 373.5h2M1425 374.5h2M1437 374.5h3M1445 374.5h2M1448 374.5h11M1463 374.5h4M1472 374.5h4M1477 374.5h5M1483 374.5h7M1497 374.5h2M1503 374.5h3M1515 374.5h2M1521 374.5h2M1524 374.5h2M1531 374.5h2M1540 374.5h2M1548 374.5h5M1556 374.5h5M1563 374.5h4M1569 374.5h2M1573 374.5h2M1583 374.5h2M1591 374.5h3M1595 374.5h2M1598 374.5h3M1616 374.5h2M1624 374.5h2M1432 375.5h2M1437 375.5h2M1441 375.5h2M1446 375.5h2M1450 375.5h2M1455 375.5h6M1464 375.5h3M1469 375.5h13M1484 375.5h8M1512 375.5h2M1550 375.5h3M1565 375.5h2M1568 375.5h2M1572 375.5h5M1579 375.5h2M1588 375.5h2M1591 375.5h3M1595 375.5h2M1610 375.5h2M1616 375.5h2M1619 375.5h2M1431 376.5h3M1441 376.5h3M1446 376.5h2M1450 376.5h2M1453 376.5h8M1464 376.5h13M1478 376.5h5M1484 376.5h10M1499 376.5h2M1505 376.5h3M1512 376.5h3M1516 376.5h2M1552 376.5h2M1566 376.5h4M1572 376.5h5M1579 376.5h2M1585 376.5h5M1591 376.5h2M1610 376.5h5M1619 376.5h2M1431 377.5h2M1442 377.5h2M1450 377.5h2M1453 377.5h7M1461 377.5h2M1466 377.5h7M1475 377.5h2M1479 377.5h7M1487 377.5h7M1496 377.5h5M1505 377.5h3M1510 377.5h2M1513 377.5h2M1516 377.5h2M1547 377.5h2M1551 377.5h3M1555 377.5h2M1566 377.5h2M1585 377.5h4M1594 377.5h2M1597 377.5h2M1602 377.5h3M1611 377.5h4M1622 377.5h2M1411 378.5h2M1427 378.5h2M1436 378.5h2M1450 378.5h8M1460 378.5h3M1464 378.5h7M1472 378.5h5M1480 378.5h9M1490 378.5h3M1495 378.5h5M1507 378.5h2M1510 378.5h2M1546 378.5h3M1551 378.5h2M1555 378.5h2M1573 378.5h2M1577 378.5h2M1587 378.5h2M1594 378.5h2M1597 378.5h2M1602 378.5h3M1611 378.5h4M1622 378.5h2M1625 378.5h2M1630 378.5h2M1411 379.5h2M1427 379.5h4M1436 379.5h2M1446 379.5h17M1464 379.5h13M1480 379.5h3M1484 379.5h3M1490 379.5h10M1504 379.5h5M1536 379.5h2M1546 379.5h2M1571 379.5h5M1577 379.5h2M1582 379.5h2M1587 379.5h2M1594 379.5h2M1603 379.5h2M1613 379.5h2M1621 379.5h3M1625 379.5h2M1630 379.5h2M1429 380.5h2M1446 380.5h6M1453 380.5h7M1461 380.5h5M1467 380.5h2M1470 380.5h7M1479 380.5h9M1490 380.5h5M1497 380.5h2M1504 380.5h4M1526 380.5h2M1536 380.5h2M1549 380.5h2M1565 380.5h2M1570 380.5h6M1578 380.5h2M1582 380.5h3M1587 380.5h2M1593 380.5h3M1603 380.5h4M1621 380.5h3M1443 381.5h2M1450 381.5h2M1453 381.5h4M1462 381.5h4M1467 381.5h4M1472 381.5h5M1479 381.5h9M1490 381.5h7M1506 381.5h2M1526 381.5h2M1549 381.5h2M1565 381.5h2M1570 381.5h2M1578 381.5h2M1583 381.5h2M1593 381.5h2M1602 381.5h5M1629 381.5h2M1632 381.5h2M1432 382.5h2M1443 382.5h2M1447 382.5h4M1453 382.5h2M1459 382.5h2M1464 382.5h2M1467 382.5h5M1473 382.5h4M1479 382.5h4M1485 382.5h2M1490 382.5h4M1495 382.5h3M1510 382.5h2M1514 382.5h2M1546 382.5h2M1553 382.5h2M1579 382.5h2M1585 382.5h2M1590 382.5h2M1602 382.5h2M1621 382.5h2M1627 382.5h4M1632 382.5h2M1432 383.5h2M1435 383.5h2M1447 383.5h5M1459 383.5h4M1464 383.5h2M1467 383.5h5M1473 383.5h5M1481 383.5h2M1487 383.5h2M1491 383.5h2M1496 383.5h2M1510 383.5h2M1514 383.5h2M1546 383.5h2M1549 383.5h2M1553 383.5h2M1562 383.5h2M1579 383.5h2M1585 383.5h2M1589 383.5h3M1593 383.5h4M1601 383.5h2M1621 383.5h2M1627 383.5h2M1435 384.5h2M1450 384.5h2M1453 384.5h2M1460 384.5h3M1464 384.5h2M1467 384.5h5M1476 384.5h2M1487 384.5h2M1491 384.5h2M1549 384.5h2M1562 384.5h4M1571 384.5h2M1579 384.5h2M1583 384.5h2M1589 384.5h2M1593 384.5h4M1601 384.5h2M1617 384.5h2M1628 384.5h2M1631 384.5h2M1435 385.5h2M1439 385.5h2M1453 385.5h2M1459 385.5h2M1462 385.5h3M1467 385.5h5M1474 385.5h2M1480 385.5h5M1489 385.5h2M1493 385.5h2M1553 385.5h2M1556 385.5h2M1559 385.5h2M1564 385.5h2M1571 385.5h2M1577 385.5h2M1583 385.5h2M1594 385.5h2M1598 385.5h2M1615 385.5h4M1620 385.5h2M1628 385.5h2M1631 385.5h2M1439 386.5h2M1447 386.5h2M1459 386.5h2M1462 386.5h3M1467 386.5h2M1470 386.5h2M1474 386.5h2M1477 386.5h2M1480 386.5h5M1487 386.5h4M1493 386.5h2M1497 386.5h2M1509 386.5h2M1526 386.5h2M1548 386.5h2M1553 386.5h2M1556 386.5h2M1559 386.5h2M1566 386.5h2M1577 386.5h2M1594 386.5h3M1598 386.5h2M1601 386.5h2M1615 386.5h2M1620 386.5h6M1628 386.5h3M1447 387.5h2M1454 387.5h2M1460 387.5h2M1463 387.5h2M1467 387.5h4M1472 387.5h2M1476 387.5h3M1486 387.5h3M1493 387.5h2M1497 387.5h2M1509 387.5h2M1526 387.5h2M1548 387.5h2M1554 387.5h2M1566 387.5h2M1578 387.5h2M1589 387.5h2M1595 387.5h2M1601 387.5h3M1615 387.5h2M1622 387.5h4M1628 387.5h3M1452 388.5h6M1460 388.5h2M1463 388.5h2M1467 388.5h12M1482 388.5h2M1486 388.5h2M1496 388.5h2M1514 388.5h2M1554 388.5h2M1566 388.5h5M1578 388.5h2M1588 388.5h3M1595 388.5h2M1602 388.5h2M1452 389.5h2M1456 389.5h2M1467 389.5h12M1481 389.5h3M1496 389.5h2M1500 389.5h2M1514 389.5h2M1555 389.5h2M1566 389.5h5M1581 389.5h2M1588 389.5h2M1595 389.5h2M1423 390.5h2M1452 390.5h2M1458 390.5h2M1464 390.5h2M1468 390.5h2M1471 390.5h2M1478 390.5h2M1481 390.5h2M1500 390.5h2M1555 390.5h2M1565 390.5h2M1577 390.5h2M1581 390.5h2M1586 390.5h2M1423 391.5h2M1447 391.5h2M1453 391.5h2M1456 391.5h4M1462 391.5h4M1471 391.5h4M1478 391.5h2M1486 391.5h2M1491 391.5h2M1546 391.5h2M1559 391.5h2M1563 391.5h4M1569 391.5h2M1577 391.5h2M1585 391.5h3M1608 391.5h2M1446 392.5h3M1453 392.5h2M1456 392.5h2M1462 392.5h3M1473 392.5h2M1478 392.5h2M1484 392.5h4M1491 392.5h2M1531 392.5h2M1546 392.5h2M1559 392.5h2M1563 392.5h2M1566 392.5h5M1585 392.5h2M1588 392.5h2M1606 392.5h4M1611 392.5h2M1629 392.5h2M1446 393.5h2M1464 393.5h2M1468 393.5h2M1471 393.5h4M1484 393.5h3M1531 393.5h2M1566 393.5h3M1588 393.5h2M1606 393.5h2M1611 393.5h2M1629 393.5h2M1458 394.5h2M1464 394.5h6M1471 394.5h2M1476 394.5h2M1458 395.5h2M1463 395.5h2M1466 395.5h4M1474 395.5h4M1483 395.5h2M1594 395.5h2M1463 396.5h2M1468 396.5h2M1474 396.5h3M1483 396.5h2M1587 396.5h2M1594 396.5h2M1602 396.5h2M1475 397.5h2M1480 397.5h2M1587 397.5h2M1602 397.5h2M1443 398.5h2M1480 398.5h2M1491 398.5h2M1510 398.5h2M1550 398.5h2M1443 399.5h2M1491 399.5h2M1510 399.5h2M1550 399.5h2M1555 399.5h2M1434 400.5h2M1550 400.5h2M1555 400.5h2M1612 400.5h2M1434 401.5h2M1451 401.5h2M1589 401.5h2M1612 401.5h2M1451 402.5h2M1471 402.5h2M1481 402.5h2M1509 402.5h2M1589 402.5h2M1471 403.5h2M1477 403.5h2M1481 403.5h2M1509 403.5h2M1575 403.5h2M1582 403.5h2M1475 404.5h4M1575 404.5h2M1582 404.5h2M1444 405.5h2M1475 405.5h2M1480 405.5h2M1444 406.5h2M1468 406.5h2M1480 406.5h2M1468 407.5h2M1604 407.5h2M1604 408.5h2M1459 409.5h2M1459 410.5h2M1467 413.5h2M1467 414.5h2M1570 414.5h2M1476 415.5h2M1570 415.5h2M1599 415.5h2M1476 416.5h2M1599 416.5h2" stroke="#1e1e1e" stroke-width="1" fill="none"/>
<path d="M1391.0 394.2H1399.5M1391.0 378.1H1399.5M1391.0 366.8H1399.5M1391.0 357.9H1399.5M1391.0 350.7H1399.5M1391.0 344.6H1399.5M1391.0 339.3H1399.5M1391.0 334.7H1399.5M1384.5 330.5H1399.5M1391.0 303.1H1399.5M1391.0 287.0H1399.5M1391.0 275.7H1399.5M1391.0 266.8H1399.5M1391.0 259.6H1399.5M1391.0 253.5H1399.5M1391.0 248.2H1399.5M1391.0 243.6H1399.5M1384.5 239.4H1399.5M1391.0 212.0H1399.5M1391.0 195.9H1399.5M1391.0 184.6H1399.5M1391.0 175.7H1399.5M1391.0 168.5H1399.5M1391.0 162.4H1399.5M1391.0 157.1H1399.5M1391.0 152.5H1399.5M1384.5 148.3H1399.5M1391.0 120.9H1399.5M1391.0 104.8H1399.5M1391.0 93.5H1399.5M1391.0 84.6H1399.5M1391.0 77.4H1399.5M1391.0 71.3H1399.5M1391.0 66.0H1399.5M1391.0 61.4H1399.5M1384.5 56.4H1399.5M1427.2 419.4V425.9M1444.5 419.4V425.9M1456.7 419.4V425.9M1466.2 419.4V425.9M1473.9 419.4V425.9M1480.5 419.4V425.9M1486.1 419.4V425.9M1491.1 419.4V425.9M1495.6 419.4V430.4M1525.0 419.4V425.9M1542.3 419.4V425.9M1554.5 419.4V425.9M1564.0 419.4V425.9M1571.7 419.4V425.9M1578.3 419.4V425.9M1583.9 419.4V425.9M1588.9 419.4V425.9M1593.4 419.4V430.4M1622.8 419.4V425.9M1640.1 419.4V425.9M1652.3 419.4V425.9M1661.8 419.4V425.9M1669.5 419.4V425.9M1676.1 419.4V425.9M1681.7 419.4V425.9M1686.7 419.4V425.9M1691.2 419.4V430.4M1720.6 419.4V425.9M1737.9 419.4V425.9M1750.1 419.4V425.9M1759.6 419.4V425.9M1767.3 419.4V425.9M1773.9 419.4V425.9M1779.5 419.4V425.9M1784.5 419.4V425.9M1789.0 419.4V430.4" stroke="#333" stroke-width="2.6" fill="none"/>
<rect x="1399.5" y="56.4" width="389.5" height="363.0" fill="none" stroke="#3a3a3a" stroke-width="2.6"/>
<path d="M1541.8 56.4V419.4M1399.5 293.3H1789.0" stroke="#000" stroke-width="3.2"/>
<text x="1308.7" y="57.9" font-size="43" font-weight="bold">C</text>
<text x="1348.7" y="339.5" font-size="23.4">10<tspan font-size="13" dy="-7">0</tspan></text>
<text x="1348.7" y="248.4" font-size="23.4">10<tspan font-size="13" dy="-7">1</tspan></text>
<text x="1348.7" y="157.3" font-size="23.4">10<tspan font-size="13" dy="-7">2</tspan></text>
<text x="1348.7" y="66.2" font-size="23.4">10<tspan font-size="13" dy="-7">3</tspan></text>
<text x="1484.1" y="447.4" font-size="23.4">10<tspan font-size="13" dy="-7">0</tspan></text>
<text x="1581.9" y="447.4" font-size="23.4">10<tspan font-size="13" dy="-7">1</tspan></text>
<text x="1679.7" y="447.4" font-size="23.4">10<tspan font-size="13" dy="-7">2</tspan></text>
<text x="1759.7" y="447.4" font-size="23.4">10<tspan font-size="13" dy="-7">3</tspan></text>
<text x="1492.1" y="487.5" font-size="33.6" textLength="98.6" lengthAdjust="spacingAndGlyphs" class="h">Annexin</text>
<text x="1597.9" y="487.5" font-size="33.6" textLength="103.2" lengthAdjust="spacingAndGlyphs" class="h">V-FITC</text>
<text transform="translate(1337.6,250.7) rotate(-90)" class="h" font-size="34" textLength="30.8" lengthAdjust="spacingAndGlyphs">PI</text>
<polygon points="445.7,816.0 455.0,804.0 471.0,798.7 489.7,797.3 505.7,804.0 513.7,816.0 511.0,825.3 495.0,837.3 477.7,844.0 459.0,845.3 447.0,840.0 441.7,829.3" fill="#1c1c1c" stroke="#1c1c1c" stroke-width="4" stroke-linejoin="round"/><path d="M646 656.5h2M646 657.5h2M594 658.5h2M594 659.5h2M640 661.5h2M640 662.5h2M567 665.5h2M567 666.5h2M653 667.5h2M653 668.5h2M642 669.5h2M642 670.5h2M639 671.5h2M639 672.5h2M695 676.5h2M695 677.5h2M646 683.5h2M695 683.5h2M646 684.5h2M695 684.5h2M586 686.5h2M586 687.5h2M594 689.5h2M599 689.5h2M606 689.5h2M594 690.5h2M599 690.5h2M606 690.5h2M488 692.5h2M561 692.5h2M488 693.5h2M561 693.5h4M620 693.5h2M563 694.5h2M578 694.5h2M585 694.5h2M620 694.5h2M660 694.5h2M578 695.5h2M585 695.5h2M593 695.5h2M608 695.5h2M619 695.5h2M660 695.5h2M558 696.5h2M579 696.5h2M593 696.5h2M608 696.5h2M619 696.5h2M558 697.5h2M579 697.5h2M590 698.5h2M575 699.5h2M590 699.5h2M624 699.5h2M575 700.5h2M611 700.5h2M624 700.5h2M611 701.5h2M615 701.5h2M714 701.5h2M600 702.5h2M615 702.5h2M619 702.5h2M632 702.5h2M714 702.5h2M600 703.5h2M619 703.5h2M632 703.5h2M614 704.5h2M614 705.5h2M636 705.5h2M649 705.5h2M587 706.5h2M612 706.5h2M617 706.5h2M636 706.5h2M649 706.5h2M669 706.5h2M676 706.5h2M587 707.5h4M612 707.5h2M617 707.5h2M669 707.5h2M676 707.5h2M579 708.5h2M589 708.5h2M609 708.5h2M574 709.5h2M579 709.5h2M592 709.5h2M609 709.5h2M663 709.5h2M574 710.5h2M582 710.5h2M592 710.5h2M609 710.5h2M618 710.5h2M663 710.5h2M577 711.5h2M581 711.5h3M589 711.5h2M593 711.5h2M618 711.5h2M645 711.5h2M648 711.5h2M476 712.5h2M577 712.5h2M581 712.5h2M589 712.5h2M593 712.5h2M611 712.5h2M645 712.5h2M648 712.5h2M476 713.5h2M610 713.5h3M618 713.5h2M640 713.5h2M644 713.5h2M651 713.5h2M415 714.5h2M555 714.5h2M561 714.5h2M599 714.5h2M604 714.5h2M610 714.5h2M618 714.5h2M621 714.5h2M638 714.5h4M644 714.5h2M651 714.5h2M656 714.5h2M415 715.5h2M555 715.5h2M561 715.5h2M574 715.5h2M591 715.5h2M599 715.5h3M603 715.5h5M614 715.5h2M621 715.5h2M630 715.5h2M638 715.5h2M656 715.5h2M565 716.5h4M574 716.5h2M590 716.5h3M600 716.5h2M603 716.5h2M606 716.5h3M614 716.5h2M628 716.5h4M642 716.5h2M650 716.5h2M465 717.5h2M505 717.5h2M565 717.5h4M576 717.5h2M587 717.5h2M590 717.5h2M607 717.5h2M628 717.5h2M639 717.5h2M642 717.5h2M649 717.5h3M465 718.5h2M505 718.5h2M576 718.5h2M587 718.5h2M590 718.5h2M599 718.5h4M624 718.5h2M630 718.5h2M639 718.5h2M643 718.5h2M649 718.5h2M655 718.5h2M489 719.5h2M562 719.5h2M570 719.5h2M599 719.5h4M613 719.5h2M624 719.5h2M630 719.5h2M643 719.5h2M655 719.5h2M489 720.5h2M502 720.5h2M552 720.5h2M562 720.5h2M568 720.5h4M573 720.5h2M587 720.5h2M600 720.5h3M606 720.5h2M613 720.5h2M646 720.5h2M685 720.5h2M491 721.5h2M502 721.5h2M552 721.5h2M559 721.5h2M568 721.5h7M577 721.5h2M587 721.5h2M593 721.5h2M601 721.5h2M606 721.5h2M610 721.5h3M623 721.5h2M626 721.5h2M636 721.5h2M640 721.5h2M646 721.5h2M685 721.5h2M451 722.5h2M458 722.5h2M491 722.5h2M554 722.5h2M559 722.5h2M566 722.5h2M571 722.5h2M577 722.5h2M588 722.5h2M593 722.5h11M609 722.5h4M615 722.5h2M620 722.5h2M623 722.5h2M626 722.5h2M629 722.5h2M636 722.5h3M640 722.5h2M652 722.5h2M657 722.5h2M661 722.5h2M451 723.5h2M458 723.5h2M554 723.5h2M559 723.5h2M566 723.5h2M575 723.5h2M582 723.5h2M588 723.5h2M591 723.5h2M594 723.5h11M609 723.5h2M615 723.5h7M629 723.5h2M633 723.5h6M649 723.5h2M652 723.5h2M657 723.5h2M661 723.5h2M539 724.5h2M559 724.5h2M568 724.5h2M575 724.5h2M582 724.5h2M591 724.5h2M597 724.5h3M603 724.5h3M610 724.5h4M616 724.5h5M623 724.5h2M630 724.5h2M633 724.5h3M641 724.5h7M649 724.5h2M429 725.5h2M539 725.5h2M568 725.5h2M572 725.5h2M595 725.5h5M601 725.5h2M604 725.5h5M610 725.5h4M616 725.5h2M623 725.5h2M630 725.5h3M634 725.5h2M640 725.5h8M679 725.5h2M423 726.5h2M429 726.5h2M468 726.5h2M493 726.5h2M510 726.5h2M570 726.5h4M575 726.5h2M582 726.5h2M587 726.5h2M594 726.5h3M601 726.5h2M606 726.5h6M615 726.5h3M619 726.5h2M623 726.5h2M631 726.5h2M640 726.5h2M643 726.5h2M648 726.5h2M679 726.5h2M423 727.5h2M468 727.5h2M493 727.5h2M510 727.5h2M568 727.5h6M575 727.5h2M579 727.5h2M582 727.5h2M587 727.5h5M594 727.5h5M601 727.5h3M607 727.5h4M615 727.5h3M619 727.5h2M625 727.5h2M631 727.5h2M635 727.5h2M643 727.5h2M646 727.5h4M652 727.5h2M468 728.5h2M481 728.5h2M551 728.5h4M562 728.5h2M568 728.5h2M572 728.5h3M579 728.5h5M588 728.5h6M596 728.5h3M601 728.5h3M605 728.5h2M609 728.5h2M615 728.5h3M624 728.5h3M631 728.5h2M635 728.5h2M646 728.5h2M652 728.5h3M468 729.5h2M476 729.5h2M481 729.5h2M532 729.5h2M544 729.5h2M551 729.5h4M562 729.5h2M573 729.5h2M581 729.5h3M587 729.5h2M590 729.5h4M596 729.5h2M599 729.5h5M605 729.5h2M609 729.5h2M615 729.5h4M624 729.5h2M631 729.5h2M634 729.5h3M638 729.5h2M641 729.5h3M649 729.5h6M453 730.5h2M476 730.5h3M493 730.5h2M507 730.5h2M511 730.5h2M532 730.5h2M544 730.5h2M549 730.5h2M572 730.5h2M575 730.5h2M578 730.5h2M582 730.5h3M587 730.5h9M599 730.5h5M608 730.5h2M615 730.5h4M622 730.5h6M630 730.5h3M634 730.5h6M641 730.5h3M646 730.5h2M649 730.5h4M658 730.5h2M671 730.5h2M685 730.5h2M453 731.5h2M465 731.5h2M477 731.5h2M483 731.5h2M493 731.5h2M507 731.5h2M511 731.5h2M532 731.5h2M548 731.5h3M564 731.5h2M572 731.5h2M575 731.5h2M578 731.5h3M582 731.5h3M587 731.5h5M594 731.5h2M600 731.5h11M614 731.5h11M626 731.5h2M630 731.5h5M637 731.5h2M646 731.5h3M658 731.5h2M671 731.5h2M685 731.5h2M455 732.5h2M465 732.5h2M477 732.5h2M483 732.5h2M524 732.5h2M532 732.5h2M546 732.5h5M558 732.5h2M561 732.5h2M564 732.5h2M568 732.5h2M576 732.5h5M582 732.5h2M585 732.5h4M594 732.5h2M600 732.5h16M617 732.5h10M631 732.5h4M636 732.5h2M641 732.5h2M647 732.5h2M421 733.5h2M455 733.5h2M463 733.5h2M477 733.5h2M491 733.5h2M501 733.5h2M524 733.5h2M533 733.5h2M538 733.5h2M546 733.5h2M558 733.5h2M561 733.5h2M564 733.5h2M568 733.5h2M574 733.5h5M582 733.5h2M585 733.5h8M594 733.5h2M598 733.5h2M601 733.5h4M611 733.5h5M617 733.5h3M621 733.5h6M629 733.5h5M636 733.5h2M639 733.5h4M421 734.5h2M463 734.5h2M491 734.5h2M501 734.5h2M507 734.5h2M533 734.5h2M538 734.5h2M545 734.5h2M559 734.5h2M563 734.5h5M570 734.5h2M574 734.5h5M581 734.5h4M586 734.5h2M589 734.5h4M595 734.5h11M608 734.5h5M614 734.5h6M622 734.5h5M628 734.5h7M638 734.5h3M656 734.5h2M453 735.5h2M507 735.5h2M541 735.5h2M544 735.5h3M559 735.5h2M563 735.5h2M566 735.5h2M570 735.5h3M576 735.5h3M581 735.5h4M586 735.5h2M589 735.5h5M595 735.5h25M622 735.5h8M631 735.5h6M638 735.5h2M642 735.5h2M645 735.5h2M648 735.5h2M656 735.5h2M664 735.5h2M453 736.5h2M539 736.5h4M544 736.5h2M563 736.5h2M566 736.5h2M570 736.5h3M576 736.5h4M582 736.5h14M597 736.5h2M600 736.5h19M620 736.5h9M631 736.5h10M642 736.5h2M645 736.5h2M648 736.5h2M656 736.5h2M664 736.5h2M453 737.5h2M456 737.5h2M465 737.5h2M486 737.5h2M509 737.5h2M539 737.5h2M559 737.5h2M563 737.5h2M566 737.5h3M571 737.5h25M598 737.5h5M604 737.5h8M614 737.5h10M625 737.5h4M631 737.5h3M636 737.5h5M650 737.5h2M655 737.5h2M456 738.5h2M465 738.5h2M486 738.5h2M493 738.5h3M509 738.5h2M559 738.5h2M562 738.5h4M567 738.5h2M571 738.5h6M578 738.5h11M591 738.5h5M598 738.5h4M604 738.5h23M635 738.5h2M639 738.5h2M649 738.5h8M443 739.5h2M489 739.5h2M493 739.5h4M510 739.5h2M513 739.5h2M538 739.5h2M543 739.5h2M550 739.5h4M558 739.5h2M562 739.5h4M570 739.5h2M573 739.5h17M594 739.5h13M608 739.5h11M620 739.5h3M624 739.5h3M632 739.5h2M635 739.5h2M645 739.5h2M649 739.5h6M656 739.5h2M666 739.5h2M669 739.5h2M443 740.5h2M452 740.5h3M460 740.5h2M475 740.5h4M489 740.5h4M495 740.5h2M509 740.5h3M513 740.5h4M538 740.5h4M543 740.5h2M548 740.5h6M558 740.5h2M562 740.5h5M570 740.5h4M575 740.5h8M585 740.5h10M596 740.5h11M608 740.5h8M618 740.5h4M627 740.5h12M642 740.5h2M645 740.5h2M656 740.5h2M659 740.5h2M666 740.5h2M669 740.5h2M452 741.5h3M460 741.5h2M473 741.5h6M484 741.5h2M491 741.5h2M494 741.5h2M509 741.5h2M515 741.5h2M522 741.5h2M540 741.5h4M548 741.5h2M553 741.5h2M556 741.5h2M563 741.5h4M568 741.5h2M572 741.5h2M579 741.5h25M608 741.5h9M618 741.5h6M627 741.5h9M637 741.5h4M642 741.5h3M647 741.5h3M652 741.5h2M655 741.5h2M658 741.5h5M685 741.5h2M453 742.5h2M473 742.5h2M476 742.5h3M484 742.5h2M487 742.5h3M491 742.5h2M494 742.5h2M499 742.5h2M508 742.5h2M515 742.5h2M518 742.5h2M522 742.5h3M541 742.5h3M553 742.5h2M556 742.5h3M563 742.5h2M568 742.5h6M578 742.5h2M581 742.5h24M606 742.5h5M612 742.5h2M615 742.5h17M634 742.5h2M639 742.5h2M643 742.5h2M647 742.5h3M651 742.5h3M655 742.5h2M658 742.5h2M661 742.5h2M685 742.5h2M444 743.5h2M453 743.5h2M472 743.5h2M476 743.5h3M487 743.5h3M499 743.5h2M508 743.5h2M518 743.5h2M522 743.5h3M533 743.5h2M536 743.5h2M543 743.5h2M550 743.5h2M553 743.5h2M557 743.5h2M560 743.5h2M565 743.5h2M570 743.5h3M574 743.5h9M584 743.5h2M587 743.5h3M591 743.5h14M606 743.5h3M611 743.5h9M621 743.5h14M638 743.5h2M646 743.5h2M650 743.5h3M656 743.5h2M661 743.5h3M444 744.5h2M463 744.5h2M472 744.5h2M476 744.5h2M487 744.5h2M495 744.5h2M517 744.5h2M522 744.5h2M525 744.5h2M533 744.5h2M536 744.5h2M543 744.5h2M550 744.5h2M560 744.5h2M565 744.5h2M569 744.5h13M584 744.5h2M587 744.5h2M591 744.5h18M611 744.5h5M618 744.5h2M621 744.5h15M638 744.5h2M646 744.5h7M656 744.5h2M661 744.5h3M422 745.5h2M463 745.5h2M472 745.5h2M476 745.5h2M495 745.5h2M515 745.5h4M525 745.5h4M546 745.5h2M551 745.5h3M560 745.5h2M563 745.5h9M573 745.5h13M591 745.5h19M613 745.5h4M618 745.5h2M623 745.5h8M634 745.5h3M642 745.5h2M648 745.5h2M654 745.5h2M659 745.5h2M666 745.5h2M676 745.5h2M422 746.5h2M443 746.5h2M450 746.5h2M462 746.5h3M468 746.5h2M471 746.5h4M515 746.5h3M523 746.5h2M527 746.5h2M531 746.5h2M538 746.5h2M543 746.5h5M549 746.5h5M560 746.5h5M566 746.5h29M597 746.5h13M612 746.5h5M622 746.5h4M627 746.5h4M632 746.5h5M639 746.5h2M642 746.5h6M651 746.5h2M654 746.5h2M659 746.5h2M666 746.5h2M676 746.5h2M431 747.5h2M435 747.5h2M443 747.5h2M450 747.5h2M462 747.5h2M467 747.5h3M471 747.5h4M482 747.5h2M493 747.5h2M516 747.5h3M520 747.5h2M523 747.5h5M531 747.5h2M538 747.5h2M543 747.5h5M549 747.5h5M558 747.5h11M571 747.5h8M580 747.5h2M583 747.5h11M597 747.5h21M619 747.5h5M627 747.5h21M651 747.5h2M654 747.5h3M658 747.5h2M663 747.5h2M431 748.5h2M435 748.5h2M460 748.5h4M467 748.5h3M482 748.5h2M485 748.5h2M489 748.5h2M493 748.5h2M517 748.5h5M524 748.5h4M532 748.5h2M537 748.5h4M542 748.5h3M546 748.5h2M549 748.5h2M552 748.5h2M557 748.5h7M565 748.5h4M571 748.5h8M580 748.5h2M584 748.5h3M588 748.5h3M594 748.5h2M597 748.5h27M626 748.5h3M630 748.5h3M634 748.5h12M649 748.5h2M655 748.5h2M658 748.5h2M663 748.5h2M448 749.5h2M460 749.5h2M469 749.5h2M485 749.5h2M489 749.5h2M496 749.5h2M512 749.5h2M519 749.5h2M525 749.5h2M532 749.5h2M536 749.5h5M542 749.5h2M548 749.5h4M557 749.5h7M565 749.5h5M571 749.5h8M582 749.5h33M616 749.5h4M621 749.5h3M625 749.5h12M638 749.5h9M649 749.5h3M654 749.5h2M659 749.5h4M441 750.5h2M448 750.5h2M469 750.5h2M475 750.5h2M489 750.5h2M496 750.5h4M503 750.5h2M512 750.5h2M526 750.5h2M536 750.5h2M547 750.5h5M558 750.5h4M567 750.5h3M571 750.5h8M582 750.5h30M613 750.5h5M621 750.5h6M628 750.5h19M648 750.5h4M654 750.5h2M659 750.5h4M665 750.5h2M441 751.5h2M456 751.5h2M462 751.5h2M474 751.5h3M484 751.5h2M498 751.5h2M503 751.5h2M523 751.5h2M526 751.5h2M532 751.5h2M537 751.5h2M543 751.5h2M547 751.5h2M554 751.5h2M559 751.5h5M567 751.5h12M581 751.5h11M593 751.5h14M608 751.5h4M613 751.5h6M620 751.5h15M636 751.5h2M639 751.5h4M644 751.5h2M648 751.5h2M659 751.5h8M446 752.5h2M456 752.5h2M462 752.5h2M474 752.5h2M478 752.5h3M484 752.5h4M493 752.5h2M515 752.5h2M523 752.5h2M532 752.5h2M535 752.5h4M541 752.5h8M553 752.5h4M559 752.5h6M568 752.5h7M576 752.5h34M613 752.5h3M617 752.5h7M625 752.5h4M631 752.5h4M636 752.5h7M646 752.5h2M652 752.5h2M655 752.5h6M662 752.5h6M418 753.5h2M446 753.5h3M462 753.5h2M470 753.5h2M478 753.5h3M486 753.5h2M493 753.5h2M497 753.5h2M515 753.5h2M532 753.5h2M535 753.5h2M538 753.5h5M545 753.5h4M551 753.5h16M568 753.5h2M571 753.5h3M575 753.5h3M579 753.5h2M584 753.5h3M589 753.5h5M596 753.5h13M611 753.5h2M614 753.5h10M626 753.5h2M631 753.5h4M636 753.5h4M641 753.5h3M646 753.5h2M651 753.5h3M655 753.5h4M662 753.5h2M666 753.5h2M418 754.5h2M447 754.5h2M470 754.5h2M484 754.5h2M497 754.5h2M515 754.5h2M523 754.5h4M531 754.5h3M535 754.5h2M538 754.5h4M544 754.5h2M547 754.5h3M551 754.5h4M557 754.5h4M563 754.5h6M570 754.5h4M575 754.5h5M582 754.5h5M589 754.5h6M596 754.5h13M610 754.5h5M616 754.5h6M626 754.5h8M636 754.5h2M641 754.5h3M651 754.5h2M655 754.5h2M659 754.5h2M697 754.5h2M477 755.5h2M484 755.5h2M500 755.5h2M514 755.5h3M518 755.5h4M523 755.5h4M531 755.5h2M536 755.5h2M539 755.5h3M544 755.5h11M559 755.5h2M564 755.5h2M567 755.5h28M598 755.5h17M616 755.5h7M626 755.5h5M632 755.5h2M636 755.5h4M646 755.5h2M651 755.5h3M659 755.5h2M665 755.5h2M697 755.5h2M477 756.5h2M491 756.5h2M494 756.5h2M500 756.5h3M514 756.5h2M518 756.5h6M536 756.5h2M539 756.5h5M545 756.5h2M548 756.5h3M552 756.5h2M555 756.5h2M564 756.5h2M567 756.5h25M597 756.5h3M601 756.5h19M621 756.5h2M626 756.5h6M638 756.5h2M646 756.5h2M651 756.5h3M655 756.5h2M665 756.5h2M443 757.5h2M479 757.5h2M490 757.5h3M494 757.5h2M501 757.5h2M508 757.5h2M517 757.5h4M522 757.5h2M535 757.5h3M539 757.5h5M548 757.5h4M555 757.5h4M561 757.5h2M567 757.5h7M575 757.5h2M580 757.5h4M585 757.5h4M590 757.5h2M595 757.5h6M602 757.5h10M613 757.5h3M617 757.5h2M620 757.5h4M630 757.5h3M655 757.5h3M441 758.5h4M458 758.5h2M467 758.5h2M479 758.5h4M490 758.5h2M508 758.5h3M515 758.5h6M534 758.5h9M550 758.5h4M556 758.5h7M564 758.5h2M567 758.5h3M572 758.5h2M575 758.5h2M580 758.5h4M586 758.5h3M590 758.5h2M595 758.5h6M602 758.5h4M607 758.5h17M628 758.5h7M641 758.5h2M644 758.5h2M650 758.5h3M654 758.5h4M438 759.5h2M441 759.5h2M451 759.5h2M458 759.5h2M464 759.5h2M467 759.5h2M480 759.5h3M493 759.5h2M508 759.5h5M514 759.5h4M524 759.5h2M531 759.5h2M534 759.5h6M551 759.5h3M556 759.5h15M575 759.5h14M590 759.5h2M595 759.5h10M607 759.5h10M618 759.5h5M625 759.5h2M628 759.5h3M633 759.5h2M639 759.5h7M650 759.5h3M654 759.5h4M438 760.5h2M451 760.5h2M457 760.5h2M464 760.5h2M471 760.5h2M477 760.5h2M493 760.5h2M508 760.5h5M514 760.5h4M519 760.5h2M522 760.5h6M531 760.5h2M536 760.5h3M543 760.5h2M551 760.5h2M557 760.5h10M569 760.5h2M572 760.5h20M595 760.5h8M605 760.5h6M614 760.5h2M618 760.5h9M628 760.5h3M634 760.5h2M638 760.5h3M642 760.5h3M646 760.5h2M650 760.5h3M656 760.5h2M442 761.5h2M455 761.5h4M471 761.5h2M477 761.5h2M493 761.5h2M507 761.5h2M513 761.5h2M518 761.5h3M522 761.5h2M526 761.5h2M543 761.5h2M548 761.5h2M551 761.5h2M557 761.5h2M562 761.5h2M565 761.5h2M570 761.5h8M579 761.5h4M584 761.5h7M593 761.5h23M617 761.5h10M628 761.5h2M634 761.5h2M638 761.5h2M646 761.5h2M656 761.5h4M433 762.5h2M442 762.5h2M455 762.5h2M464 762.5h2M493 762.5h2M500 762.5h2M504 762.5h2M507 762.5h2M513 762.5h2M518 762.5h2M538 762.5h2M547 762.5h3M561 762.5h3M567 762.5h2M570 762.5h2M573 762.5h12M586 762.5h34M621 762.5h6M628 762.5h2M635 762.5h2M638 762.5h2M643 762.5h5M658 762.5h4M671 762.5h2M433 763.5h2M457 763.5h2M464 763.5h2M467 763.5h2M490 763.5h2M500 763.5h2M504 763.5h4M522 763.5h2M531 763.5h2M537 763.5h3M547 763.5h2M557 763.5h2M561 763.5h3M565 763.5h4M573 763.5h12M588 763.5h14M608 763.5h9M618 763.5h2M621 763.5h6M635 763.5h2M638 763.5h2M643 763.5h4M660 763.5h2M671 763.5h2M683 763.5h2M445 764.5h2M457 764.5h2M464 764.5h5M476 764.5h2M486 764.5h2M490 764.5h2M494 764.5h2M502 764.5h2M505 764.5h3M511 764.5h2M522 764.5h4M528 764.5h2M531 764.5h3M535 764.5h7M545 764.5h4M551 764.5h4M557 764.5h2M561 764.5h2M565 764.5h4M570 764.5h2M574 764.5h5M580 764.5h18M600 764.5h2M603 764.5h2M608 764.5h2M611 764.5h6M618 764.5h11M638 764.5h2M641 764.5h5M649 764.5h2M663 764.5h2M683 764.5h2M445 765.5h2M458 765.5h2M465 765.5h4M476 765.5h2M486 765.5h2M493 765.5h3M497 765.5h2M502 765.5h3M510 765.5h3M524 765.5h2M528 765.5h2M532 765.5h2M535 765.5h2M539 765.5h3M545 765.5h4M551 765.5h4M562 765.5h3M566 765.5h3M570 765.5h2M574 765.5h5M580 765.5h15M596 765.5h3M602 765.5h8M611 765.5h6M618 765.5h11M634 765.5h2M641 765.5h5M649 765.5h2M654 765.5h2M659 765.5h2M663 765.5h2M456 766.5h4M493 766.5h7M503 766.5h2M508 766.5h4M516 766.5h2M521 766.5h2M524 766.5h5M542 766.5h2M546 766.5h2M551 766.5h2M556 766.5h9M566 766.5h4M572 766.5h2M575 766.5h2M578 766.5h12M592 766.5h3M596 766.5h4M602 766.5h2M605 766.5h4M611 766.5h4M616 766.5h9M627 766.5h2M631 766.5h2M634 766.5h2M637 766.5h4M653 766.5h3M659 766.5h2M456 767.5h2M467 767.5h2M470 767.5h2M482 767.5h2M486 767.5h2M494 767.5h3M498 767.5h2M508 767.5h2M516 767.5h4M521 767.5h2M525 767.5h4M535 767.5h2M542 767.5h2M546 767.5h2M551 767.5h2M556 767.5h6M563 767.5h2M566 767.5h8M575 767.5h2M578 767.5h17M597 767.5h3M603 767.5h6M611 767.5h7M619 767.5h2M623 767.5h2M626 767.5h4M631 767.5h2M634 767.5h2M637 767.5h5M643 767.5h2M647 767.5h2M650 767.5h2M653 767.5h2M666 767.5h2M461 768.5h2M467 768.5h2M470 768.5h2M482 768.5h2M486 768.5h2M506 768.5h2M515 768.5h2M518 768.5h2M535 768.5h3M542 768.5h2M548 768.5h2M553 768.5h2M559 768.5h5M569 768.5h6M577 768.5h4M582 768.5h2M585 768.5h10M597 768.5h2M603 768.5h15M619 768.5h2M623 768.5h2M626 768.5h6M633 768.5h4M640 768.5h2M643 768.5h9M666 768.5h2M461 769.5h2M466 769.5h2M475 769.5h2M493 769.5h2M501 769.5h2M506 769.5h2M515 769.5h2M535 769.5h3M541 769.5h2M548 769.5h2M553 769.5h3M559 769.5h5M567 769.5h2M570 769.5h5M577 769.5h4M582 769.5h2M587 769.5h15M603 769.5h15M623 769.5h4M629 769.5h3M633 769.5h4M643 769.5h7M669 769.5h2M453 770.5h2M466 770.5h2M472 770.5h2M475 770.5h3M480 770.5h2M483 770.5h2M493 770.5h2M501 770.5h2M505 770.5h2M512 770.5h2M520 770.5h2M530 770.5h4M535 770.5h2M541 770.5h4M546 770.5h2M551 770.5h2M554 770.5h2M559 770.5h5M565 770.5h10M576 770.5h3M586 770.5h4M591 770.5h7M599 770.5h3M605 770.5h6M613 770.5h2M620 770.5h2M625 770.5h2M629 770.5h2M635 770.5h2M643 770.5h4M669 770.5h2M453 771.5h2M472 771.5h2M476 771.5h2M480 771.5h2M483 771.5h2M488 771.5h2M505 771.5h2M512 771.5h2M519 771.5h3M523 771.5h2M526 771.5h3M530 771.5h8M543 771.5h5M550 771.5h5M560 771.5h4M565 771.5h14M580 771.5h4M586 771.5h2M600 771.5h12M620 771.5h2M626 771.5h2M629 771.5h2M636 771.5h2M643 771.5h4M657 771.5h4M667 771.5h2M694 771.5h2M418 772.5h2M440 772.5h2M448 772.5h2M470 772.5h2M485 772.5h2M488 772.5h2M510 772.5h4M519 772.5h2M523 772.5h2M526 772.5h3M534 772.5h5M544 772.5h2M550 772.5h2M553 772.5h4M560 772.5h2M565 772.5h2M570 772.5h2M574 772.5h4M580 772.5h4M588 772.5h4M594 772.5h3M598 772.5h15M616 772.5h2M626 772.5h2M629 772.5h2M636 772.5h2M657 772.5h4M667 772.5h2M678 772.5h2M694 772.5h2M418 773.5h2M440 773.5h2M448 773.5h2M453 773.5h2M470 773.5h2M483 773.5h4M500 773.5h2M509 773.5h5M527 773.5h2M532 773.5h4M537 773.5h3M541 773.5h2M547 773.5h3M552 773.5h2M555 773.5h2M559 773.5h4M570 773.5h2M580 773.5h4M585 773.5h2M588 773.5h9M598 773.5h5M607 773.5h6M615 773.5h3M626 773.5h2M629 773.5h2M634 773.5h3M639 773.5h2M642 773.5h2M650 773.5h2M654 773.5h2M678 773.5h2M444 774.5h2M453 774.5h2M472 774.5h2M483 774.5h2M488 774.5h2M500 774.5h2M509 774.5h2M526 774.5h3M532 774.5h2M538 774.5h2M541 774.5h2M546 774.5h4M552 774.5h2M555 774.5h3M559 774.5h4M566 774.5h2M570 774.5h2M577 774.5h2M580 774.5h7M591 774.5h3M595 774.5h2M600 774.5h6M608 774.5h4M614 774.5h3M628 774.5h2M634 774.5h7M642 774.5h2M650 774.5h2M654 774.5h2M434 775.5h2M440 775.5h2M444 775.5h2M453 775.5h3M472 775.5h2M483 775.5h3M488 775.5h2M509 775.5h2M526 775.5h2M530 775.5h4M537 775.5h2M544 775.5h6M555 775.5h4M560 775.5h3M566 775.5h2M572 775.5h2M576 775.5h3M580 775.5h5M586 775.5h2M591 775.5h2M595 775.5h2M600 775.5h6M608 775.5h3M613 775.5h3M619 775.5h2M622 775.5h3M628 775.5h2M634 775.5h5M645 775.5h3M434 776.5h3M440 776.5h2M454 776.5h2M462 776.5h2M483 776.5h3M490 776.5h2M495 776.5h2M521 776.5h2M530 776.5h3M535 776.5h4M540 776.5h2M544 776.5h2M547 776.5h3M551 776.5h2M557 776.5h2M561 776.5h2M569 776.5h2M572 776.5h2M576 776.5h2M579 776.5h6M586 776.5h5M592 776.5h5M598 776.5h4M607 776.5h8M619 776.5h2M622 776.5h3M633 776.5h6M642 776.5h2M645 776.5h3M435 777.5h2M448 777.5h2M462 777.5h2M484 777.5h2M490 777.5h2M495 777.5h2M507 777.5h2M519 777.5h4M526 777.5h2M531 777.5h7M540 777.5h2M544 777.5h2M547 777.5h8M556 777.5h2M561 777.5h2M565 777.5h6M579 777.5h6M587 777.5h4M592 777.5h4M598 777.5h4M603 777.5h3M607 777.5h7M616 777.5h3M621 777.5h2M625 777.5h4M630 777.5h2M633 777.5h2M642 777.5h2M646 777.5h2M435 778.5h2M448 778.5h2M486 778.5h2M490 778.5h2M494 778.5h2M497 778.5h2M507 778.5h2M519 778.5h2M526 778.5h2M532 778.5h5M549 778.5h2M553 778.5h2M556 778.5h2M561 778.5h2M565 778.5h4M572 778.5h2M576 778.5h9M587 778.5h12M600 778.5h6M608 778.5h2M616 778.5h8M625 778.5h4M630 778.5h2M645 778.5h4M655 778.5h2M425 779.5h2M450 779.5h2M457 779.5h2M469 779.5h2M472 779.5h2M475 779.5h3M480 779.5h2M486 779.5h2M490 779.5h2M494 779.5h5M500 779.5h2M505 779.5h4M526 779.5h2M532 779.5h6M553 779.5h2M556 779.5h2M572 779.5h2M575 779.5h8M587 779.5h7M596 779.5h3M600 779.5h4M606 779.5h2M611 779.5h3M619 779.5h2M622 779.5h2M627 779.5h2M641 779.5h2M645 779.5h4M655 779.5h2M423 780.5h4M450 780.5h2M457 780.5h2M469 780.5h2M472 780.5h6M480 780.5h2M486 780.5h5M493 780.5h4M500 780.5h2M505 780.5h3M515 780.5h2M536 780.5h2M539 780.5h2M558 780.5h2M575 780.5h5M582 780.5h3M586 780.5h2M589 780.5h4M599 780.5h5M605 780.5h3M611 780.5h4M621 780.5h2M627 780.5h2M635 780.5h2M641 780.5h2M664 780.5h2M423 781.5h2M474 781.5h2M486 781.5h5M492 781.5h3M502 781.5h2M505 781.5h3M515 781.5h2M523 781.5h2M528 781.5h2M539 781.5h4M546 781.5h2M553 781.5h2M558 781.5h2M563 781.5h2M567 781.5h4M572 781.5h2M578 781.5h2M582 781.5h6M591 781.5h3M599 781.5h5M605 781.5h3M612 781.5h3M621 781.5h2M626 781.5h2M635 781.5h2M664 781.5h2M438 782.5h4M475 782.5h2M483 782.5h2M486 782.5h2M492 782.5h2M495 782.5h5M502 782.5h2M505 782.5h2M508 782.5h2M513 782.5h2M516 782.5h2M523 782.5h2M527 782.5h4M536 782.5h2M539 782.5h4M546 782.5h2M549 782.5h2M553 782.5h2M563 782.5h2M567 782.5h4M572 782.5h2M581 782.5h2M584 782.5h4M592 782.5h2M597 782.5h2M601 782.5h3M616 782.5h2M624 782.5h4M631 782.5h2M637 782.5h2M671 782.5h2M438 783.5h4M463 783.5h4M468 783.5h4M474 783.5h4M479 783.5h2M483 783.5h5M491 783.5h9M508 783.5h2M513 783.5h5M521 783.5h2M527 783.5h4M536 783.5h2M539 783.5h2M543 783.5h2M549 783.5h2M553 783.5h2M559 783.5h2M562 783.5h2M567 783.5h3M572 783.5h2M576 783.5h2M581 783.5h2M586 783.5h3M592 783.5h2M595 783.5h4M600 783.5h4M606 783.5h2M614 783.5h4M624 783.5h3M630 783.5h3M637 783.5h2M643 783.5h2M671 783.5h2M434 784.5h2M455 784.5h3M463 784.5h4M468 784.5h4M473 784.5h5M479 784.5h2M485 784.5h2M491 784.5h4M496 784.5h6M514 784.5h6M521 784.5h3M539 784.5h2M543 784.5h2M548 784.5h2M559 784.5h6M570 784.5h5M576 784.5h10M587 784.5h4M592 784.5h6M600 784.5h2M606 784.5h2M610 784.5h2M613 784.5h9M624 784.5h3M630 784.5h3M643 784.5h2M432 785.5h4M437 785.5h2M455 785.5h3M465 785.5h2M468 785.5h7M486 785.5h3M491 785.5h3M496 785.5h2M500 785.5h4M515 785.5h5M522 785.5h3M527 785.5h2M530 785.5h2M533 785.5h3M541 785.5h2M548 785.5h2M559 785.5h3M563 785.5h2M570 785.5h2M573 785.5h2M576 785.5h12M589 785.5h6M596 785.5h2M599 785.5h2M602 785.5h4M610 785.5h2M613 785.5h13M432 786.5h2M437 786.5h2M443 786.5h2M448 786.5h2M456 786.5h6M465 786.5h3M469 786.5h5M479 786.5h2M482 786.5h2M486 786.5h3M491 786.5h3M502 786.5h2M510 786.5h2M516 786.5h4M523 786.5h6M530 786.5h2M533 786.5h3M541 786.5h2M556 786.5h2M559 786.5h2M564 786.5h2M577 786.5h2M580 786.5h8M589 786.5h4M599 786.5h7M613 786.5h4M618 786.5h3M622 786.5h3M627 786.5h2M641 786.5h2M443 787.5h2M448 787.5h2M456 787.5h6M466 787.5h5M475 787.5h2M479 787.5h2M482 787.5h2M498 787.5h5M508 787.5h4M514 787.5h4M520 787.5h2M523 787.5h8M542 787.5h2M546 787.5h2M549 787.5h3M556 787.5h2M559 787.5h3M564 787.5h2M577 787.5h4M582 787.5h4M589 787.5h5M600 787.5h3M605 787.5h2M611 787.5h2M615 787.5h2M618 787.5h2M621 787.5h4M627 787.5h2M631 787.5h3M641 787.5h2M433 788.5h2M437 788.5h2M443 788.5h2M450 788.5h2M462 788.5h4M468 788.5h3M474 788.5h3M479 788.5h4M488 788.5h3M496 788.5h7M508 788.5h2M514 788.5h2M518 788.5h4M523 788.5h2M527 788.5h4M536 788.5h2M542 788.5h2M546 788.5h2M549 788.5h3M560 788.5h2M564 788.5h2M567 788.5h4M575 788.5h9M585 788.5h2M592 788.5h2M600 788.5h4M605 788.5h2M611 788.5h2M615 788.5h2M621 788.5h2M631 788.5h3M657 788.5h2M428 789.5h2M433 789.5h2M437 789.5h2M443 789.5h2M448 789.5h4M454 789.5h3M460 789.5h6M468 789.5h3M474 789.5h2M481 789.5h6M488 789.5h4M493 789.5h2M496 789.5h2M504 789.5h3M508 789.5h2M518 789.5h2M522 789.5h3M530 789.5h2M536 789.5h2M540 789.5h2M543 789.5h2M546 789.5h2M560 789.5h2M563 789.5h3M567 789.5h5M575 789.5h2M578 789.5h2M581 789.5h2M585 789.5h2M589 789.5h4M594 789.5h2M600 789.5h4M606 789.5h4M611 789.5h2M622 789.5h3M653 789.5h2M657 789.5h2M428 790.5h2M442 790.5h5M448 790.5h2M453 790.5h4M459 790.5h3M468 790.5h2M477 790.5h11M490 790.5h2M493 790.5h3M502 790.5h5M510 790.5h4M517 790.5h2M522 790.5h2M530 790.5h2M533 790.5h2M540 790.5h2M543 790.5h2M555 790.5h2M560 790.5h2M563 790.5h3M568 790.5h4M574 790.5h2M578 790.5h3M589 790.5h4M594 790.5h2M601 790.5h3M606 790.5h4M611 790.5h2M615 790.5h5M622 790.5h4M653 790.5h2M441 791.5h6M453 791.5h10M467 791.5h4M476 791.5h12M489 791.5h3M493 791.5h5M500 791.5h5M510 791.5h5M517 791.5h3M526 791.5h3M533 791.5h2M546 791.5h2M550 791.5h4M555 791.5h2M559 791.5h3M563 791.5h2M568 791.5h4M574 791.5h2M578 791.5h3M583 791.5h3M590 791.5h3M598 791.5h2M601 791.5h2M607 791.5h2M615 791.5h5M623 791.5h3M630 791.5h2M646 791.5h2M657 791.5h2M441 792.5h4M451 792.5h8M460 792.5h3M467 792.5h5M476 792.5h2M483 792.5h5M489 792.5h3M493 792.5h5M500 792.5h4M512 792.5h3M517 792.5h3M521 792.5h2M526 792.5h3M535 792.5h2M539 792.5h2M546 792.5h2M550 792.5h4M557 792.5h4M563 792.5h2M566 792.5h2M571 792.5h2M583 792.5h5M589 792.5h4M595 792.5h2M598 792.5h2M607 792.5h2M612 792.5h2M623 792.5h2M630 792.5h2M646 792.5h2M657 792.5h2M439 793.5h2M451 793.5h4M456 793.5h6M463 793.5h2M466 793.5h6M476 793.5h2M480 793.5h4M486 793.5h2M489 793.5h3M494 793.5h4M499 793.5h4M511 793.5h3M516 793.5h7M524 793.5h5M533 793.5h4M539 793.5h2M546 793.5h3M552 793.5h3M557 793.5h2M566 793.5h2M571 793.5h2M575 793.5h2M586 793.5h2M589 793.5h4M595 793.5h3M602 793.5h2M607 793.5h2M612 793.5h2M618 793.5h2M623 793.5h2M628 793.5h2M436 794.5h2M439 794.5h2M447 794.5h2M452 794.5h2M457 794.5h14M472 794.5h2M475 794.5h9M486 794.5h2M490 794.5h2M495 794.5h8M505 794.5h3M510 794.5h5M516 794.5h6M523 794.5h7M533 794.5h4M546 794.5h3M553 794.5h2M562 794.5h2M565 794.5h2M575 794.5h4M585 794.5h4M590 794.5h3M595 794.5h3M601 794.5h3M606 794.5h2M613 794.5h2M618 794.5h2M623 794.5h2M628 794.5h2M638 794.5h6M645 794.5h2M435 795.5h3M441 795.5h2M447 795.5h2M452 795.5h3M456 795.5h2M460 795.5h9M471 795.5h3M475 795.5h5M481 795.5h3M486 795.5h6M495 795.5h9M505 795.5h4M510 795.5h5M517 795.5h2M520 795.5h6M528 795.5h2M531 795.5h2M535 795.5h2M553 795.5h2M562 795.5h2M565 795.5h4M571 795.5h8M582 795.5h2M585 795.5h8M595 795.5h5M601 795.5h3M606 795.5h3M613 795.5h5M620 795.5h2M626 795.5h4M631 795.5h2M638 795.5h6M645 795.5h2M651 795.5h2M435 796.5h3M441 796.5h2M444 796.5h2M447 796.5h2M453 796.5h9M463 796.5h2M466 796.5h3M471 796.5h4M476 796.5h7M485 796.5h6M492 796.5h5M498 796.5h6M505 796.5h4M515 796.5h2M518 796.5h2M521 796.5h5M531 796.5h2M536 796.5h2M540 796.5h2M551 796.5h4M561 796.5h3M566 796.5h3M571 796.5h13M585 796.5h2M588 796.5h4M596 796.5h4M602 796.5h2M607 796.5h2M614 796.5h5M620 796.5h5M626 796.5h4M631 796.5h2M634 796.5h2M651 796.5h2M436 797.5h4M443 797.5h3M448 797.5h4M453 797.5h30M484 797.5h6M492 797.5h5M500 797.5h4M505 797.5h5M515 797.5h5M523 797.5h2M526 797.5h2M536 797.5h8M551 797.5h4M561 797.5h4M566 797.5h2M572 797.5h10M583 797.5h9M596 797.5h3M606 797.5h4M616 797.5h3M622 797.5h3M634 797.5h2M418 798.5h2M436 798.5h4M443 798.5h2M448 798.5h7M458 798.5h3M462 798.5h10M473 798.5h10M484 798.5h2M492 798.5h23M516 798.5h4M521 798.5h2M526 798.5h2M532 798.5h2M535 798.5h2M538 798.5h2M542 798.5h2M549 798.5h2M562 798.5h3M566 798.5h15M582 798.5h10M593 798.5h2M606 798.5h4M619 798.5h2M622 798.5h3M633 798.5h2M639 798.5h3M645 798.5h2M418 799.5h2M436 799.5h3M448 799.5h7M456 799.5h8M465 799.5h5M473 799.5h2M476 799.5h4M484 799.5h2M492 799.5h25M518 799.5h5M526 799.5h2M532 799.5h8M546 799.5h2M549 799.5h2M557 799.5h2M561 799.5h3M567 799.5h6M577 799.5h4M582 799.5h2M585 799.5h7M593 799.5h3M603 799.5h2M610 799.5h4M618 799.5h3M622 799.5h3M633 799.5h2M639 799.5h3M645 799.5h2M426 800.5h2M437 800.5h2M444 800.5h2M447 800.5h8M456 800.5h6M463 800.5h2M466 800.5h3M495 800.5h2M499 800.5h6M506 800.5h19M528 800.5h2M533 800.5h6M543 800.5h2M546 800.5h4M557 800.5h2M561 800.5h3M567 800.5h3M571 800.5h2M575 800.5h6M582 800.5h2M585 800.5h3M590 800.5h7M600 800.5h6M610 800.5h4M618 800.5h3M629 800.5h2M636 800.5h2M426 801.5h3M437 801.5h4M442 801.5h4M447 801.5h2M451 801.5h14M499 801.5h16M516 801.5h9M528 801.5h2M533 801.5h3M543 801.5h2M548 801.5h2M553 801.5h3M562 801.5h8M573 801.5h7M586 801.5h5M592 801.5h2M595 801.5h2M599 801.5h7M607 801.5h3M611 801.5h3M619 801.5h2M625 801.5h2M628 801.5h3M636 801.5h2M427 802.5h2M438 802.5h3M442 802.5h6M449 802.5h16M498 802.5h4M503 802.5h15M519 802.5h5M525 802.5h3M530 802.5h6M553 802.5h3M562 802.5h8M571 802.5h14M586 802.5h7M595 802.5h6M605 802.5h5M612 802.5h2M619 802.5h4M625 802.5h5M633 802.5h2M656 802.5h2M431 803.5h2M434 803.5h2M445 803.5h3M449 803.5h13M498 803.5h2M503 803.5h14M522 803.5h6M530 803.5h7M538 803.5h4M549 803.5h4M559 803.5h2M562 803.5h2M566 803.5h3M571 803.5h2M574 803.5h19M595 803.5h5M605 803.5h2M615 803.5h2M620 803.5h3M627 803.5h2M633 803.5h2M656 803.5h2M425 804.5h2M431 804.5h2M434 804.5h2M439 804.5h2M444 804.5h4M449 804.5h6M457 804.5h2M505 804.5h11M517 804.5h2M522 804.5h4M528 804.5h3M532 804.5h2M535 804.5h2M538 804.5h4M549 804.5h4M559 804.5h5M566 804.5h4M574 804.5h10M585 804.5h6M592 804.5h5M601 804.5h2M605 804.5h6M615 804.5h2M622 804.5h3M626 804.5h2M637 804.5h2M425 805.5h2M436 805.5h7M444 805.5h7M453 805.5h3M505 805.5h11M517 805.5h4M522 805.5h2M528 805.5h3M532 805.5h2M538 805.5h2M544 805.5h2M551 805.5h2M554 805.5h2M560 805.5h4M568 805.5h3M574 805.5h10M585 805.5h4M592 805.5h5M598 805.5h2M601 805.5h2M605 805.5h6M617 805.5h2M622 805.5h3M626 805.5h2M637 805.5h2M436 806.5h10M447 806.5h5M453 806.5h3M508 806.5h13M525 806.5h2M529 806.5h2M533 806.5h2M536 806.5h2M544 806.5h2M552 806.5h4M569 806.5h2M575 806.5h2M580 806.5h2M592 806.5h11M605 806.5h5M612 806.5h7M621 806.5h2M629 806.5h2M636 806.5h3M640 806.5h2M434 807.5h2M438 807.5h3M442 807.5h4M450 807.5h5M508 807.5h13M525 807.5h2M529 807.5h2M533 807.5h2M536 807.5h4M545 807.5h2M552 807.5h2M559 807.5h2M562 807.5h3M572 807.5h2M579 807.5h4M585 807.5h2M592 807.5h2M595 807.5h4M600 807.5h3M605 807.5h4M612 807.5h7M621 807.5h2M624 807.5h3M629 807.5h2M633 807.5h2M636 807.5h2M640 807.5h2M643 807.5h2M419 808.5h2M432 808.5h4M437 808.5h3M442 808.5h2M446 808.5h2M452 808.5h2M510 808.5h11M529 808.5h5M538 808.5h2M545 808.5h4M559 808.5h2M562 808.5h3M571 808.5h3M577 808.5h6M585 808.5h3M590 808.5h2M594 808.5h2M599 808.5h4M604 808.5h3M608 808.5h2M614 808.5h5M623 808.5h4M630 808.5h2M633 808.5h4M643 808.5h2M419 809.5h2M432 809.5h3M437 809.5h7M446 809.5h2M449 809.5h2M510 809.5h6M518 809.5h4M529 809.5h5M538 809.5h8M547 809.5h2M552 809.5h4M557 809.5h2M563 809.5h2M567 809.5h2M571 809.5h3M577 809.5h2M580 809.5h3M585 809.5h11M597 809.5h9M607 809.5h3M611 809.5h2M614 809.5h5M621 809.5h4M629 809.5h3M634 809.5h3M432 810.5h5M440 810.5h5M449 810.5h2M510 810.5h6M520 810.5h6M531 810.5h4M538 810.5h8M549 810.5h2M552 810.5h4M557 810.5h3M562 810.5h3M567 810.5h2M571 810.5h2M574 810.5h4M580 810.5h3M588 810.5h2M591 810.5h4M597 810.5h3M601 810.5h4M607 810.5h2M611 810.5h2M614 810.5h4M621 810.5h2M629 810.5h2M634 810.5h2M422 811.5h2M429 811.5h2M432 811.5h5M442 811.5h3M446 811.5h2M511 811.5h10M522 811.5h4M531 811.5h4M536 811.5h2M541 811.5h4M549 811.5h2M553 811.5h2M558 811.5h2M562 811.5h4M567 811.5h6M574 811.5h4M580 811.5h8M591 811.5h5M597 811.5h2M601 811.5h3M607 811.5h7M616 811.5h2M627 811.5h4M645 811.5h2M422 812.5h2M427 812.5h6M438 812.5h2M441 812.5h2M444 812.5h5M505 812.5h2M511 812.5h15M532 812.5h8M541 812.5h4M552 812.5h3M558 812.5h2M562 812.5h4M567 812.5h4M572 812.5h6M579 812.5h13M594 812.5h5M601 812.5h2M609 812.5h7M627 812.5h2M630 812.5h2M635 812.5h4M640 812.5h2M645 812.5h2M427 813.5h9M438 813.5h2M441 813.5h8M505 813.5h2M511 813.5h11M524 813.5h2M527 813.5h2M530 813.5h10M547 813.5h2M552 813.5h3M556 813.5h2M559 813.5h2M562 813.5h2M568 813.5h2M572 813.5h6M579 813.5h3M585 813.5h7M593 813.5h5M601 813.5h2M604 813.5h4M610 813.5h3M614 813.5h2M625 813.5h2M628 813.5h4M635 813.5h4M640 813.5h2M645 813.5h2M650 813.5h2M427 814.5h2M430 814.5h6M442 814.5h7M509 814.5h4M517 814.5h5M524 814.5h5M530 814.5h5M536 814.5h2M542 814.5h2M547 814.5h2M551 814.5h2M554 814.5h4M559 814.5h3M573 814.5h9M585 814.5h4M593 814.5h2M596 814.5h2M601 814.5h2M604 814.5h4M610 814.5h2M619 814.5h2M625 814.5h2M628 814.5h2M631 814.5h2M636 814.5h2M650 814.5h2M427 815.5h2M430 815.5h3M434 815.5h5M441 815.5h8M509 815.5h5M515 815.5h8M524 815.5h6M531 815.5h2M538 815.5h2M542 815.5h2M551 815.5h2M554 815.5h2M560 815.5h2M565 815.5h3M576 815.5h12M589 815.5h2M592 815.5h6M606 815.5h4M619 815.5h2M628 815.5h2M631 815.5h2M636 815.5h2M430 816.5h3M436 816.5h12M512 816.5h2M515 816.5h11M528 816.5h2M538 816.5h2M544 816.5h5M551 816.5h2M554 816.5h2M559 816.5h2M564 816.5h4M572 816.5h2M575 816.5h13M589 816.5h10M601 816.5h2M606 816.5h4M613 816.5h2M619 816.5h2M628 816.5h2M633 816.5h2M636 816.5h2M425 817.5h2M435 817.5h8M444 817.5h2M515 817.5h5M523 817.5h12M536 817.5h4M544 817.5h5M550 817.5h2M554 817.5h3M558 817.5h3M562 817.5h4M567 817.5h2M572 817.5h5M578 817.5h11M590 817.5h10M601 817.5h3M606 817.5h9M619 817.5h5M633 817.5h2M641 817.5h2M651 817.5h2M425 818.5h2M428 818.5h3M434 818.5h3M438 818.5h5M444 818.5h3M510 818.5h10M521 818.5h14M536 818.5h4M544 818.5h2M547 818.5h2M550 818.5h4M555 818.5h2M558 818.5h2M562 818.5h4M567 818.5h2M571 818.5h2M574 818.5h2M578 818.5h4M584 818.5h20M606 818.5h2M610 818.5h5M618 818.5h7M633 818.5h2M641 818.5h2M651 818.5h2M655 818.5h2M418 819.5h2M428 819.5h3M434 819.5h2M440 819.5h7M494 819.5h2M507 819.5h2M510 819.5h13M527 819.5h8M538 819.5h2M544 819.5h2M547 819.5h2M551 819.5h3M561 819.5h4M568 819.5h35M605 819.5h4M612 819.5h3M618 819.5h2M622 819.5h3M633 819.5h2M655 819.5h2M418 820.5h2M429 820.5h2M437 820.5h4M442 820.5h3M494 820.5h2M507 820.5h2M514 820.5h9M525 820.5h16M544 820.5h5M551 820.5h2M560 820.5h3M567 820.5h5M573 820.5h15M590 820.5h20M612 820.5h2M620 820.5h2M624 820.5h4M630 820.5h2M634 820.5h3M654 820.5h2M423 821.5h10M435 821.5h6M442 821.5h2M514 821.5h6M524 821.5h3M529 821.5h12M546 821.5h2M549 821.5h3M560 821.5h3M567 821.5h4M572 821.5h7M581 821.5h21M603 821.5h7M612 821.5h2M619 821.5h3M623 821.5h6M630 821.5h7M654 821.5h2M423 822.5h6M430 822.5h3M435 822.5h2M438 822.5h3M442 822.5h3M514 822.5h8M523 822.5h5M530 822.5h2M535 822.5h7M546 822.5h2M549 822.5h3M556 822.5h3M561 822.5h2M566 822.5h4M572 822.5h7M583 822.5h13M597 822.5h6M604 822.5h6M617 822.5h4M623 822.5h2M627 822.5h2M632 822.5h6M675 822.5h2M417 823.5h2M425 823.5h2M429 823.5h16M513 823.5h9M523 823.5h2M526 823.5h2M530 823.5h3M535 823.5h3M540 823.5h2M546 823.5h2M553 823.5h2M556 823.5h7M566 823.5h8M576 823.5h6M583 823.5h13M597 823.5h8M606 823.5h5M617 823.5h2M627 823.5h2M633 823.5h2M636 823.5h2M653 823.5h2M675 823.5h2M417 824.5h2M421 824.5h6M429 824.5h16M513 824.5h9M523 824.5h2M526 824.5h2M530 824.5h3M537 824.5h2M547 824.5h2M553 824.5h2M559 824.5h4M566 824.5h10M577 824.5h5M584 824.5h6M592 824.5h9M602 824.5h3M607 824.5h5M617 824.5h2M621 824.5h4M630 824.5h2M653 824.5h2M421 825.5h4M429 825.5h4M434 825.5h11M514 825.5h8M523 825.5h5M530 825.5h5M536 825.5h3M547 825.5h2M559 825.5h4M566 825.5h3M570 825.5h2M573 825.5h3M577 825.5h2M582 825.5h4M588 825.5h2M591 825.5h9M606 825.5h2M609 825.5h3M617 825.5h2M621 825.5h4M626 825.5h2M630 825.5h2M643 825.5h2M422 826.5h2M429 826.5h3M435 826.5h9M511 826.5h2M516 826.5h6M523 826.5h9M533 826.5h5M555 826.5h2M559 826.5h2M566 826.5h2M571 826.5h2M574 826.5h2M579 826.5h2M582 826.5h5M588 826.5h8M597 826.5h3M601 826.5h2M606 826.5h2M626 826.5h2M630 826.5h2M637 826.5h2M643 826.5h2M422 827.5h2M429 827.5h2M433 827.5h4M438 827.5h6M499 827.5h2M509 827.5h13M526 827.5h5M532 827.5h6M545 827.5h4M553 827.5h8M564 827.5h2M571 827.5h24M597 827.5h3M601 827.5h2M608 827.5h5M623 827.5h2M628 827.5h4M637 827.5h4M646 827.5h2M422 828.5h2M428 828.5h2M432 828.5h12M499 828.5h2M509 828.5h13M523 828.5h2M526 828.5h2M529 828.5h5M535 828.5h5M541 828.5h2M545 828.5h4M553 828.5h2M556 828.5h4M564 828.5h2M567 828.5h4M573 828.5h21M597 828.5h2M601 828.5h6M608 828.5h5M620 828.5h2M623 828.5h9M638 828.5h5M646 828.5h2M416 829.5h2M422 829.5h3M426 829.5h4M432 829.5h12M508 829.5h14M523 829.5h9M534 829.5h2M538 829.5h2M541 829.5h2M549 829.5h2M552 829.5h2M556 829.5h2M561 829.5h2M567 829.5h4M573 829.5h2M578 829.5h16M597 829.5h10M608 829.5h9M618 829.5h5M625 829.5h4M630 829.5h2M636 829.5h2M641 829.5h2M416 830.5h2M423 830.5h2M426 830.5h2M431 830.5h7M439 830.5h4M505 830.5h15M521 830.5h9M532 830.5h4M549 830.5h5M555 830.5h2M561 830.5h2M564 830.5h2M573 830.5h22M597 830.5h5M605 830.5h12M618 830.5h6M626 830.5h3M631 830.5h2M636 830.5h4M416 831.5h2M431 831.5h2M435 831.5h9M504 831.5h26M532 831.5h2M539 831.5h2M548 831.5h2M551 831.5h6M564 831.5h2M573 831.5h7M582 831.5h10M593 831.5h9M603 831.5h6M610 831.5h6M620 831.5h4M626 831.5h2M629 831.5h4M634 831.5h2M637 831.5h3M642 831.5h2M421 832.5h2M426 832.5h2M431 832.5h13M504 832.5h4M509 832.5h3M514 832.5h3M518 832.5h13M533 832.5h2M539 832.5h2M543 832.5h7M552 832.5h5M560 832.5h3M573 832.5h7M582 832.5h2M585 832.5h7M593 832.5h4M603 832.5h4M608 832.5h2M612 832.5h4M618 832.5h2M628 832.5h3M632 832.5h4M642 832.5h2M421 833.5h2M424 833.5h4M431 833.5h5M438 833.5h7M502 833.5h2M506 833.5h2M510 833.5h10M522 833.5h4M529 833.5h2M533 833.5h3M543 833.5h7M552 833.5h5M560 833.5h4M573 833.5h7M586 833.5h2M590 833.5h5M600 833.5h2M604 833.5h6M614 833.5h2M618 833.5h2M623 833.5h4M628 833.5h2M632 833.5h4M424 834.5h2M428 834.5h2M431 834.5h4M438 834.5h7M489 834.5h2M500 834.5h5M506 834.5h3M510 834.5h12M524 834.5h2M527 834.5h6M534 834.5h2M543 834.5h2M547 834.5h8M557 834.5h2M561 834.5h3M567 834.5h6M574 834.5h3M578 834.5h2M590 834.5h5M600 834.5h2M604 834.5h4M618 834.5h2M623 834.5h4M631 834.5h2M634 834.5h4M641 834.5h2M416 835.5h2M421 835.5h4M428 835.5h2M431 835.5h4M438 835.5h6M489 835.5h2M500 835.5h2M503 835.5h7M512 835.5h10M527 835.5h2M531 835.5h4M536 835.5h2M543 835.5h2M547 835.5h2M550 835.5h6M557 835.5h6M567 835.5h6M575 835.5h4M586 835.5h3M592 835.5h2M595 835.5h2M602 835.5h2M605 835.5h5M618 835.5h2M631 835.5h2M634 835.5h6M641 835.5h2M416 836.5h2M421 836.5h4M432 836.5h2M438 836.5h8M500 836.5h3M504 836.5h3M508 836.5h4M514 836.5h8M530 836.5h2M533 836.5h7M552 836.5h6M559 836.5h2M566 836.5h7M575 836.5h6M583 836.5h7M591 836.5h6M602 836.5h8M620 836.5h2M638 836.5h5M432 837.5h14M496 837.5h3M500 837.5h7M509 837.5h3M513 837.5h9M526 837.5h2M530 837.5h2M534 837.5h2M537 837.5h3M549 837.5h2M552 837.5h6M566 837.5h7M575 837.5h3M579 837.5h2M583 837.5h3M587 837.5h3M591 837.5h6M603 837.5h6M610 837.5h4M619 837.5h3M628 837.5h2M639 837.5h4M652 837.5h4M426 838.5h2M431 838.5h10M443 838.5h2M494 838.5h6M503 838.5h5M510 838.5h2M513 838.5h5M520 838.5h3M526 838.5h2M537 838.5h2M549 838.5h2M552 838.5h2M565 838.5h3M569 838.5h2M587 838.5h2M591 838.5h6M600 838.5h2M605 838.5h4M610 838.5h4M616 838.5h2M619 838.5h2M625 838.5h2M628 838.5h2M637 838.5h2M640 838.5h2M652 838.5h4M416 839.5h3M426 839.5h2M431 839.5h9M445 839.5h2M494 839.5h6M501 839.5h4M506 839.5h2M514 839.5h9M526 839.5h3M537 839.5h2M554 839.5h2M565 839.5h2M569 839.5h4M578 839.5h2M584 839.5h2M588 839.5h2M591 839.5h2M599 839.5h3M604 839.5h5M616 839.5h4M625 839.5h2M637 839.5h2M416 840.5h3M428 840.5h9M439 840.5h3M445 840.5h2M490 840.5h2M494 840.5h12M508 840.5h2M515 840.5h8M526 840.5h3M554 840.5h2M559 840.5h2M567 840.5h2M571 840.5h2M577 840.5h6M584 840.5h2M587 840.5h3M591 840.5h2M597 840.5h12M616 840.5h6M627 840.5h5M635 840.5h2M426 841.5h6M433 841.5h4M439 841.5h5M449 841.5h2M485 841.5h8M495 841.5h11M508 841.5h2M516 841.5h4M521 841.5h2M525 841.5h2M542 841.5h2M551 841.5h2M559 841.5h2M567 841.5h2M577 841.5h9M587 841.5h5M594 841.5h2M597 841.5h3M601 841.5h4M607 841.5h2M610 841.5h2M620 841.5h2M627 841.5h5M635 841.5h2M420 842.5h2M426 842.5h2M435 842.5h2M439 842.5h2M442 842.5h6M449 842.5h5M485 842.5h10M496 842.5h4M502 842.5h4M509 842.5h2M516 842.5h6M525 842.5h4M530 842.5h2M542 842.5h2M551 842.5h4M558 842.5h2M569 842.5h3M577 842.5h4M582 842.5h2M587 842.5h2M590 842.5h2M594 842.5h2M598 842.5h2M610 842.5h3M617 842.5h5M624 842.5h2M627 842.5h2M416 843.5h3M420 843.5h2M426 843.5h2M435 843.5h6M443 843.5h11M481 843.5h3M485 843.5h3M491 843.5h11M504 843.5h2M507 843.5h4M512 843.5h2M515 843.5h3M520 843.5h2M527 843.5h2M530 843.5h2M534 843.5h2M538 843.5h2M553 843.5h2M558 843.5h2M569 843.5h5M577 843.5h2M585 843.5h4M590 843.5h2M593 843.5h3M598 843.5h2M601 843.5h2M611 843.5h2M617 843.5h5M623 843.5h3M416 844.5h3M426 844.5h2M430 844.5h2M433 844.5h8M443 844.5h2M447 844.5h4M454 844.5h2M480 844.5h5M486 844.5h17M504 844.5h2M507 844.5h2M512 844.5h6M520 844.5h2M527 844.5h2M534 844.5h6M547 844.5h2M563 844.5h2M572 844.5h2M577 844.5h2M581 844.5h3M585 844.5h4M591 844.5h4M598 844.5h2M601 844.5h2M605 844.5h4M612 844.5h2M617 844.5h2M620 844.5h5M626 844.5h2M641 844.5h2M430 845.5h2M433 845.5h2M437 845.5h12M452 845.5h4M470 845.5h4M476 845.5h2M480 845.5h7M488 845.5h11M500 845.5h3M506 845.5h3M513 845.5h2M520 845.5h2M536 845.5h2M546 845.5h3M563 845.5h3M572 845.5h3M577 845.5h2M581 845.5h5M591 845.5h4M596 845.5h3M600 845.5h3M605 845.5h4M612 845.5h2M617 845.5h2M621 845.5h2M626 845.5h2M632 845.5h4M641 845.5h2M648 845.5h2M671 845.5h2M427 846.5h2M430 846.5h3M437 846.5h2M440 846.5h11M452 846.5h3M457 846.5h17M475 846.5h3M479 846.5h14M495 846.5h6M506 846.5h2M513 846.5h2M519 846.5h3M546 846.5h2M557 846.5h2M564 846.5h4M572 846.5h3M584 846.5h2M590 846.5h2M594 846.5h5M600 846.5h2M606 846.5h4M632 846.5h4M648 846.5h2M671 846.5h2M427 847.5h3M431 847.5h2M435 847.5h2M440 847.5h7M449 847.5h6M457 847.5h14M475 847.5h11M487 847.5h14M503 847.5h2M519 847.5h3M548 847.5h2M552 847.5h3M557 847.5h2M560 847.5h2M564 847.5h4M590 847.5h6M599 847.5h2M606 847.5h6M629 847.5h2M428 848.5h2M431 848.5h2M435 848.5h2M438 848.5h2M442 848.5h4M450 848.5h5M456 848.5h5M462 848.5h6M469 848.5h3M474 848.5h5M482 848.5h4M487 848.5h3M493 848.5h2M496 848.5h2M500 848.5h2M503 848.5h2M511 848.5h2M516 848.5h2M524 848.5h2M530 848.5h2M548 848.5h2M552 848.5h3M560 848.5h2M564 848.5h2M572 848.5h4M583 848.5h2M590 848.5h4M599 848.5h2M603 848.5h4M610 848.5h2M619 848.5h4M625 848.5h2M629 848.5h2M632 848.5h3M641 848.5h2M418 849.5h2M424 849.5h2M428 849.5h2M432 849.5h2M435 849.5h2M438 849.5h2M443 849.5h6M452 849.5h3M456 849.5h3M460 849.5h12M474 849.5h3M478 849.5h2M482 849.5h4M487 849.5h3M492 849.5h4M500 849.5h2M508 849.5h2M511 849.5h2M516 849.5h2M520 849.5h2M524 849.5h3M528 849.5h6M549 849.5h4M556 849.5h2M560 849.5h2M565 849.5h2M572 849.5h4M583 849.5h2M590 849.5h3M594 849.5h2M603 849.5h4M608 849.5h3M619 849.5h4M625 849.5h2M632 849.5h3M636 849.5h2M641 849.5h2M418 850.5h2M424 850.5h2M432 850.5h2M442 850.5h17M460 850.5h4M465 850.5h4M474 850.5h3M478 850.5h4M483 850.5h6M492 850.5h4M497 850.5h2M508 850.5h2M512 850.5h2M516 850.5h3M520 850.5h2M525 850.5h2M528 850.5h6M549 850.5h4M556 850.5h2M560 850.5h4M565 850.5h2M570 850.5h5M577 850.5h2M584 850.5h4M594 850.5h2M601 850.5h4M608 850.5h3M621 850.5h3M631 850.5h2M636 850.5h2M436 851.5h2M439 851.5h2M442 851.5h3M446 851.5h14M463 851.5h2M467 851.5h3M473 851.5h4M478 851.5h4M483 851.5h7M491 851.5h4M497 851.5h4M502 851.5h2M508 851.5h2M511 851.5h3M516 851.5h3M533 851.5h2M549 851.5h2M556 851.5h2M559 851.5h2M562 851.5h2M570 851.5h5M577 851.5h2M580 851.5h2M583 851.5h5M594 851.5h4M601 851.5h2M611 851.5h2M621 851.5h4M631 851.5h2M424 852.5h2M428 852.5h2M433 852.5h2M436 852.5h2M439 852.5h2M444 852.5h4M449 852.5h12M463 852.5h7M471 852.5h4M478 852.5h2M482 852.5h8M491 852.5h2M497 852.5h4M502 852.5h2M511 852.5h2M514 852.5h2M527 852.5h2M533 852.5h2M537 852.5h2M549 852.5h2M559 852.5h2M571 852.5h2M580 852.5h2M583 852.5h5M590 852.5h8M599 852.5h4M611 852.5h2M621 852.5h4M424 853.5h2M428 853.5h2M433 853.5h2M436 853.5h2M444 853.5h2M449 853.5h8M458 853.5h3M462 853.5h8M471 853.5h2M475 853.5h5M482 853.5h12M498 853.5h3M504 853.5h2M514 853.5h3M527 853.5h2M535 853.5h4M552 853.5h2M559 853.5h2M562 853.5h2M567 853.5h2M571 853.5h2M576 853.5h4M585 853.5h3M590 853.5h4M598 853.5h5M436 854.5h4M445 854.5h5M453 854.5h3M458 854.5h2M462 854.5h3M466 854.5h6M474 854.5h13M488 854.5h7M499 854.5h2M502 854.5h4M515 854.5h2M535 854.5h2M552 854.5h2M559 854.5h5M567 854.5h2M576 854.5h4M581 854.5h2M598 854.5h2M428 855.5h2M436 855.5h4M443 855.5h8M452 855.5h4M463 855.5h4M468 855.5h4M474 855.5h10M485 855.5h3M491 855.5h4M502 855.5h2M509 855.5h2M520 855.5h2M542 855.5h2M561 855.5h2M564 855.5h2M579 855.5h4M588 855.5h2M592 855.5h2M605 855.5h2M612 855.5h2M637 855.5h2M428 856.5h2M433 856.5h2M436 856.5h2M443 856.5h14M462 856.5h2M465 856.5h4M473 856.5h8M482 856.5h2M486 856.5h3M494 856.5h2M502 856.5h2M509 856.5h2M520 856.5h2M542 856.5h2M556 856.5h2M562 856.5h4M568 856.5h2M579 856.5h3M588 856.5h2M592 856.5h2M605 856.5h2M612 856.5h2M629 856.5h2M637 856.5h2M428 857.5h2M433 857.5h2M436 857.5h2M445 857.5h4M451 857.5h18M473 857.5h2M476 857.5h6M484 857.5h2M487 857.5h2M494 857.5h2M520 857.5h2M526 857.5h2M554 857.5h4M562 857.5h2M568 857.5h2M580 857.5h2M583 857.5h2M593 857.5h2M607 857.5h4M624 857.5h2M629 857.5h2M648 857.5h2M428 858.5h2M432 858.5h2M436 858.5h4M451 858.5h4M456 858.5h11M468 858.5h2M479 858.5h3M484 858.5h2M491 858.5h2M508 858.5h2M525 858.5h3M540 858.5h2M551 858.5h6M569 858.5h6M583 858.5h2M590 858.5h2M593 858.5h2M607 858.5h4M612 858.5h2M618 858.5h2M624 858.5h3M640 858.5h2M648 858.5h2M432 859.5h2M438 859.5h2M451 859.5h4M456 859.5h2M460 859.5h3M464 859.5h3M468 859.5h2M472 859.5h2M477 859.5h4M482 859.5h2M487 859.5h2M491 859.5h4M508 859.5h2M517 859.5h2M525 859.5h2M540 859.5h2M551 859.5h4M567 859.5h9M590 859.5h2M609 859.5h2M612 859.5h2M618 859.5h2M625 859.5h2M640 859.5h2M442 860.5h2M449 860.5h4M456 860.5h2M459 860.5h5M465 860.5h4M472 860.5h2M475 860.5h6M482 860.5h4M487 860.5h4M493 860.5h2M517 860.5h3M531 860.5h2M565 860.5h4M574 860.5h2M596 860.5h2M600 860.5h2M612 860.5h4M634 860.5h2M442 861.5h2M449 861.5h2M456 861.5h2M459 861.5h2M462 861.5h2M467 861.5h4M475 861.5h2M479 861.5h2M484 861.5h3M489 861.5h2M493 861.5h2M497 861.5h2M518 861.5h2M531 861.5h2M545 861.5h2M565 861.5h2M596 861.5h2M600 861.5h2M607 861.5h2M614 861.5h2M634 861.5h2M421 862.5h2M439 862.5h3M445 862.5h3M456 862.5h6M466 862.5h5M474 862.5h2M479 862.5h2M485 862.5h2M496 862.5h3M521 862.5h2M545 862.5h2M549 862.5h2M564 862.5h2M579 862.5h2M583 862.5h2M590 862.5h2M602 862.5h2M606 862.5h3M611 862.5h2M638 862.5h2M421 863.5h2M439 863.5h3M445 863.5h3M455 863.5h4M460 863.5h4M466 863.5h3M474 863.5h2M478 863.5h2M490 863.5h2M496 863.5h2M521 863.5h2M549 863.5h2M564 863.5h2M579 863.5h2M583 863.5h3M590 863.5h2M602 863.5h2M605 863.5h3M611 863.5h2M629 863.5h2M638 863.5h2M443 864.5h2M449 864.5h2M455 864.5h2M461 864.5h3M471 864.5h2M478 864.5h2M489 864.5h3M507 864.5h2M562 864.5h2M584 864.5h2M605 864.5h2M629 864.5h2M437 865.5h2M443 865.5h2M449 865.5h2M455 865.5h2M462 865.5h2M470 865.5h3M475 865.5h2M489 865.5h2M507 865.5h2M534 865.5h2M562 865.5h2M600 865.5h2M604 865.5h2M437 866.5h2M450 866.5h4M455 866.5h2M459 866.5h2M462 866.5h2M470 866.5h2M475 866.5h2M481 866.5h2M494 866.5h2M534 866.5h2M582 866.5h2M587 866.5h2M600 866.5h2M604 866.5h2M616 866.5h2M635 866.5h2M450 867.5h4M455 867.5h3M459 867.5h4M474 867.5h3M479 867.5h4M494 867.5h2M509 867.5h2M577 867.5h2M582 867.5h2M587 867.5h2M616 867.5h2M620 867.5h2M635 867.5h2M456 868.5h7M473 868.5h4M479 868.5h2M509 868.5h3M577 868.5h2M620 868.5h2M436 869.5h2M441 869.5h2M457 869.5h3M473 869.5h2M510 869.5h2M546 869.5h2M605 869.5h2M436 870.5h2M441 870.5h2M457 870.5h2M477 870.5h2M492 870.5h2M495 870.5h2M546 870.5h2M550 870.5h2M584 870.5h2M605 870.5h2M457 871.5h2M477 871.5h2M492 871.5h2M495 871.5h2M543 871.5h2M550 871.5h2M584 871.5h2M594 871.5h2M604 871.5h2M457 872.5h2M536 872.5h2M543 872.5h2M594 872.5h2M604 872.5h2M424 873.5h2M472 873.5h2M536 873.5h2M606 873.5h2M424 874.5h2M472 874.5h2M482 874.5h2M606 874.5h2M482 875.5h2M580 875.5h2M580 876.5h2M464 877.5h2M595 877.5h2M600 877.5h2M464 878.5h2M561 878.5h2M595 878.5h2M600 878.5h2M438 879.5h2M561 879.5h2M438 880.5h2M526 880.5h2M435 881.5h2M439 881.5h2M526 881.5h2M435 882.5h2M439 882.5h2M608 882.5h2M608 883.5h2M519 885.5h2M490 886.5h2M519 886.5h2M461 887.5h2M490 887.5h2M461 888.5h2" stroke="#1e1e1e" stroke-width="1" fill="none"/>
<path d="M405.9 864.2H414.4M405.9 848.2H414.4M405.9 836.9H414.4M405.9 828.1H414.4M405.9 820.9H414.4M405.9 814.8H414.4M405.9 809.6H414.4M405.9 805.0H414.4M399.4 800.8H414.4M405.9 773.5H414.4M405.9 757.5H414.4M405.9 746.2H414.4M405.9 737.4H414.4M405.9 730.2H414.4M405.9 724.1H414.4M405.9 718.9H414.4M405.9 714.3H414.4M399.4 710.1H414.4M405.9 682.8H414.4M405.9 666.8H414.4M405.9 655.5H414.4M405.9 646.7H414.4M405.9 639.5H414.4M405.9 633.4H414.4M405.9 628.2H414.4M405.9 623.6H414.4M399.4 619.4H414.4M405.9 592.1H414.4M405.9 576.1H414.4M405.9 564.8H414.4M405.9 556.0H414.4M405.9 548.8H414.4M405.9 542.7H414.4M405.9 537.5H414.4M405.9 532.9H414.4M399.4 526.7H414.4M441.8 889.8V896.3M459.0 889.8V896.3M471.2 889.8V896.3M480.7 889.8V896.3M488.4 889.8V896.3M495.0 889.8V896.3M500.6 889.8V896.3M505.6 889.8V896.3M510.1 889.8V900.8M539.5 889.8V896.3M556.7 889.8V896.3M568.9 889.8V896.3M578.4 889.8V896.3M586.1 889.8V896.3M592.7 889.8V896.3M598.3 889.8V896.3M603.3 889.8V896.3M607.8 889.8V900.8M637.2 889.8V896.3M654.4 889.8V896.3M666.6 889.8V896.3M676.1 889.8V896.3M683.8 889.8V896.3M690.4 889.8V896.3M696.0 889.8V896.3M701.0 889.8V896.3M705.5 889.8V900.8M734.9 889.8V896.3M752.1 889.8V896.3M764.3 889.8V896.3M773.8 889.8V896.3M781.5 889.8V896.3M788.1 889.8V896.3M793.7 889.8V896.3M798.7 889.8V896.3M803.2 889.8V900.8" stroke="#333" stroke-width="2.6" fill="none"/>
<rect x="414.4" y="526.7" width="388.8" height="363.1" fill="none" stroke="#3a3a3a" stroke-width="2.6"/>
<path d="M542.8 526.7V889.8M414.4 778.5H803.2" stroke="#000" stroke-width="3.2"/>
<text x="312.3" y="531.9" font-size="43" font-weight="bold">D</text>
<text x="362.9" y="809.8" font-size="23.4">10<tspan font-size="13" dy="-7">0</tspan></text>
<text x="362.9" y="719.1" font-size="23.4">10<tspan font-size="13" dy="-7">1</tspan></text>
<text x="362.9" y="628.4" font-size="23.4">10<tspan font-size="13" dy="-7">2</tspan></text>
<text x="362.9" y="537.7" font-size="23.4">10<tspan font-size="13" dy="-7">3</tspan></text>
<text x="499.3" y="918.4" font-size="23.4">10<tspan font-size="13" dy="-7">0</tspan></text>
<text x="597.0" y="918.4" font-size="23.4">10<tspan font-size="13" dy="-7">1</tspan></text>
<text x="694.7" y="918.4" font-size="23.4">10<tspan font-size="13" dy="-7">2</tspan></text>
<text x="773.9" y="918.4" font-size="23.4">10<tspan font-size="13" dy="-7">3</tspan></text>
<text x="503.4" y="956.4" font-size="33.6" textLength="98.6" lengthAdjust="spacingAndGlyphs" class="h">Annexin</text>
<text x="609.2" y="956.4" font-size="33.6" textLength="103.2" lengthAdjust="spacingAndGlyphs" class="h">V-FITC</text>
<text transform="translate(351.9,726.2) rotate(-90)" class="h" font-size="34" textLength="30.0" lengthAdjust="spacingAndGlyphs">PI</text>
<text x="864.7" y="532.2" font-size="42.5" font-weight="bold">E</text>
<path d="M1008.8 535.5V907.5H1771.1V915.3M998.5 907.5H1008.8M998.5 845.5H1008.8M998.5 783.5H1008.8M998.5 721.5H1008.8M998.5 659.5H1008.8M998.5 597.5H1008.8M998.5 535.5H1008.8M1104.6 907.5V915.3M1294.3 907.5V915.3M1485.6 907.5V915.3M1674.9 907.5V915.3" stroke="#858585" stroke-width="2.2" fill="none"/>
<path d="M1066.8 907.5V881.1H1142.3V907.5M1104.6 881.1V869.1M1098.1 869.1H1111.1M1256.5 907.5V837.8H1332.0V907.5M1294.3 837.8V824.2M1287.8 824.2H1300.8M1447.8 907.5V783.5H1523.3V907.5M1485.6 783.5V763.4M1479.1 763.4H1492.1M1637.2 907.5V626.5H1712.7V907.5M1674.9 626.5V600.6M1668.4 600.6H1681.4" stroke="#000" stroke-width="2.4" fill="none"/>
<text x="981.2" y="916.7" font-size="32.7" text-anchor="end">0</text>
<text x="981.2" y="854.7" font-size="32.7" text-anchor="end">10</text>
<text x="981.2" y="792.7" font-size="32.7" text-anchor="end">20</text>
<text x="981.2" y="730.7" font-size="32.7" text-anchor="end">30</text>
<text x="981.2" y="668.7" font-size="32.7" text-anchor="end">40</text>
<text x="981.2" y="606.7" font-size="32.7" text-anchor="end">50</text>
<text x="981.2" y="544.7" font-size="32.7" text-anchor="end">60</text>
<text x="1052.0" y="957.5" font-size="32.5" textLength="96.9" lengthAdjust="spacingAndGlyphs">Control</text>
<text x="1241.3" y="957.5" font-size="32.5" textLength="99.7" lengthAdjust="spacingAndGlyphs">5 μg/ml</text>
<text x="1424.4" y="957.5" font-size="32.5" textLength="114.9" lengthAdjust="spacingAndGlyphs">10 μg/ml</text>
<text x="1613.2" y="957.5" font-size="32.5" textLength="115.9" lengthAdjust="spacingAndGlyphs">20 μg/ml</text>
<text x="1295.3" y="823.6" font-size="31" font-weight="bold" text-anchor="middle">**</text>
<text x="1486.6" y="764.4" font-size="31" font-weight="bold" text-anchor="middle">**</text>
<text x="1675.9" y="602.1" font-size="31" font-weight="bold" text-anchor="middle">**</text>
<text transform="translate(933,860.8) rotate(-90)" font-size="35" textLength="276" lengthAdjust="spacingAndGlyphs">Apoptotic rate (%)</text>
</svg></body></html>
